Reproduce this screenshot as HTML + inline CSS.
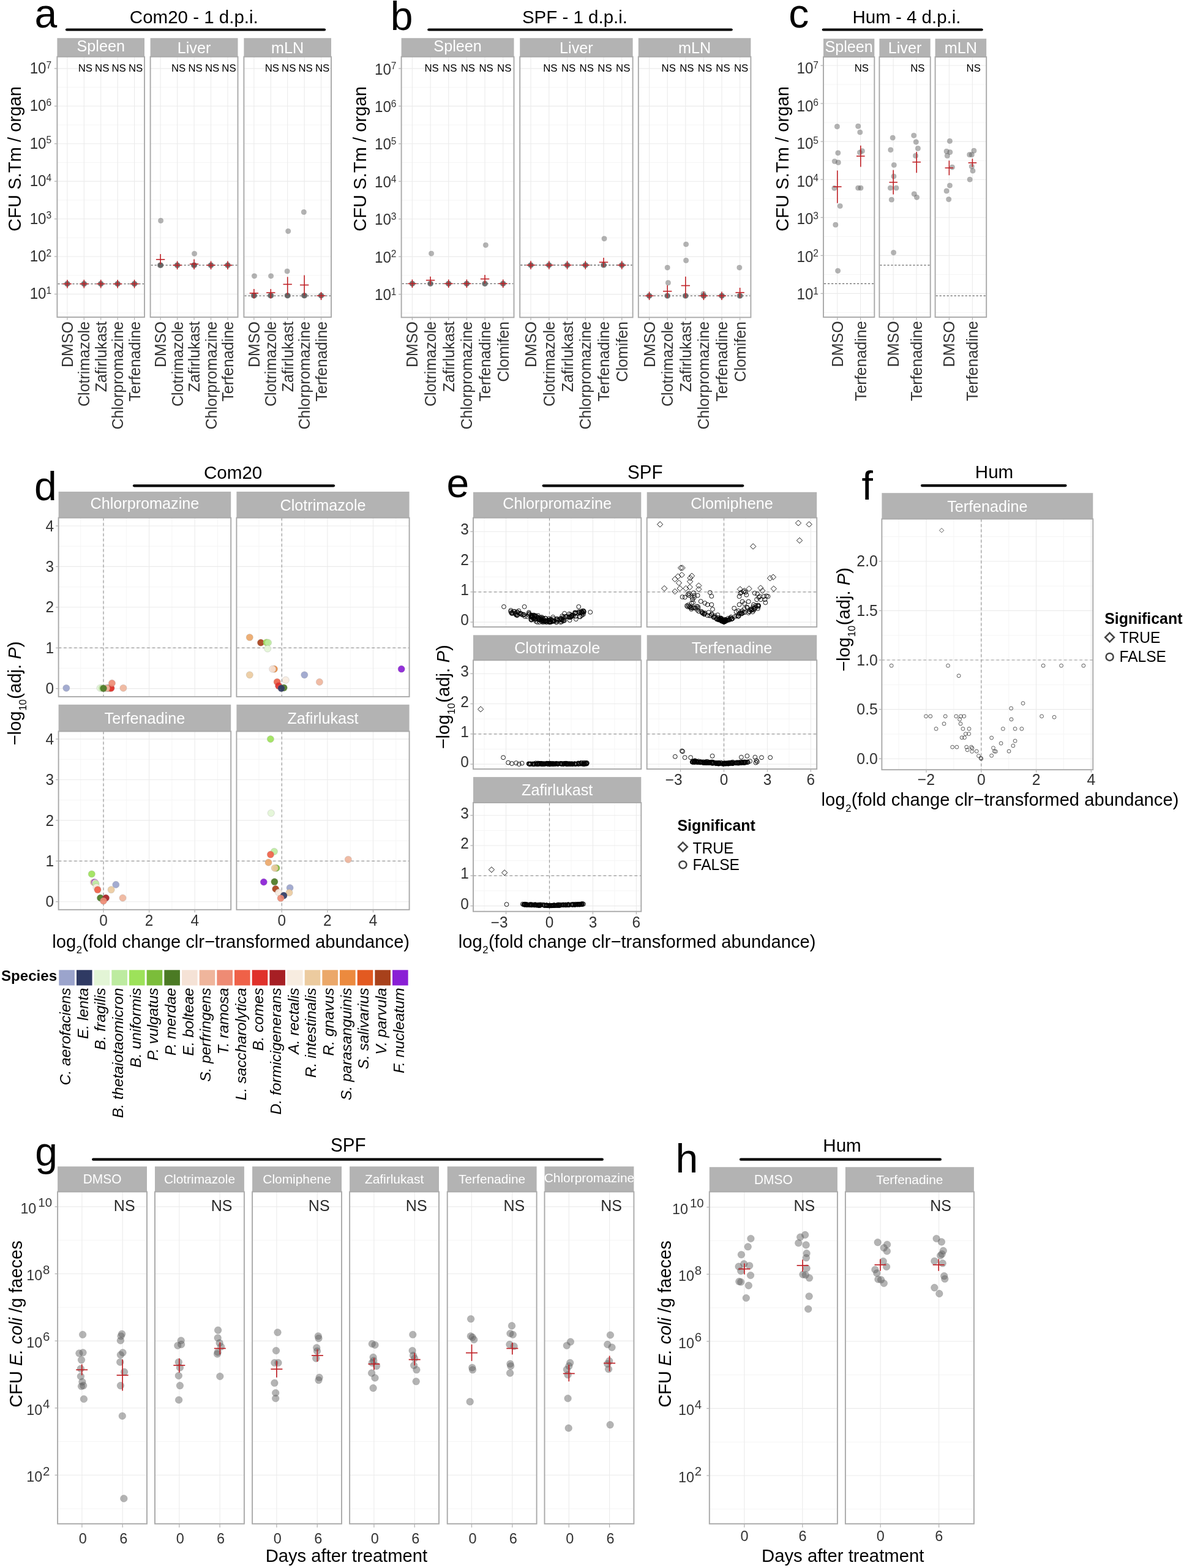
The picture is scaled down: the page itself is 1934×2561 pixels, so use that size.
<!DOCTYPE html>
<html><head><meta charset="utf-8"><title>Figure</title>
<style>html,body{margin:0;padding:0;background:#fff;} svg{display:block;}</style></head>
<body><svg width="1934" height="2561" viewBox="0 0 1934 2561" font-family="'Liberation Sans', Arial, sans-serif"><rect x="0" y="0" width="1934" height="2561" fill="#fff"/>
<text transform="translate(56.5,45.3)" font-size="66" fill="#000">a</text>
<text transform="translate(316.8,38.4)" font-size="29.5" fill="#000" text-anchor="middle">Com20 - 1 d.p.i.</text>
<line x1="109" y1="48.5" x2="530" y2="48.5" stroke="#000" stroke-width="4.2" stroke-linecap="round"/>
<rect x="93.4" y="62.2" width="142.6" height="30.5" fill="#b3b3b3"/>
<text transform="translate(164.7,84.08)" font-size="25.2" fill="#fff" text-anchor="middle">Spleen</text>
<rect x="93.4" y="92.7" width="142.6" height="425.3" fill="#fff"/>
<line x1="93.4" y1="449.69" x2="236" y2="449.69" stroke="#f5f5f5" stroke-width="1"/>
<line x1="93.4" y1="388.27" x2="236" y2="388.27" stroke="#f5f5f5" stroke-width="1"/>
<line x1="93.4" y1="326.85" x2="236" y2="326.85" stroke="#f5f5f5" stroke-width="1"/>
<line x1="93.4" y1="265.43" x2="236" y2="265.43" stroke="#f5f5f5" stroke-width="1"/>
<line x1="93.4" y1="204.01" x2="236" y2="204.01" stroke="#f5f5f5" stroke-width="1"/>
<line x1="93.4" y1="142.59" x2="236" y2="142.59" stroke="#f5f5f5" stroke-width="1"/>
<line x1="93.4" y1="511.11" x2="236" y2="511.11" stroke="#f5f5f5" stroke-width="1"/>
<line x1="93.4" y1="480.4" x2="236" y2="480.4" stroke="#ebebeb" stroke-width="1.1"/>
<line x1="93.4" y1="418.98" x2="236" y2="418.98" stroke="#ebebeb" stroke-width="1.1"/>
<line x1="93.4" y1="357.56" x2="236" y2="357.56" stroke="#ebebeb" stroke-width="1.1"/>
<line x1="93.4" y1="296.14" x2="236" y2="296.14" stroke="#ebebeb" stroke-width="1.1"/>
<line x1="93.4" y1="234.72" x2="236" y2="234.72" stroke="#ebebeb" stroke-width="1.1"/>
<line x1="93.4" y1="173.3" x2="236" y2="173.3" stroke="#ebebeb" stroke-width="1.1"/>
<line x1="93.4" y1="111.88" x2="236" y2="111.88" stroke="#ebebeb" stroke-width="1.1"/>
<line x1="109.85" y1="92.7" x2="109.85" y2="518" stroke="#ebebeb" stroke-width="1.1"/>
<line x1="137.28" y1="92.7" x2="137.28" y2="518" stroke="#ebebeb" stroke-width="1.1"/>
<line x1="164.7" y1="92.7" x2="164.7" y2="518" stroke="#ebebeb" stroke-width="1.1"/>
<line x1="192.12" y1="92.7" x2="192.12" y2="518" stroke="#ebebeb" stroke-width="1.1"/>
<line x1="219.55" y1="92.7" x2="219.55" y2="518" stroke="#ebebeb" stroke-width="1.1"/>
<line x1="94.4" y1="463.6" x2="235" y2="463.6" stroke="#666666" stroke-width="1.3" stroke-dasharray="3.2,2.8"/>
<rect x="93.4" y="92.7" width="142.6" height="425.3" fill="none" stroke="#a9a9a9" stroke-width="1.9"/>
<line x1="88.9" y1="480.4" x2="93.4" y2="480.4" stroke="#b3b3b3" stroke-width="1.3"/>
<line x1="88.9" y1="418.98" x2="93.4" y2="418.98" stroke="#b3b3b3" stroke-width="1.3"/>
<line x1="88.9" y1="357.56" x2="93.4" y2="357.56" stroke="#b3b3b3" stroke-width="1.3"/>
<line x1="88.9" y1="296.14" x2="93.4" y2="296.14" stroke="#b3b3b3" stroke-width="1.3"/>
<line x1="88.9" y1="234.72" x2="93.4" y2="234.72" stroke="#b3b3b3" stroke-width="1.3"/>
<line x1="88.9" y1="173.3" x2="93.4" y2="173.3" stroke="#b3b3b3" stroke-width="1.3"/>
<line x1="88.9" y1="111.88" x2="93.4" y2="111.88" stroke="#b3b3b3" stroke-width="1.3"/>
<line x1="109.85" y1="518" x2="109.85" y2="522.5" stroke="#b3b3b3" stroke-width="1.3"/>
<line x1="137.28" y1="518" x2="137.28" y2="522.5" stroke="#b3b3b3" stroke-width="1.3"/>
<line x1="164.7" y1="518" x2="164.7" y2="522.5" stroke="#b3b3b3" stroke-width="1.3"/>
<line x1="192.12" y1="518" x2="192.12" y2="522.5" stroke="#b3b3b3" stroke-width="1.3"/>
<line x1="219.55" y1="518" x2="219.55" y2="522.5" stroke="#b3b3b3" stroke-width="1.3"/>
<text transform="translate(139.28,116.6) scale(1,1.035)" font-size="16.8" fill="#000" text-anchor="middle">NS</text>
<text transform="translate(166.7,116.6) scale(1,1.035)" font-size="16.8" fill="#000" text-anchor="middle">NS</text>
<text transform="translate(194.12,116.6) scale(1,1.035)" font-size="16.8" fill="#000" text-anchor="middle">NS</text>
<text transform="translate(221.55,116.6) scale(1,1.035)" font-size="16.8" fill="#000" text-anchor="middle">NS</text>
<text transform="translate(118.85,525) rotate(-90) scale(1,1.035)" font-size="25" fill="#333333" text-anchor="end">DMSO</text>
<text transform="translate(146.28,525) rotate(-90)" font-size="25" fill="#333333" text-anchor="end">Clotrimazole</text>
<text transform="translate(173.7,525) rotate(-90)" font-size="25" fill="#333333" text-anchor="end">Zafirlukast</text>
<text transform="translate(201.12,525) rotate(-90)" font-size="25" fill="#333333" text-anchor="end">Chlorpromazine</text>
<text transform="translate(228.55,525) rotate(-90)" font-size="25" fill="#333333" text-anchor="end">Terfenadine</text>
<rect x="245.6" y="62.2" width="142.9" height="30.5" fill="#b3b3b3"/>
<text transform="translate(317.05,86.72)" font-size="25.2" fill="#fff" text-anchor="middle">Liver</text>
<rect x="245.6" y="92.7" width="142.9" height="425.3" fill="#fff"/>
<line x1="245.6" y1="449.69" x2="388.5" y2="449.69" stroke="#f5f5f5" stroke-width="1"/>
<line x1="245.6" y1="388.27" x2="388.5" y2="388.27" stroke="#f5f5f5" stroke-width="1"/>
<line x1="245.6" y1="326.85" x2="388.5" y2="326.85" stroke="#f5f5f5" stroke-width="1"/>
<line x1="245.6" y1="265.43" x2="388.5" y2="265.43" stroke="#f5f5f5" stroke-width="1"/>
<line x1="245.6" y1="204.01" x2="388.5" y2="204.01" stroke="#f5f5f5" stroke-width="1"/>
<line x1="245.6" y1="142.59" x2="388.5" y2="142.59" stroke="#f5f5f5" stroke-width="1"/>
<line x1="245.6" y1="511.11" x2="388.5" y2="511.11" stroke="#f5f5f5" stroke-width="1"/>
<line x1="245.6" y1="480.4" x2="388.5" y2="480.4" stroke="#ebebeb" stroke-width="1.1"/>
<line x1="245.6" y1="418.98" x2="388.5" y2="418.98" stroke="#ebebeb" stroke-width="1.1"/>
<line x1="245.6" y1="357.56" x2="388.5" y2="357.56" stroke="#ebebeb" stroke-width="1.1"/>
<line x1="245.6" y1="296.14" x2="388.5" y2="296.14" stroke="#ebebeb" stroke-width="1.1"/>
<line x1="245.6" y1="234.72" x2="388.5" y2="234.72" stroke="#ebebeb" stroke-width="1.1"/>
<line x1="245.6" y1="173.3" x2="388.5" y2="173.3" stroke="#ebebeb" stroke-width="1.1"/>
<line x1="245.6" y1="111.88" x2="388.5" y2="111.88" stroke="#ebebeb" stroke-width="1.1"/>
<line x1="262.09" y1="92.7" x2="262.09" y2="518" stroke="#ebebeb" stroke-width="1.1"/>
<line x1="289.57" y1="92.7" x2="289.57" y2="518" stroke="#ebebeb" stroke-width="1.1"/>
<line x1="317.05" y1="92.7" x2="317.05" y2="518" stroke="#ebebeb" stroke-width="1.1"/>
<line x1="344.53" y1="92.7" x2="344.53" y2="518" stroke="#ebebeb" stroke-width="1.1"/>
<line x1="372.01" y1="92.7" x2="372.01" y2="518" stroke="#ebebeb" stroke-width="1.1"/>
<line x1="246.6" y1="433.2" x2="387.5" y2="433.2" stroke="#666666" stroke-width="1.3" stroke-dasharray="3.2,2.8"/>
<rect x="245.6" y="92.7" width="142.9" height="425.3" fill="none" stroke="#a9a9a9" stroke-width="1.9"/>
<line x1="262.09" y1="518" x2="262.09" y2="522.5" stroke="#b3b3b3" stroke-width="1.3"/>
<line x1="289.57" y1="518" x2="289.57" y2="522.5" stroke="#b3b3b3" stroke-width="1.3"/>
<line x1="317.05" y1="518" x2="317.05" y2="522.5" stroke="#b3b3b3" stroke-width="1.3"/>
<line x1="344.53" y1="518" x2="344.53" y2="522.5" stroke="#b3b3b3" stroke-width="1.3"/>
<line x1="372.01" y1="518" x2="372.01" y2="522.5" stroke="#b3b3b3" stroke-width="1.3"/>
<text transform="translate(291.57,116.6) scale(1,1.035)" font-size="16.8" fill="#000" text-anchor="middle">NS</text>
<text transform="translate(319.05,116.6) scale(1,1.035)" font-size="16.8" fill="#000" text-anchor="middle">NS</text>
<text transform="translate(346.53,116.6) scale(1,1.035)" font-size="16.8" fill="#000" text-anchor="middle">NS</text>
<text transform="translate(374.01,116.6) scale(1,1.035)" font-size="16.8" fill="#000" text-anchor="middle">NS</text>
<text transform="translate(271.09,525) rotate(-90) scale(1,1.035)" font-size="25" fill="#333333" text-anchor="end">DMSO</text>
<text transform="translate(298.57,525) rotate(-90)" font-size="25" fill="#333333" text-anchor="end">Clotrimazole</text>
<text transform="translate(326.05,525) rotate(-90)" font-size="25" fill="#333333" text-anchor="end">Zafirlukast</text>
<text transform="translate(353.53,525) rotate(-90)" font-size="25" fill="#333333" text-anchor="end">Chlorpromazine</text>
<text transform="translate(381.01,525) rotate(-90)" font-size="25" fill="#333333" text-anchor="end">Terfenadine</text>
<rect x="398.4" y="62.2" width="142.6" height="30.5" fill="#b3b3b3"/>
<text transform="translate(469.7,86.72)" font-size="25.2" fill="#fff" text-anchor="middle">mLN</text>
<rect x="398.4" y="92.7" width="142.6" height="425.3" fill="#fff"/>
<line x1="398.4" y1="449.69" x2="541" y2="449.69" stroke="#f5f5f5" stroke-width="1"/>
<line x1="398.4" y1="388.27" x2="541" y2="388.27" stroke="#f5f5f5" stroke-width="1"/>
<line x1="398.4" y1="326.85" x2="541" y2="326.85" stroke="#f5f5f5" stroke-width="1"/>
<line x1="398.4" y1="265.43" x2="541" y2="265.43" stroke="#f5f5f5" stroke-width="1"/>
<line x1="398.4" y1="204.01" x2="541" y2="204.01" stroke="#f5f5f5" stroke-width="1"/>
<line x1="398.4" y1="142.59" x2="541" y2="142.59" stroke="#f5f5f5" stroke-width="1"/>
<line x1="398.4" y1="511.11" x2="541" y2="511.11" stroke="#f5f5f5" stroke-width="1"/>
<line x1="398.4" y1="480.4" x2="541" y2="480.4" stroke="#ebebeb" stroke-width="1.1"/>
<line x1="398.4" y1="418.98" x2="541" y2="418.98" stroke="#ebebeb" stroke-width="1.1"/>
<line x1="398.4" y1="357.56" x2="541" y2="357.56" stroke="#ebebeb" stroke-width="1.1"/>
<line x1="398.4" y1="296.14" x2="541" y2="296.14" stroke="#ebebeb" stroke-width="1.1"/>
<line x1="398.4" y1="234.72" x2="541" y2="234.72" stroke="#ebebeb" stroke-width="1.1"/>
<line x1="398.4" y1="173.3" x2="541" y2="173.3" stroke="#ebebeb" stroke-width="1.1"/>
<line x1="398.4" y1="111.88" x2="541" y2="111.88" stroke="#ebebeb" stroke-width="1.1"/>
<line x1="414.85" y1="92.7" x2="414.85" y2="518" stroke="#ebebeb" stroke-width="1.1"/>
<line x1="442.28" y1="92.7" x2="442.28" y2="518" stroke="#ebebeb" stroke-width="1.1"/>
<line x1="469.7" y1="92.7" x2="469.7" y2="518" stroke="#ebebeb" stroke-width="1.1"/>
<line x1="497.12" y1="92.7" x2="497.12" y2="518" stroke="#ebebeb" stroke-width="1.1"/>
<line x1="524.55" y1="92.7" x2="524.55" y2="518" stroke="#ebebeb" stroke-width="1.1"/>
<line x1="399.4" y1="483.2" x2="540" y2="483.2" stroke="#666666" stroke-width="1.3" stroke-dasharray="3.2,2.8"/>
<rect x="398.4" y="92.7" width="142.6" height="425.3" fill="none" stroke="#a9a9a9" stroke-width="1.9"/>
<line x1="414.85" y1="518" x2="414.85" y2="522.5" stroke="#b3b3b3" stroke-width="1.3"/>
<line x1="442.28" y1="518" x2="442.28" y2="522.5" stroke="#b3b3b3" stroke-width="1.3"/>
<line x1="469.7" y1="518" x2="469.7" y2="522.5" stroke="#b3b3b3" stroke-width="1.3"/>
<line x1="497.12" y1="518" x2="497.12" y2="522.5" stroke="#b3b3b3" stroke-width="1.3"/>
<line x1="524.55" y1="518" x2="524.55" y2="522.5" stroke="#b3b3b3" stroke-width="1.3"/>
<text transform="translate(444.28,116.6) scale(1,1.035)" font-size="16.8" fill="#000" text-anchor="middle">NS</text>
<text transform="translate(471.7,116.6) scale(1,1.035)" font-size="16.8" fill="#000" text-anchor="middle">NS</text>
<text transform="translate(499.12,116.6) scale(1,1.035)" font-size="16.8" fill="#000" text-anchor="middle">NS</text>
<text transform="translate(526.55,116.6) scale(1,1.035)" font-size="16.8" fill="#000" text-anchor="middle">NS</text>
<text transform="translate(423.85,525) rotate(-90) scale(1,1.035)" font-size="25" fill="#333333" text-anchor="end">DMSO</text>
<text transform="translate(451.28,525) rotate(-90)" font-size="25" fill="#333333" text-anchor="end">Clotrimazole</text>
<text transform="translate(478.7,525) rotate(-90)" font-size="25" fill="#333333" text-anchor="end">Zafirlukast</text>
<text transform="translate(506.12,525) rotate(-90)" font-size="25" fill="#333333" text-anchor="end">Chlorpromazine</text>
<text transform="translate(533.55,525) rotate(-90)" font-size="25" fill="#333333" text-anchor="end">Terfenadine</text>
<text transform="translate(84.2,488.4) scale(1,1.035)" font-size="24.2" fill="#333333" text-anchor="end">10<tspan dy="-8" font-size="15.5">1</tspan></text>
<text transform="translate(84.2,426.98) scale(1,1.035)" font-size="24.2" fill="#333333" text-anchor="end">10<tspan dy="-8" font-size="15.5">2</tspan></text>
<text transform="translate(84.2,365.56) scale(1,1.035)" font-size="24.2" fill="#333333" text-anchor="end">10<tspan dy="-8" font-size="15.5">3</tspan></text>
<text transform="translate(84.2,304.14) scale(1,1.035)" font-size="24.2" fill="#333333" text-anchor="end">10<tspan dy="-8" font-size="15.5">4</tspan></text>
<text transform="translate(84.2,242.72) scale(1,1.035)" font-size="24.2" fill="#333333" text-anchor="end">10<tspan dy="-8" font-size="15.5">5</tspan></text>
<text transform="translate(84.2,181.3) scale(1,1.035)" font-size="24.2" fill="#333333" text-anchor="end">10<tspan dy="-8" font-size="15.5">6</tspan></text>
<text transform="translate(84.2,119.88) scale(1,1.035)" font-size="24.2" fill="#333333" text-anchor="end">10<tspan dy="-8" font-size="15.5">7</tspan></text>
<text transform="translate(34.3,259.5) rotate(-90)" font-size="29.2" fill="#000" text-anchor="middle">CFU S.Tm / organ</text>
<circle cx="109.35" cy="463.6" r="4.1" fill="#595959" fill-opacity="0.45" stroke="#595959" stroke-opacity="0.28" stroke-width="0.8"/>
<circle cx="109.85" cy="463.6" r="4.1" fill="#595959" fill-opacity="0.45" stroke="#595959" stroke-opacity="0.28" stroke-width="0.8"/>
<circle cx="110.35" cy="463.6" r="4.1" fill="#595959" fill-opacity="0.45" stroke="#595959" stroke-opacity="0.28" stroke-width="0.8"/>
<line x1="102.85" y1="463.6" x2="116.85" y2="463.6" stroke="#bf2126" stroke-width="1.6"/>
<line x1="109.85" y1="456.9" x2="109.85" y2="470.5" stroke="#bf2126" stroke-width="1.6"/>
<circle cx="136.78" cy="463.6" r="4.1" fill="#595959" fill-opacity="0.45" stroke="#595959" stroke-opacity="0.28" stroke-width="0.8"/>
<circle cx="137.28" cy="463.6" r="4.1" fill="#595959" fill-opacity="0.45" stroke="#595959" stroke-opacity="0.28" stroke-width="0.8"/>
<circle cx="137.78" cy="463.6" r="4.1" fill="#595959" fill-opacity="0.45" stroke="#595959" stroke-opacity="0.28" stroke-width="0.8"/>
<line x1="130.28" y1="463.6" x2="144.28" y2="463.6" stroke="#bf2126" stroke-width="1.6"/>
<line x1="137.28" y1="456.9" x2="137.28" y2="470.5" stroke="#bf2126" stroke-width="1.6"/>
<circle cx="164.2" cy="463.6" r="4.1" fill="#595959" fill-opacity="0.45" stroke="#595959" stroke-opacity="0.28" stroke-width="0.8"/>
<circle cx="164.7" cy="463.6" r="4.1" fill="#595959" fill-opacity="0.45" stroke="#595959" stroke-opacity="0.28" stroke-width="0.8"/>
<circle cx="165.2" cy="463.6" r="4.1" fill="#595959" fill-opacity="0.45" stroke="#595959" stroke-opacity="0.28" stroke-width="0.8"/>
<line x1="157.7" y1="463.6" x2="171.7" y2="463.6" stroke="#bf2126" stroke-width="1.6"/>
<line x1="164.7" y1="456.9" x2="164.7" y2="470.5" stroke="#bf2126" stroke-width="1.6"/>
<circle cx="191.62" cy="463.6" r="4.1" fill="#595959" fill-opacity="0.45" stroke="#595959" stroke-opacity="0.28" stroke-width="0.8"/>
<circle cx="192.12" cy="463.6" r="4.1" fill="#595959" fill-opacity="0.45" stroke="#595959" stroke-opacity="0.28" stroke-width="0.8"/>
<circle cx="192.62" cy="463.6" r="4.1" fill="#595959" fill-opacity="0.45" stroke="#595959" stroke-opacity="0.28" stroke-width="0.8"/>
<line x1="185.12" y1="463.6" x2="199.12" y2="463.6" stroke="#bf2126" stroke-width="1.6"/>
<line x1="192.12" y1="456.9" x2="192.12" y2="470.5" stroke="#bf2126" stroke-width="1.6"/>
<circle cx="219.05" cy="463.6" r="4.1" fill="#595959" fill-opacity="0.45" stroke="#595959" stroke-opacity="0.28" stroke-width="0.8"/>
<circle cx="219.55" cy="463.6" r="4.1" fill="#595959" fill-opacity="0.45" stroke="#595959" stroke-opacity="0.28" stroke-width="0.8"/>
<circle cx="220.05" cy="463.6" r="4.1" fill="#595959" fill-opacity="0.45" stroke="#595959" stroke-opacity="0.28" stroke-width="0.8"/>
<line x1="212.55" y1="463.6" x2="226.55" y2="463.6" stroke="#bf2126" stroke-width="1.6"/>
<line x1="219.55" y1="456.9" x2="219.55" y2="470.5" stroke="#bf2126" stroke-width="1.6"/>
<circle cx="262.59" cy="360.4" r="4.1" fill="#595959" fill-opacity="0.45" stroke="#595959" stroke-opacity="0.28" stroke-width="0.8"/>
<circle cx="261.34" cy="433.2" r="4.1" fill="#595959" fill-opacity="0.45" stroke="#595959" stroke-opacity="0.28" stroke-width="0.8"/>
<circle cx="261.84" cy="433.2" r="4.1" fill="#595959" fill-opacity="0.45" stroke="#595959" stroke-opacity="0.28" stroke-width="0.8"/>
<circle cx="262.34" cy="433.2" r="4.1" fill="#595959" fill-opacity="0.45" stroke="#595959" stroke-opacity="0.28" stroke-width="0.8"/>
<circle cx="262.84" cy="433.2" r="4.1" fill="#595959" fill-opacity="0.45" stroke="#595959" stroke-opacity="0.28" stroke-width="0.8"/>
<line x1="254.89" y1="423.8" x2="269.29" y2="423.8" stroke="#bf2126" stroke-width="1.6"/>
<line x1="262.09" y1="415" x2="262.09" y2="431.7" stroke="#bf2126" stroke-width="1.6"/>
<circle cx="289.07" cy="433.2" r="4.1" fill="#595959" fill-opacity="0.45" stroke="#595959" stroke-opacity="0.28" stroke-width="0.8"/>
<circle cx="289.57" cy="433.2" r="4.1" fill="#595959" fill-opacity="0.45" stroke="#595959" stroke-opacity="0.28" stroke-width="0.8"/>
<circle cx="290.07" cy="433.2" r="4.1" fill="#595959" fill-opacity="0.45" stroke="#595959" stroke-opacity="0.28" stroke-width="0.8"/>
<line x1="282.57" y1="433.2" x2="296.57" y2="433.2" stroke="#bf2126" stroke-width="1.6"/>
<line x1="289.57" y1="426.5" x2="289.57" y2="440" stroke="#bf2126" stroke-width="1.6"/>
<circle cx="317.55" cy="414.3" r="4.1" fill="#595959" fill-opacity="0.45" stroke="#595959" stroke-opacity="0.28" stroke-width="0.8"/>
<circle cx="316.3" cy="433.2" r="4.1" fill="#595959" fill-opacity="0.45" stroke="#595959" stroke-opacity="0.28" stroke-width="0.8"/>
<circle cx="316.8" cy="433.2" r="4.1" fill="#595959" fill-opacity="0.45" stroke="#595959" stroke-opacity="0.28" stroke-width="0.8"/>
<circle cx="317.3" cy="433.2" r="4.1" fill="#595959" fill-opacity="0.45" stroke="#595959" stroke-opacity="0.28" stroke-width="0.8"/>
<circle cx="317.8" cy="433.2" r="4.1" fill="#595959" fill-opacity="0.45" stroke="#595959" stroke-opacity="0.28" stroke-width="0.8"/>
<line x1="309.85" y1="431.3" x2="324.25" y2="431.3" stroke="#bf2126" stroke-width="1.6"/>
<line x1="317.05" y1="423.4" x2="317.05" y2="440" stroke="#bf2126" stroke-width="1.6"/>
<circle cx="344.03" cy="433.2" r="4.1" fill="#595959" fill-opacity="0.45" stroke="#595959" stroke-opacity="0.28" stroke-width="0.8"/>
<circle cx="344.53" cy="433.2" r="4.1" fill="#595959" fill-opacity="0.45" stroke="#595959" stroke-opacity="0.28" stroke-width="0.8"/>
<circle cx="345.03" cy="433.2" r="4.1" fill="#595959" fill-opacity="0.45" stroke="#595959" stroke-opacity="0.28" stroke-width="0.8"/>
<line x1="337.53" y1="433.2" x2="351.53" y2="433.2" stroke="#bf2126" stroke-width="1.6"/>
<line x1="344.53" y1="426.5" x2="344.53" y2="440" stroke="#bf2126" stroke-width="1.6"/>
<circle cx="371.51" cy="433.2" r="4.1" fill="#595959" fill-opacity="0.45" stroke="#595959" stroke-opacity="0.28" stroke-width="0.8"/>
<circle cx="372.01" cy="433.2" r="4.1" fill="#595959" fill-opacity="0.45" stroke="#595959" stroke-opacity="0.28" stroke-width="0.8"/>
<circle cx="372.51" cy="433.2" r="4.1" fill="#595959" fill-opacity="0.45" stroke="#595959" stroke-opacity="0.28" stroke-width="0.8"/>
<line x1="365.01" y1="433.2" x2="379.01" y2="433.2" stroke="#bf2126" stroke-width="1.6"/>
<line x1="372.01" y1="426.5" x2="372.01" y2="440" stroke="#bf2126" stroke-width="1.6"/>
<circle cx="415.45" cy="450.8" r="4.1" fill="#595959" fill-opacity="0.45" stroke="#595959" stroke-opacity="0.28" stroke-width="0.8"/>
<circle cx="414.1" cy="482.8" r="4.1" fill="#595959" fill-opacity="0.45" stroke="#595959" stroke-opacity="0.28" stroke-width="0.8"/>
<circle cx="414.6" cy="482.8" r="4.1" fill="#595959" fill-opacity="0.45" stroke="#595959" stroke-opacity="0.28" stroke-width="0.8"/>
<circle cx="415.1" cy="482.8" r="4.1" fill="#595959" fill-opacity="0.45" stroke="#595959" stroke-opacity="0.28" stroke-width="0.8"/>
<circle cx="415.6" cy="482.8" r="4.1" fill="#595959" fill-opacity="0.45" stroke="#595959" stroke-opacity="0.28" stroke-width="0.8"/>
<line x1="407.65" y1="478.8" x2="422.05" y2="478.8" stroke="#bf2126" stroke-width="1.6"/>
<line x1="414.85" y1="472.1" x2="414.85" y2="487.4" stroke="#bf2126" stroke-width="1.6"/>
<circle cx="442.58" cy="450.8" r="4.1" fill="#595959" fill-opacity="0.45" stroke="#595959" stroke-opacity="0.28" stroke-width="0.8"/>
<circle cx="441.53" cy="482.8" r="4.1" fill="#595959" fill-opacity="0.45" stroke="#595959" stroke-opacity="0.28" stroke-width="0.8"/>
<circle cx="442.03" cy="482.8" r="4.1" fill="#595959" fill-opacity="0.45" stroke="#595959" stroke-opacity="0.28" stroke-width="0.8"/>
<circle cx="442.53" cy="482.8" r="4.1" fill="#595959" fill-opacity="0.45" stroke="#595959" stroke-opacity="0.28" stroke-width="0.8"/>
<circle cx="443.03" cy="482.8" r="4.1" fill="#595959" fill-opacity="0.45" stroke="#595959" stroke-opacity="0.28" stroke-width="0.8"/>
<line x1="435.08" y1="478" x2="449.48" y2="478" stroke="#bf2126" stroke-width="1.6"/>
<line x1="442.28" y1="472.1" x2="442.28" y2="487.4" stroke="#bf2126" stroke-width="1.6"/>
<circle cx="470.7" cy="377.6" r="4.1" fill="#595959" fill-opacity="0.45" stroke="#595959" stroke-opacity="0.28" stroke-width="0.8"/>
<circle cx="469.1" cy="443" r="4.1" fill="#595959" fill-opacity="0.45" stroke="#595959" stroke-opacity="0.28" stroke-width="0.8"/>
<circle cx="468.95" cy="482.8" r="4.1" fill="#595959" fill-opacity="0.45" stroke="#595959" stroke-opacity="0.28" stroke-width="0.8"/>
<circle cx="469.45" cy="482.8" r="4.1" fill="#595959" fill-opacity="0.45" stroke="#595959" stroke-opacity="0.28" stroke-width="0.8"/>
<circle cx="469.95" cy="482.8" r="4.1" fill="#595959" fill-opacity="0.45" stroke="#595959" stroke-opacity="0.28" stroke-width="0.8"/>
<circle cx="470.45" cy="482.8" r="4.1" fill="#595959" fill-opacity="0.45" stroke="#595959" stroke-opacity="0.28" stroke-width="0.8"/>
<line x1="462.5" y1="464.4" x2="476.9" y2="464.4" stroke="#bf2126" stroke-width="1.6"/>
<line x1="469.7" y1="452.3" x2="469.7" y2="481.5" stroke="#bf2126" stroke-width="1.6"/>
<circle cx="496.32" cy="346.4" r="4.1" fill="#595959" fill-opacity="0.45" stroke="#595959" stroke-opacity="0.28" stroke-width="0.8"/>
<circle cx="496.37" cy="482.8" r="4.1" fill="#595959" fill-opacity="0.45" stroke="#595959" stroke-opacity="0.28" stroke-width="0.8"/>
<circle cx="496.87" cy="482.8" r="4.1" fill="#595959" fill-opacity="0.45" stroke="#595959" stroke-opacity="0.28" stroke-width="0.8"/>
<circle cx="497.37" cy="482.8" r="4.1" fill="#595959" fill-opacity="0.45" stroke="#595959" stroke-opacity="0.28" stroke-width="0.8"/>
<circle cx="497.87" cy="482.8" r="4.1" fill="#595959" fill-opacity="0.45" stroke="#595959" stroke-opacity="0.28" stroke-width="0.8"/>
<line x1="489.92" y1="465.5" x2="504.32" y2="465.5" stroke="#bf2126" stroke-width="1.6"/>
<line x1="497.12" y1="449.6" x2="497.12" y2="482.5" stroke="#bf2126" stroke-width="1.6"/>
<circle cx="524.05" cy="482.8" r="4.1" fill="#595959" fill-opacity="0.45" stroke="#595959" stroke-opacity="0.28" stroke-width="0.8"/>
<circle cx="524.55" cy="482.8" r="4.1" fill="#595959" fill-opacity="0.45" stroke="#595959" stroke-opacity="0.28" stroke-width="0.8"/>
<circle cx="525.05" cy="482.8" r="4.1" fill="#595959" fill-opacity="0.45" stroke="#595959" stroke-opacity="0.28" stroke-width="0.8"/>
<line x1="517.55" y1="483" x2="531.55" y2="483" stroke="#bf2126" stroke-width="1.6"/>
<line x1="524.55" y1="477" x2="524.55" y2="490" stroke="#bf2126" stroke-width="1.6"/>
<text transform="translate(637.8,48.6)" font-size="66" fill="#000">b</text>
<text transform="translate(939,38.4)" font-size="29.5" fill="#000" text-anchor="middle">SPF - 1 d.p.i.</text>
<line x1="700.3" y1="48.5" x2="1194.7" y2="48.5" stroke="#000" stroke-width="4.2" stroke-linecap="round"/>
<rect x="655.6" y="62.2" width="183.9" height="30.5" fill="#b3b3b3"/>
<text transform="translate(747.55,84.08)" font-size="25.2" fill="#fff" text-anchor="middle">Spleen</text>
<rect x="655.6" y="92.7" width="183.9" height="425.7" fill="#fff"/>
<line x1="655.6" y1="449.88" x2="839.5" y2="449.88" stroke="#f5f5f5" stroke-width="1"/>
<line x1="655.6" y1="388.43" x2="839.5" y2="388.43" stroke="#f5f5f5" stroke-width="1"/>
<line x1="655.6" y1="326.98" x2="839.5" y2="326.98" stroke="#f5f5f5" stroke-width="1"/>
<line x1="655.6" y1="265.52" x2="839.5" y2="265.52" stroke="#f5f5f5" stroke-width="1"/>
<line x1="655.6" y1="204.08" x2="839.5" y2="204.08" stroke="#f5f5f5" stroke-width="1"/>
<line x1="655.6" y1="142.63" x2="839.5" y2="142.63" stroke="#f5f5f5" stroke-width="1"/>
<line x1="655.6" y1="511.33" x2="839.5" y2="511.33" stroke="#f5f5f5" stroke-width="1"/>
<line x1="655.6" y1="480.6" x2="839.5" y2="480.6" stroke="#ebebeb" stroke-width="1.1"/>
<line x1="655.6" y1="419.15" x2="839.5" y2="419.15" stroke="#ebebeb" stroke-width="1.1"/>
<line x1="655.6" y1="357.7" x2="839.5" y2="357.7" stroke="#ebebeb" stroke-width="1.1"/>
<line x1="655.6" y1="296.25" x2="839.5" y2="296.25" stroke="#ebebeb" stroke-width="1.1"/>
<line x1="655.6" y1="234.8" x2="839.5" y2="234.8" stroke="#ebebeb" stroke-width="1.1"/>
<line x1="655.6" y1="173.35" x2="839.5" y2="173.35" stroke="#ebebeb" stroke-width="1.1"/>
<line x1="655.6" y1="111.9" x2="839.5" y2="111.9" stroke="#ebebeb" stroke-width="1.1"/>
<line x1="673.4" y1="92.7" x2="673.4" y2="518.4" stroke="#ebebeb" stroke-width="1.1"/>
<line x1="703.06" y1="92.7" x2="703.06" y2="518.4" stroke="#ebebeb" stroke-width="1.1"/>
<line x1="732.72" y1="92.7" x2="732.72" y2="518.4" stroke="#ebebeb" stroke-width="1.1"/>
<line x1="762.38" y1="92.7" x2="762.38" y2="518.4" stroke="#ebebeb" stroke-width="1.1"/>
<line x1="792.04" y1="92.7" x2="792.04" y2="518.4" stroke="#ebebeb" stroke-width="1.1"/>
<line x1="821.7" y1="92.7" x2="821.7" y2="518.4" stroke="#ebebeb" stroke-width="1.1"/>
<line x1="656.6" y1="463.3" x2="838.5" y2="463.3" stroke="#666666" stroke-width="1.3" stroke-dasharray="3.2,2.8"/>
<rect x="655.6" y="92.7" width="183.9" height="425.7" fill="none" stroke="#a9a9a9" stroke-width="1.9"/>
<line x1="651.1" y1="480.6" x2="655.6" y2="480.6" stroke="#b3b3b3" stroke-width="1.3"/>
<line x1="651.1" y1="419.15" x2="655.6" y2="419.15" stroke="#b3b3b3" stroke-width="1.3"/>
<line x1="651.1" y1="357.7" x2="655.6" y2="357.7" stroke="#b3b3b3" stroke-width="1.3"/>
<line x1="651.1" y1="296.25" x2="655.6" y2="296.25" stroke="#b3b3b3" stroke-width="1.3"/>
<line x1="651.1" y1="234.8" x2="655.6" y2="234.8" stroke="#b3b3b3" stroke-width="1.3"/>
<line x1="651.1" y1="173.35" x2="655.6" y2="173.35" stroke="#b3b3b3" stroke-width="1.3"/>
<line x1="651.1" y1="111.9" x2="655.6" y2="111.9" stroke="#b3b3b3" stroke-width="1.3"/>
<line x1="673.4" y1="518.4" x2="673.4" y2="522.9" stroke="#b3b3b3" stroke-width="1.3"/>
<line x1="703.06" y1="518.4" x2="703.06" y2="522.9" stroke="#b3b3b3" stroke-width="1.3"/>
<line x1="732.72" y1="518.4" x2="732.72" y2="522.9" stroke="#b3b3b3" stroke-width="1.3"/>
<line x1="762.38" y1="518.4" x2="762.38" y2="522.9" stroke="#b3b3b3" stroke-width="1.3"/>
<line x1="792.04" y1="518.4" x2="792.04" y2="522.9" stroke="#b3b3b3" stroke-width="1.3"/>
<line x1="821.7" y1="518.4" x2="821.7" y2="522.9" stroke="#b3b3b3" stroke-width="1.3"/>
<text transform="translate(705.06,116.6) scale(1,1.035)" font-size="16.8" fill="#000" text-anchor="middle">NS</text>
<text transform="translate(734.72,116.6) scale(1,1.035)" font-size="16.8" fill="#000" text-anchor="middle">NS</text>
<text transform="translate(764.38,116.6) scale(1,1.035)" font-size="16.8" fill="#000" text-anchor="middle">NS</text>
<text transform="translate(794.04,116.6) scale(1,1.035)" font-size="16.8" fill="#000" text-anchor="middle">NS</text>
<text transform="translate(823.7,116.6) scale(1,1.035)" font-size="16.8" fill="#000" text-anchor="middle">NS</text>
<text transform="translate(682.4,525) rotate(-90) scale(1,1.035)" font-size="25" fill="#333333" text-anchor="end">DMSO</text>
<text transform="translate(712.06,525) rotate(-90)" font-size="25" fill="#333333" text-anchor="end">Clotrimazole</text>
<text transform="translate(741.72,525) rotate(-90)" font-size="25" fill="#333333" text-anchor="end">Zafirlukast</text>
<text transform="translate(771.38,525) rotate(-90)" font-size="25" fill="#333333" text-anchor="end">Chlorpromazine</text>
<text transform="translate(801.04,525) rotate(-90)" font-size="25" fill="#333333" text-anchor="end">Terfenadine</text>
<text transform="translate(830.7,525) rotate(-90)" font-size="25" fill="#333333" text-anchor="end">Clomifen</text>
<rect x="849.2" y="62.2" width="184.4" height="30.5" fill="#b3b3b3"/>
<text transform="translate(941.4,86.72)" font-size="25.2" fill="#fff" text-anchor="middle">Liver</text>
<rect x="849.2" y="92.7" width="184.4" height="425.7" fill="#fff"/>
<line x1="849.2" y1="449.88" x2="1033.6" y2="449.88" stroke="#f5f5f5" stroke-width="1"/>
<line x1="849.2" y1="388.43" x2="1033.6" y2="388.43" stroke="#f5f5f5" stroke-width="1"/>
<line x1="849.2" y1="326.98" x2="1033.6" y2="326.98" stroke="#f5f5f5" stroke-width="1"/>
<line x1="849.2" y1="265.52" x2="1033.6" y2="265.52" stroke="#f5f5f5" stroke-width="1"/>
<line x1="849.2" y1="204.08" x2="1033.6" y2="204.08" stroke="#f5f5f5" stroke-width="1"/>
<line x1="849.2" y1="142.63" x2="1033.6" y2="142.63" stroke="#f5f5f5" stroke-width="1"/>
<line x1="849.2" y1="511.33" x2="1033.6" y2="511.33" stroke="#f5f5f5" stroke-width="1"/>
<line x1="849.2" y1="480.6" x2="1033.6" y2="480.6" stroke="#ebebeb" stroke-width="1.1"/>
<line x1="849.2" y1="419.15" x2="1033.6" y2="419.15" stroke="#ebebeb" stroke-width="1.1"/>
<line x1="849.2" y1="357.7" x2="1033.6" y2="357.7" stroke="#ebebeb" stroke-width="1.1"/>
<line x1="849.2" y1="296.25" x2="1033.6" y2="296.25" stroke="#ebebeb" stroke-width="1.1"/>
<line x1="849.2" y1="234.8" x2="1033.6" y2="234.8" stroke="#ebebeb" stroke-width="1.1"/>
<line x1="849.2" y1="173.35" x2="1033.6" y2="173.35" stroke="#ebebeb" stroke-width="1.1"/>
<line x1="849.2" y1="111.9" x2="1033.6" y2="111.9" stroke="#ebebeb" stroke-width="1.1"/>
<line x1="867.05" y1="92.7" x2="867.05" y2="518.4" stroke="#ebebeb" stroke-width="1.1"/>
<line x1="896.79" y1="92.7" x2="896.79" y2="518.4" stroke="#ebebeb" stroke-width="1.1"/>
<line x1="926.53" y1="92.7" x2="926.53" y2="518.4" stroke="#ebebeb" stroke-width="1.1"/>
<line x1="956.27" y1="92.7" x2="956.27" y2="518.4" stroke="#ebebeb" stroke-width="1.1"/>
<line x1="986.01" y1="92.7" x2="986.01" y2="518.4" stroke="#ebebeb" stroke-width="1.1"/>
<line x1="1015.75" y1="92.7" x2="1015.75" y2="518.4" stroke="#ebebeb" stroke-width="1.1"/>
<line x1="850.2" y1="433" x2="1032.6" y2="433" stroke="#666666" stroke-width="1.3" stroke-dasharray="3.2,2.8"/>
<rect x="849.2" y="92.7" width="184.4" height="425.7" fill="none" stroke="#a9a9a9" stroke-width="1.9"/>
<line x1="867.05" y1="518.4" x2="867.05" y2="522.9" stroke="#b3b3b3" stroke-width="1.3"/>
<line x1="896.79" y1="518.4" x2="896.79" y2="522.9" stroke="#b3b3b3" stroke-width="1.3"/>
<line x1="926.53" y1="518.4" x2="926.53" y2="522.9" stroke="#b3b3b3" stroke-width="1.3"/>
<line x1="956.27" y1="518.4" x2="956.27" y2="522.9" stroke="#b3b3b3" stroke-width="1.3"/>
<line x1="986.01" y1="518.4" x2="986.01" y2="522.9" stroke="#b3b3b3" stroke-width="1.3"/>
<line x1="1015.75" y1="518.4" x2="1015.75" y2="522.9" stroke="#b3b3b3" stroke-width="1.3"/>
<text transform="translate(898.79,116.6) scale(1,1.035)" font-size="16.8" fill="#000" text-anchor="middle">NS</text>
<text transform="translate(928.53,116.6) scale(1,1.035)" font-size="16.8" fill="#000" text-anchor="middle">NS</text>
<text transform="translate(958.27,116.6) scale(1,1.035)" font-size="16.8" fill="#000" text-anchor="middle">NS</text>
<text transform="translate(988.01,116.6) scale(1,1.035)" font-size="16.8" fill="#000" text-anchor="middle">NS</text>
<text transform="translate(1017.75,116.6) scale(1,1.035)" font-size="16.8" fill="#000" text-anchor="middle">NS</text>
<text transform="translate(876.05,525) rotate(-90) scale(1,1.035)" font-size="25" fill="#333333" text-anchor="end">DMSO</text>
<text transform="translate(905.79,525) rotate(-90)" font-size="25" fill="#333333" text-anchor="end">Clotrimazole</text>
<text transform="translate(935.53,525) rotate(-90)" font-size="25" fill="#333333" text-anchor="end">Zafirlukast</text>
<text transform="translate(965.27,525) rotate(-90)" font-size="25" fill="#333333" text-anchor="end">Chlorpromazine</text>
<text transform="translate(995.01,525) rotate(-90)" font-size="25" fill="#333333" text-anchor="end">Terfenadine</text>
<text transform="translate(1024.75,525) rotate(-90)" font-size="25" fill="#333333" text-anchor="end">Clomifen</text>
<rect x="1042.8" y="62.2" width="183.6" height="30.5" fill="#b3b3b3"/>
<text transform="translate(1134.6,86.72)" font-size="25.2" fill="#fff" text-anchor="middle">mLN</text>
<rect x="1042.8" y="92.7" width="183.6" height="425.7" fill="#fff"/>
<line x1="1042.8" y1="449.88" x2="1226.4" y2="449.88" stroke="#f5f5f5" stroke-width="1"/>
<line x1="1042.8" y1="388.43" x2="1226.4" y2="388.43" stroke="#f5f5f5" stroke-width="1"/>
<line x1="1042.8" y1="326.98" x2="1226.4" y2="326.98" stroke="#f5f5f5" stroke-width="1"/>
<line x1="1042.8" y1="265.52" x2="1226.4" y2="265.52" stroke="#f5f5f5" stroke-width="1"/>
<line x1="1042.8" y1="204.08" x2="1226.4" y2="204.08" stroke="#f5f5f5" stroke-width="1"/>
<line x1="1042.8" y1="142.63" x2="1226.4" y2="142.63" stroke="#f5f5f5" stroke-width="1"/>
<line x1="1042.8" y1="511.33" x2="1226.4" y2="511.33" stroke="#f5f5f5" stroke-width="1"/>
<line x1="1042.8" y1="480.6" x2="1226.4" y2="480.6" stroke="#ebebeb" stroke-width="1.1"/>
<line x1="1042.8" y1="419.15" x2="1226.4" y2="419.15" stroke="#ebebeb" stroke-width="1.1"/>
<line x1="1042.8" y1="357.7" x2="1226.4" y2="357.7" stroke="#ebebeb" stroke-width="1.1"/>
<line x1="1042.8" y1="296.25" x2="1226.4" y2="296.25" stroke="#ebebeb" stroke-width="1.1"/>
<line x1="1042.8" y1="234.8" x2="1226.4" y2="234.8" stroke="#ebebeb" stroke-width="1.1"/>
<line x1="1042.8" y1="173.35" x2="1226.4" y2="173.35" stroke="#ebebeb" stroke-width="1.1"/>
<line x1="1042.8" y1="111.9" x2="1226.4" y2="111.9" stroke="#ebebeb" stroke-width="1.1"/>
<line x1="1060.57" y1="92.7" x2="1060.57" y2="518.4" stroke="#ebebeb" stroke-width="1.1"/>
<line x1="1090.18" y1="92.7" x2="1090.18" y2="518.4" stroke="#ebebeb" stroke-width="1.1"/>
<line x1="1119.79" y1="92.7" x2="1119.79" y2="518.4" stroke="#ebebeb" stroke-width="1.1"/>
<line x1="1149.41" y1="92.7" x2="1149.41" y2="518.4" stroke="#ebebeb" stroke-width="1.1"/>
<line x1="1179.02" y1="92.7" x2="1179.02" y2="518.4" stroke="#ebebeb" stroke-width="1.1"/>
<line x1="1208.63" y1="92.7" x2="1208.63" y2="518.4" stroke="#ebebeb" stroke-width="1.1"/>
<line x1="1043.8" y1="483.2" x2="1225.4" y2="483.2" stroke="#666666" stroke-width="1.3" stroke-dasharray="3.2,2.8"/>
<rect x="1042.8" y="92.7" width="183.6" height="425.7" fill="none" stroke="#a9a9a9" stroke-width="1.9"/>
<line x1="1060.57" y1="518.4" x2="1060.57" y2="522.9" stroke="#b3b3b3" stroke-width="1.3"/>
<line x1="1090.18" y1="518.4" x2="1090.18" y2="522.9" stroke="#b3b3b3" stroke-width="1.3"/>
<line x1="1119.79" y1="518.4" x2="1119.79" y2="522.9" stroke="#b3b3b3" stroke-width="1.3"/>
<line x1="1149.41" y1="518.4" x2="1149.41" y2="522.9" stroke="#b3b3b3" stroke-width="1.3"/>
<line x1="1179.02" y1="518.4" x2="1179.02" y2="522.9" stroke="#b3b3b3" stroke-width="1.3"/>
<line x1="1208.63" y1="518.4" x2="1208.63" y2="522.9" stroke="#b3b3b3" stroke-width="1.3"/>
<text transform="translate(1092.18,116.6) scale(1,1.035)" font-size="16.8" fill="#000" text-anchor="middle">NS</text>
<text transform="translate(1121.79,116.6) scale(1,1.035)" font-size="16.8" fill="#000" text-anchor="middle">NS</text>
<text transform="translate(1151.41,116.6) scale(1,1.035)" font-size="16.8" fill="#000" text-anchor="middle">NS</text>
<text transform="translate(1181.02,116.6) scale(1,1.035)" font-size="16.8" fill="#000" text-anchor="middle">NS</text>
<text transform="translate(1210.63,116.6) scale(1,1.035)" font-size="16.8" fill="#000" text-anchor="middle">NS</text>
<text transform="translate(1069.57,525) rotate(-90) scale(1,1.035)" font-size="25" fill="#333333" text-anchor="end">DMSO</text>
<text transform="translate(1099.18,525) rotate(-90)" font-size="25" fill="#333333" text-anchor="end">Clotrimazole</text>
<text transform="translate(1128.79,525) rotate(-90)" font-size="25" fill="#333333" text-anchor="end">Zafirlukast</text>
<text transform="translate(1158.41,525) rotate(-90)" font-size="25" fill="#333333" text-anchor="end">Chlorpromazine</text>
<text transform="translate(1188.02,525) rotate(-90)" font-size="25" fill="#333333" text-anchor="end">Terfenadine</text>
<text transform="translate(1217.63,525) rotate(-90)" font-size="25" fill="#333333" text-anchor="end">Clomifen</text>
<text transform="translate(647.5,490.2) scale(1,1.035)" font-size="24.2" fill="#333333" text-anchor="end">10<tspan dy="-8" font-size="15.5">1</tspan></text>
<text transform="translate(647.5,428.75) scale(1,1.035)" font-size="24.2" fill="#333333" text-anchor="end">10<tspan dy="-8" font-size="15.5">2</tspan></text>
<text transform="translate(647.5,367.3) scale(1,1.035)" font-size="24.2" fill="#333333" text-anchor="end">10<tspan dy="-8" font-size="15.5">3</tspan></text>
<text transform="translate(647.5,305.85) scale(1,1.035)" font-size="24.2" fill="#333333" text-anchor="end">10<tspan dy="-8" font-size="15.5">4</tspan></text>
<text transform="translate(647.5,244.4) scale(1,1.035)" font-size="24.2" fill="#333333" text-anchor="end">10<tspan dy="-8" font-size="15.5">5</tspan></text>
<text transform="translate(647.5,182.95) scale(1,1.035)" font-size="24.2" fill="#333333" text-anchor="end">10<tspan dy="-8" font-size="15.5">6</tspan></text>
<text transform="translate(647.5,121.5) scale(1,1.035)" font-size="24.2" fill="#333333" text-anchor="end">10<tspan dy="-8" font-size="15.5">7</tspan></text>
<text transform="translate(598.3,259.5) rotate(-90)" font-size="29.2" fill="#000" text-anchor="middle">CFU S.Tm / organ</text>
<circle cx="672.9" cy="463.3" r="4.1" fill="#595959" fill-opacity="0.45" stroke="#595959" stroke-opacity="0.28" stroke-width="0.8"/>
<circle cx="673.4" cy="463.3" r="4.1" fill="#595959" fill-opacity="0.45" stroke="#595959" stroke-opacity="0.28" stroke-width="0.8"/>
<circle cx="673.9" cy="463.3" r="4.1" fill="#595959" fill-opacity="0.45" stroke="#595959" stroke-opacity="0.28" stroke-width="0.8"/>
<circle cx="702.56" cy="463.3" r="4.1" fill="#595959" fill-opacity="0.45" stroke="#595959" stroke-opacity="0.28" stroke-width="0.8"/>
<circle cx="703.06" cy="463.3" r="4.1" fill="#595959" fill-opacity="0.45" stroke="#595959" stroke-opacity="0.28" stroke-width="0.8"/>
<circle cx="703.56" cy="463.3" r="4.1" fill="#595959" fill-opacity="0.45" stroke="#595959" stroke-opacity="0.28" stroke-width="0.8"/>
<circle cx="732.22" cy="463.3" r="4.1" fill="#595959" fill-opacity="0.45" stroke="#595959" stroke-opacity="0.28" stroke-width="0.8"/>
<circle cx="732.72" cy="463.3" r="4.1" fill="#595959" fill-opacity="0.45" stroke="#595959" stroke-opacity="0.28" stroke-width="0.8"/>
<circle cx="733.22" cy="463.3" r="4.1" fill="#595959" fill-opacity="0.45" stroke="#595959" stroke-opacity="0.28" stroke-width="0.8"/>
<circle cx="761.88" cy="463.3" r="4.1" fill="#595959" fill-opacity="0.45" stroke="#595959" stroke-opacity="0.28" stroke-width="0.8"/>
<circle cx="762.38" cy="463.3" r="4.1" fill="#595959" fill-opacity="0.45" stroke="#595959" stroke-opacity="0.28" stroke-width="0.8"/>
<circle cx="762.88" cy="463.3" r="4.1" fill="#595959" fill-opacity="0.45" stroke="#595959" stroke-opacity="0.28" stroke-width="0.8"/>
<circle cx="791.54" cy="463.3" r="4.1" fill="#595959" fill-opacity="0.45" stroke="#595959" stroke-opacity="0.28" stroke-width="0.8"/>
<circle cx="792.04" cy="463.3" r="4.1" fill="#595959" fill-opacity="0.45" stroke="#595959" stroke-opacity="0.28" stroke-width="0.8"/>
<circle cx="792.54" cy="463.3" r="4.1" fill="#595959" fill-opacity="0.45" stroke="#595959" stroke-opacity="0.28" stroke-width="0.8"/>
<circle cx="821.2" cy="463.3" r="4.1" fill="#595959" fill-opacity="0.45" stroke="#595959" stroke-opacity="0.28" stroke-width="0.8"/>
<circle cx="821.7" cy="463.3" r="4.1" fill="#595959" fill-opacity="0.45" stroke="#595959" stroke-opacity="0.28" stroke-width="0.8"/>
<circle cx="822.2" cy="463.3" r="4.1" fill="#595959" fill-opacity="0.45" stroke="#595959" stroke-opacity="0.28" stroke-width="0.8"/>
<line x1="666.4" y1="463.3" x2="680.4" y2="463.3" stroke="#bf2126" stroke-width="1.6"/>
<line x1="673.4" y1="456.5" x2="673.4" y2="470" stroke="#bf2126" stroke-width="1.6"/>
<circle cx="704.56" cy="414.1" r="4.1" fill="#595959" fill-opacity="0.45" stroke="#595959" stroke-opacity="0.28" stroke-width="0.8"/>
<line x1="695.86" y1="457.7" x2="710.26" y2="457.7" stroke="#bf2126" stroke-width="1.6"/>
<line x1="703.06" y1="451.8" x2="703.06" y2="465.2" stroke="#bf2126" stroke-width="1.6"/>
<line x1="725.72" y1="463.3" x2="739.72" y2="463.3" stroke="#bf2126" stroke-width="1.6"/>
<line x1="732.72" y1="456.5" x2="732.72" y2="470" stroke="#bf2126" stroke-width="1.6"/>
<line x1="755.38" y1="463.3" x2="769.38" y2="463.3" stroke="#bf2126" stroke-width="1.6"/>
<line x1="762.38" y1="456.5" x2="762.38" y2="470" stroke="#bf2126" stroke-width="1.6"/>
<circle cx="793.34" cy="400.3" r="4.1" fill="#595959" fill-opacity="0.45" stroke="#595959" stroke-opacity="0.28" stroke-width="0.8"/>
<line x1="784.84" y1="455.6" x2="799.24" y2="455.6" stroke="#bf2126" stroke-width="1.6"/>
<line x1="792.04" y1="449" x2="792.04" y2="463" stroke="#bf2126" stroke-width="1.6"/>
<line x1="814.7" y1="463.3" x2="828.7" y2="463.3" stroke="#bf2126" stroke-width="1.6"/>
<line x1="821.7" y1="456.5" x2="821.7" y2="470" stroke="#bf2126" stroke-width="1.6"/>
<circle cx="866.55" cy="433" r="4.1" fill="#595959" fill-opacity="0.45" stroke="#595959" stroke-opacity="0.28" stroke-width="0.8"/>
<circle cx="867.05" cy="433" r="4.1" fill="#595959" fill-opacity="0.45" stroke="#595959" stroke-opacity="0.28" stroke-width="0.8"/>
<circle cx="867.55" cy="433" r="4.1" fill="#595959" fill-opacity="0.45" stroke="#595959" stroke-opacity="0.28" stroke-width="0.8"/>
<line x1="860.05" y1="433" x2="874.05" y2="433" stroke="#bf2126" stroke-width="1.6"/>
<line x1="867.05" y1="426.3" x2="867.05" y2="439.7" stroke="#bf2126" stroke-width="1.6"/>
<circle cx="896.29" cy="433" r="4.1" fill="#595959" fill-opacity="0.45" stroke="#595959" stroke-opacity="0.28" stroke-width="0.8"/>
<circle cx="896.79" cy="433" r="4.1" fill="#595959" fill-opacity="0.45" stroke="#595959" stroke-opacity="0.28" stroke-width="0.8"/>
<circle cx="897.29" cy="433" r="4.1" fill="#595959" fill-opacity="0.45" stroke="#595959" stroke-opacity="0.28" stroke-width="0.8"/>
<line x1="889.79" y1="433" x2="903.79" y2="433" stroke="#bf2126" stroke-width="1.6"/>
<line x1="896.79" y1="426.3" x2="896.79" y2="439.7" stroke="#bf2126" stroke-width="1.6"/>
<circle cx="926.03" cy="433" r="4.1" fill="#595959" fill-opacity="0.45" stroke="#595959" stroke-opacity="0.28" stroke-width="0.8"/>
<circle cx="926.53" cy="433" r="4.1" fill="#595959" fill-opacity="0.45" stroke="#595959" stroke-opacity="0.28" stroke-width="0.8"/>
<circle cx="927.03" cy="433" r="4.1" fill="#595959" fill-opacity="0.45" stroke="#595959" stroke-opacity="0.28" stroke-width="0.8"/>
<line x1="919.53" y1="433" x2="933.53" y2="433" stroke="#bf2126" stroke-width="1.6"/>
<line x1="926.53" y1="426.3" x2="926.53" y2="439.7" stroke="#bf2126" stroke-width="1.6"/>
<circle cx="955.77" cy="433" r="4.1" fill="#595959" fill-opacity="0.45" stroke="#595959" stroke-opacity="0.28" stroke-width="0.8"/>
<circle cx="956.27" cy="433" r="4.1" fill="#595959" fill-opacity="0.45" stroke="#595959" stroke-opacity="0.28" stroke-width="0.8"/>
<circle cx="956.77" cy="433" r="4.1" fill="#595959" fill-opacity="0.45" stroke="#595959" stroke-opacity="0.28" stroke-width="0.8"/>
<line x1="949.27" y1="433" x2="963.27" y2="433" stroke="#bf2126" stroke-width="1.6"/>
<line x1="956.27" y1="426.3" x2="956.27" y2="439.7" stroke="#bf2126" stroke-width="1.6"/>
<circle cx="985.51" cy="433" r="4.1" fill="#595959" fill-opacity="0.45" stroke="#595959" stroke-opacity="0.28" stroke-width="0.8"/>
<circle cx="986.01" cy="433" r="4.1" fill="#595959" fill-opacity="0.45" stroke="#595959" stroke-opacity="0.28" stroke-width="0.8"/>
<circle cx="986.51" cy="433" r="4.1" fill="#595959" fill-opacity="0.45" stroke="#595959" stroke-opacity="0.28" stroke-width="0.8"/>
<circle cx="1015.25" cy="433" r="4.1" fill="#595959" fill-opacity="0.45" stroke="#595959" stroke-opacity="0.28" stroke-width="0.8"/>
<circle cx="1015.75" cy="433" r="4.1" fill="#595959" fill-opacity="0.45" stroke="#595959" stroke-opacity="0.28" stroke-width="0.8"/>
<circle cx="1016.25" cy="433" r="4.1" fill="#595959" fill-opacity="0.45" stroke="#595959" stroke-opacity="0.28" stroke-width="0.8"/>
<line x1="1008.75" y1="433" x2="1022.75" y2="433" stroke="#bf2126" stroke-width="1.6"/>
<line x1="1015.75" y1="426.3" x2="1015.75" y2="439.7" stroke="#bf2126" stroke-width="1.6"/>
<circle cx="987.01" cy="389.8" r="4.1" fill="#595959" fill-opacity="0.45" stroke="#595959" stroke-opacity="0.28" stroke-width="0.8"/>
<line x1="978.81" y1="428.3" x2="993.21" y2="428.3" stroke="#bf2126" stroke-width="1.6"/>
<line x1="986.01" y1="421" x2="986.01" y2="436" stroke="#bf2126" stroke-width="1.6"/>
<circle cx="1060.07" cy="483.2" r="4.1" fill="#595959" fill-opacity="0.45" stroke="#595959" stroke-opacity="0.28" stroke-width="0.8"/>
<circle cx="1060.57" cy="483.2" r="4.1" fill="#595959" fill-opacity="0.45" stroke="#595959" stroke-opacity="0.28" stroke-width="0.8"/>
<circle cx="1061.07" cy="483.2" r="4.1" fill="#595959" fill-opacity="0.45" stroke="#595959" stroke-opacity="0.28" stroke-width="0.8"/>
<circle cx="1089.68" cy="483.2" r="4.1" fill="#595959" fill-opacity="0.45" stroke="#595959" stroke-opacity="0.28" stroke-width="0.8"/>
<circle cx="1090.18" cy="483.2" r="4.1" fill="#595959" fill-opacity="0.45" stroke="#595959" stroke-opacity="0.28" stroke-width="0.8"/>
<circle cx="1090.68" cy="483.2" r="4.1" fill="#595959" fill-opacity="0.45" stroke="#595959" stroke-opacity="0.28" stroke-width="0.8"/>
<circle cx="1119.29" cy="483.2" r="4.1" fill="#595959" fill-opacity="0.45" stroke="#595959" stroke-opacity="0.28" stroke-width="0.8"/>
<circle cx="1119.79" cy="483.2" r="4.1" fill="#595959" fill-opacity="0.45" stroke="#595959" stroke-opacity="0.28" stroke-width="0.8"/>
<circle cx="1120.29" cy="483.2" r="4.1" fill="#595959" fill-opacity="0.45" stroke="#595959" stroke-opacity="0.28" stroke-width="0.8"/>
<circle cx="1148.91" cy="483.2" r="4.1" fill="#595959" fill-opacity="0.45" stroke="#595959" stroke-opacity="0.28" stroke-width="0.8"/>
<circle cx="1149.41" cy="483.2" r="4.1" fill="#595959" fill-opacity="0.45" stroke="#595959" stroke-opacity="0.28" stroke-width="0.8"/>
<circle cx="1149.91" cy="483.2" r="4.1" fill="#595959" fill-opacity="0.45" stroke="#595959" stroke-opacity="0.28" stroke-width="0.8"/>
<circle cx="1178.52" cy="483.2" r="4.1" fill="#595959" fill-opacity="0.45" stroke="#595959" stroke-opacity="0.28" stroke-width="0.8"/>
<circle cx="1179.02" cy="483.2" r="4.1" fill="#595959" fill-opacity="0.45" stroke="#595959" stroke-opacity="0.28" stroke-width="0.8"/>
<circle cx="1179.52" cy="483.2" r="4.1" fill="#595959" fill-opacity="0.45" stroke="#595959" stroke-opacity="0.28" stroke-width="0.8"/>
<circle cx="1208.13" cy="483.2" r="4.1" fill="#595959" fill-opacity="0.45" stroke="#595959" stroke-opacity="0.28" stroke-width="0.8"/>
<circle cx="1208.63" cy="483.2" r="4.1" fill="#595959" fill-opacity="0.45" stroke="#595959" stroke-opacity="0.28" stroke-width="0.8"/>
<circle cx="1209.13" cy="483.2" r="4.1" fill="#595959" fill-opacity="0.45" stroke="#595959" stroke-opacity="0.28" stroke-width="0.8"/>
<line x1="1053.57" y1="483.2" x2="1067.57" y2="483.2" stroke="#bf2126" stroke-width="1.6"/>
<line x1="1060.57" y1="476.5" x2="1060.57" y2="490" stroke="#bf2126" stroke-width="1.6"/>
<circle cx="1090.18" cy="437.1" r="4.1" fill="#595959" fill-opacity="0.45" stroke="#595959" stroke-opacity="0.28" stroke-width="0.8"/>
<circle cx="1091.38" cy="461.9" r="4.1" fill="#595959" fill-opacity="0.45" stroke="#595959" stroke-opacity="0.28" stroke-width="0.8"/>
<line x1="1082.98" y1="475.7" x2="1097.38" y2="475.7" stroke="#bf2126" stroke-width="1.6"/>
<line x1="1090.18" y1="466" x2="1090.18" y2="486.2" stroke="#bf2126" stroke-width="1.6"/>
<circle cx="1120.59" cy="399" r="4.1" fill="#595959" fill-opacity="0.45" stroke="#595959" stroke-opacity="0.28" stroke-width="0.8"/>
<circle cx="1120.59" cy="425.4" r="4.1" fill="#595959" fill-opacity="0.45" stroke="#595959" stroke-opacity="0.28" stroke-width="0.8"/>
<line x1="1112.59" y1="466.5" x2="1126.99" y2="466.5" stroke="#bf2126" stroke-width="1.6"/>
<line x1="1119.79" y1="451.8" x2="1119.79" y2="486.2" stroke="#bf2126" stroke-width="1.6"/>
<circle cx="1148.91" cy="479.9" r="4.1" fill="#595959" fill-opacity="0.45" stroke="#595959" stroke-opacity="0.28" stroke-width="0.8"/>
<line x1="1142.41" y1="483.2" x2="1156.41" y2="483.2" stroke="#bf2126" stroke-width="1.6"/>
<line x1="1149.41" y1="476.5" x2="1149.41" y2="490" stroke="#bf2126" stroke-width="1.6"/>
<line x1="1172.02" y1="483.2" x2="1186.02" y2="483.2" stroke="#bf2126" stroke-width="1.6"/>
<line x1="1179.02" y1="476.5" x2="1179.02" y2="490" stroke="#bf2126" stroke-width="1.6"/>
<circle cx="1207.83" cy="437.1" r="4.1" fill="#595959" fill-opacity="0.45" stroke="#595959" stroke-opacity="0.28" stroke-width="0.8"/>
<line x1="1201.43" y1="477.8" x2="1215.83" y2="477.8" stroke="#bf2126" stroke-width="1.6"/>
<line x1="1208.63" y1="470" x2="1208.63" y2="486" stroke="#bf2126" stroke-width="1.6"/>
<text transform="translate(1288.3,45.4)" font-size="66" fill="#000">c</text>
<text transform="translate(1481,38.4)" font-size="29.5" fill="#000" text-anchor="middle">Hum - 4 d.p.i.</text>
<line x1="1344.8" y1="48.5" x2="1603.7" y2="48.5" stroke="#000" stroke-width="4.2" stroke-linecap="round"/>
<rect x="1345" y="63.2" width="83.3" height="29.8" fill="#b3b3b3"/>
<text transform="translate(1386.65,84.73)" font-size="25.2" fill="#fff" text-anchor="middle">Spleen</text>
<rect x="1345" y="93" width="83.3" height="425" fill="#fff"/>
<line x1="1345" y1="448.36" x2="1428.3" y2="448.36" stroke="#f5f5f5" stroke-width="1"/>
<line x1="1345" y1="386.29" x2="1428.3" y2="386.29" stroke="#f5f5f5" stroke-width="1"/>
<line x1="1345" y1="324.22" x2="1428.3" y2="324.22" stroke="#f5f5f5" stroke-width="1"/>
<line x1="1345" y1="262.15" x2="1428.3" y2="262.15" stroke="#f5f5f5" stroke-width="1"/>
<line x1="1345" y1="200.08" x2="1428.3" y2="200.08" stroke="#f5f5f5" stroke-width="1"/>
<line x1="1345" y1="138.01" x2="1428.3" y2="138.01" stroke="#f5f5f5" stroke-width="1"/>
<line x1="1345" y1="510.44" x2="1428.3" y2="510.44" stroke="#f5f5f5" stroke-width="1"/>
<line x1="1345" y1="479.4" x2="1428.3" y2="479.4" stroke="#ebebeb" stroke-width="1.1"/>
<line x1="1345" y1="417.33" x2="1428.3" y2="417.33" stroke="#ebebeb" stroke-width="1.1"/>
<line x1="1345" y1="355.26" x2="1428.3" y2="355.26" stroke="#ebebeb" stroke-width="1.1"/>
<line x1="1345" y1="293.19" x2="1428.3" y2="293.19" stroke="#ebebeb" stroke-width="1.1"/>
<line x1="1345" y1="231.12" x2="1428.3" y2="231.12" stroke="#ebebeb" stroke-width="1.1"/>
<line x1="1345" y1="169.05" x2="1428.3" y2="169.05" stroke="#ebebeb" stroke-width="1.1"/>
<line x1="1345" y1="106.98" x2="1428.3" y2="106.98" stroke="#ebebeb" stroke-width="1.1"/>
<line x1="1367.72" y1="93" x2="1367.72" y2="518" stroke="#ebebeb" stroke-width="1.1"/>
<line x1="1405.58" y1="93" x2="1405.58" y2="518" stroke="#ebebeb" stroke-width="1.1"/>
<line x1="1346" y1="463.4" x2="1427.3" y2="463.4" stroke="#666666" stroke-width="1.3" stroke-dasharray="3.2,2.8"/>
<rect x="1345" y="93" width="83.3" height="425" fill="none" stroke="#a9a9a9" stroke-width="1.9"/>
<line x1="1340.5" y1="479.4" x2="1345" y2="479.4" stroke="#b3b3b3" stroke-width="1.3"/>
<line x1="1340.5" y1="417.33" x2="1345" y2="417.33" stroke="#b3b3b3" stroke-width="1.3"/>
<line x1="1340.5" y1="355.26" x2="1345" y2="355.26" stroke="#b3b3b3" stroke-width="1.3"/>
<line x1="1340.5" y1="293.19" x2="1345" y2="293.19" stroke="#b3b3b3" stroke-width="1.3"/>
<line x1="1340.5" y1="231.12" x2="1345" y2="231.12" stroke="#b3b3b3" stroke-width="1.3"/>
<line x1="1340.5" y1="169.05" x2="1345" y2="169.05" stroke="#b3b3b3" stroke-width="1.3"/>
<line x1="1340.5" y1="106.98" x2="1345" y2="106.98" stroke="#b3b3b3" stroke-width="1.3"/>
<line x1="1367.72" y1="518" x2="1367.72" y2="522.5" stroke="#b3b3b3" stroke-width="1.3"/>
<line x1="1405.58" y1="518" x2="1405.58" y2="522.5" stroke="#b3b3b3" stroke-width="1.3"/>
<text transform="translate(1407.38,116.8) scale(1,1.035)" font-size="16.8" fill="#000" text-anchor="middle">NS</text>
<text transform="translate(1376.72,524.4) rotate(-90) scale(1,1.035)" font-size="25" fill="#333333" text-anchor="end">DMSO</text>
<text transform="translate(1414.58,524.4) rotate(-90)" font-size="25" fill="#333333" text-anchor="end">Terfenadine</text>
<rect x="1436.4" y="63.2" width="83.3" height="29.8" fill="#b3b3b3"/>
<text transform="translate(1478.05,87.37)" font-size="25.2" fill="#fff" text-anchor="middle">Liver</text>
<rect x="1436.4" y="93" width="83.3" height="425" fill="#fff"/>
<line x1="1436.4" y1="448.36" x2="1519.7" y2="448.36" stroke="#f5f5f5" stroke-width="1"/>
<line x1="1436.4" y1="386.29" x2="1519.7" y2="386.29" stroke="#f5f5f5" stroke-width="1"/>
<line x1="1436.4" y1="324.22" x2="1519.7" y2="324.22" stroke="#f5f5f5" stroke-width="1"/>
<line x1="1436.4" y1="262.15" x2="1519.7" y2="262.15" stroke="#f5f5f5" stroke-width="1"/>
<line x1="1436.4" y1="200.08" x2="1519.7" y2="200.08" stroke="#f5f5f5" stroke-width="1"/>
<line x1="1436.4" y1="138.01" x2="1519.7" y2="138.01" stroke="#f5f5f5" stroke-width="1"/>
<line x1="1436.4" y1="510.44" x2="1519.7" y2="510.44" stroke="#f5f5f5" stroke-width="1"/>
<line x1="1436.4" y1="479.4" x2="1519.7" y2="479.4" stroke="#ebebeb" stroke-width="1.1"/>
<line x1="1436.4" y1="417.33" x2="1519.7" y2="417.33" stroke="#ebebeb" stroke-width="1.1"/>
<line x1="1436.4" y1="355.26" x2="1519.7" y2="355.26" stroke="#ebebeb" stroke-width="1.1"/>
<line x1="1436.4" y1="293.19" x2="1519.7" y2="293.19" stroke="#ebebeb" stroke-width="1.1"/>
<line x1="1436.4" y1="231.12" x2="1519.7" y2="231.12" stroke="#ebebeb" stroke-width="1.1"/>
<line x1="1436.4" y1="169.05" x2="1519.7" y2="169.05" stroke="#ebebeb" stroke-width="1.1"/>
<line x1="1436.4" y1="106.98" x2="1519.7" y2="106.98" stroke="#ebebeb" stroke-width="1.1"/>
<line x1="1459.12" y1="93" x2="1459.12" y2="518" stroke="#ebebeb" stroke-width="1.1"/>
<line x1="1496.98" y1="93" x2="1496.98" y2="518" stroke="#ebebeb" stroke-width="1.1"/>
<line x1="1437.4" y1="433.2" x2="1518.7" y2="433.2" stroke="#666666" stroke-width="1.3" stroke-dasharray="3.2,2.8"/>
<rect x="1436.4" y="93" width="83.3" height="425" fill="none" stroke="#a9a9a9" stroke-width="1.9"/>
<line x1="1459.12" y1="518" x2="1459.12" y2="522.5" stroke="#b3b3b3" stroke-width="1.3"/>
<line x1="1496.98" y1="518" x2="1496.98" y2="522.5" stroke="#b3b3b3" stroke-width="1.3"/>
<text transform="translate(1498.78,116.8) scale(1,1.035)" font-size="16.8" fill="#000" text-anchor="middle">NS</text>
<text transform="translate(1468.12,524.4) rotate(-90) scale(1,1.035)" font-size="25" fill="#333333" text-anchor="end">DMSO</text>
<text transform="translate(1505.98,524.4) rotate(-90)" font-size="25" fill="#333333" text-anchor="end">Terfenadine</text>
<rect x="1527.6" y="63.2" width="83.6" height="29.8" fill="#b3b3b3"/>
<text transform="translate(1569.4,87.37)" font-size="25.2" fill="#fff" text-anchor="middle">mLN</text>
<rect x="1527.6" y="93" width="83.6" height="425" fill="#fff"/>
<line x1="1527.6" y1="448.36" x2="1611.2" y2="448.36" stroke="#f5f5f5" stroke-width="1"/>
<line x1="1527.6" y1="386.29" x2="1611.2" y2="386.29" stroke="#f5f5f5" stroke-width="1"/>
<line x1="1527.6" y1="324.22" x2="1611.2" y2="324.22" stroke="#f5f5f5" stroke-width="1"/>
<line x1="1527.6" y1="262.15" x2="1611.2" y2="262.15" stroke="#f5f5f5" stroke-width="1"/>
<line x1="1527.6" y1="200.08" x2="1611.2" y2="200.08" stroke="#f5f5f5" stroke-width="1"/>
<line x1="1527.6" y1="138.01" x2="1611.2" y2="138.01" stroke="#f5f5f5" stroke-width="1"/>
<line x1="1527.6" y1="510.44" x2="1611.2" y2="510.44" stroke="#f5f5f5" stroke-width="1"/>
<line x1="1527.6" y1="479.4" x2="1611.2" y2="479.4" stroke="#ebebeb" stroke-width="1.1"/>
<line x1="1527.6" y1="417.33" x2="1611.2" y2="417.33" stroke="#ebebeb" stroke-width="1.1"/>
<line x1="1527.6" y1="355.26" x2="1611.2" y2="355.26" stroke="#ebebeb" stroke-width="1.1"/>
<line x1="1527.6" y1="293.19" x2="1611.2" y2="293.19" stroke="#ebebeb" stroke-width="1.1"/>
<line x1="1527.6" y1="231.12" x2="1611.2" y2="231.12" stroke="#ebebeb" stroke-width="1.1"/>
<line x1="1527.6" y1="169.05" x2="1611.2" y2="169.05" stroke="#ebebeb" stroke-width="1.1"/>
<line x1="1527.6" y1="106.98" x2="1611.2" y2="106.98" stroke="#ebebeb" stroke-width="1.1"/>
<line x1="1550.4" y1="93" x2="1550.4" y2="518" stroke="#ebebeb" stroke-width="1.1"/>
<line x1="1588.4" y1="93" x2="1588.4" y2="518" stroke="#ebebeb" stroke-width="1.1"/>
<line x1="1528.6" y1="483.2" x2="1610.2" y2="483.2" stroke="#666666" stroke-width="1.3" stroke-dasharray="3.2,2.8"/>
<rect x="1527.6" y="93" width="83.6" height="425" fill="none" stroke="#a9a9a9" stroke-width="1.9"/>
<line x1="1550.4" y1="518" x2="1550.4" y2="522.5" stroke="#b3b3b3" stroke-width="1.3"/>
<line x1="1588.4" y1="518" x2="1588.4" y2="522.5" stroke="#b3b3b3" stroke-width="1.3"/>
<text transform="translate(1590.2,116.8) scale(1,1.035)" font-size="16.8" fill="#000" text-anchor="middle">NS</text>
<text transform="translate(1559.4,524.4) rotate(-90) scale(1,1.035)" font-size="25" fill="#333333" text-anchor="end">DMSO</text>
<text transform="translate(1597.4,524.4) rotate(-90)" font-size="25" fill="#333333" text-anchor="end">Terfenadine</text>
<text transform="translate(1337,489.2) scale(1,1.035)" font-size="24.2" fill="#333333" text-anchor="end">10<tspan dy="-8" font-size="15.5">1</tspan></text>
<text transform="translate(1337,427.7) scale(1,1.035)" font-size="24.2" fill="#333333" text-anchor="end">10<tspan dy="-8" font-size="15.5">2</tspan></text>
<text transform="translate(1337,366.2) scale(1,1.035)" font-size="24.2" fill="#333333" text-anchor="end">10<tspan dy="-8" font-size="15.5">3</tspan></text>
<text transform="translate(1337,304.7) scale(1,1.035)" font-size="24.2" fill="#333333" text-anchor="end">10<tspan dy="-8" font-size="15.5">4</tspan></text>
<text transform="translate(1337,243.2) scale(1,1.035)" font-size="24.2" fill="#333333" text-anchor="end">10<tspan dy="-8" font-size="15.5">5</tspan></text>
<text transform="translate(1337,181.7) scale(1,1.035)" font-size="24.2" fill="#333333" text-anchor="end">10<tspan dy="-8" font-size="15.5">6</tspan></text>
<text transform="translate(1337,120.2) scale(1,1.035)" font-size="24.2" fill="#333333" text-anchor="end">10<tspan dy="-8" font-size="15.5">7</tspan></text>
<text transform="translate(1287.6,259.5) rotate(-90)" font-size="29.2" fill="#000" text-anchor="middle">CFU S.Tm / organ</text>
<circle cx="1367.4" cy="206.7" r="4.1" fill="#595959" fill-opacity="0.45" stroke="#595959" stroke-opacity="0.28" stroke-width="0.8"/>
<circle cx="1368.8" cy="249.8" r="4.1" fill="#595959" fill-opacity="0.45" stroke="#595959" stroke-opacity="0.28" stroke-width="0.8"/>
<circle cx="1363.3" cy="263.5" r="4.1" fill="#595959" fill-opacity="0.45" stroke="#595959" stroke-opacity="0.28" stroke-width="0.8"/>
<circle cx="1369.3" cy="265.4" r="4.1" fill="#595959" fill-opacity="0.45" stroke="#595959" stroke-opacity="0.28" stroke-width="0.8"/>
<circle cx="1362.9" cy="307.3" r="4.1" fill="#595959" fill-opacity="0.45" stroke="#595959" stroke-opacity="0.28" stroke-width="0.8"/>
<circle cx="1372.2" cy="336.5" r="4.1" fill="#595959" fill-opacity="0.45" stroke="#595959" stroke-opacity="0.28" stroke-width="0.8"/>
<circle cx="1364.8" cy="367.2" r="4.1" fill="#595959" fill-opacity="0.45" stroke="#595959" stroke-opacity="0.28" stroke-width="0.8"/>
<circle cx="1368.6" cy="442.3" r="4.1" fill="#595959" fill-opacity="0.45" stroke="#595959" stroke-opacity="0.28" stroke-width="0.8"/>
<circle cx="1401.7" cy="206.2" r="4.1" fill="#595959" fill-opacity="0.45" stroke="#595959" stroke-opacity="0.28" stroke-width="0.8"/>
<circle cx="1404.8" cy="216" r="4.1" fill="#595959" fill-opacity="0.45" stroke="#595959" stroke-opacity="0.28" stroke-width="0.8"/>
<circle cx="1408.4" cy="246.7" r="4.1" fill="#595959" fill-opacity="0.45" stroke="#595959" stroke-opacity="0.28" stroke-width="0.8"/>
<circle cx="1404.5" cy="249" r="4.1" fill="#595959" fill-opacity="0.45" stroke="#595959" stroke-opacity="0.28" stroke-width="0.8"/>
<circle cx="1401.7" cy="307" r="4.1" fill="#595959" fill-opacity="0.45" stroke="#595959" stroke-opacity="0.28" stroke-width="0.8"/>
<circle cx="1406" cy="307" r="4.1" fill="#595959" fill-opacity="0.45" stroke="#595959" stroke-opacity="0.28" stroke-width="0.8"/>
<circle cx="1458.2" cy="225" r="4.1" fill="#595959" fill-opacity="0.45" stroke="#595959" stroke-opacity="0.28" stroke-width="0.8"/>
<circle cx="1454.8" cy="244.8" r="4.1" fill="#595959" fill-opacity="0.45" stroke="#595959" stroke-opacity="0.28" stroke-width="0.8"/>
<circle cx="1460.3" cy="269.5" r="4.1" fill="#595959" fill-opacity="0.45" stroke="#595959" stroke-opacity="0.28" stroke-width="0.8"/>
<circle cx="1459.9" cy="288" r="4.1" fill="#595959" fill-opacity="0.45" stroke="#595959" stroke-opacity="0.28" stroke-width="0.8"/>
<circle cx="1454.4" cy="307" r="4.1" fill="#595959" fill-opacity="0.45" stroke="#595959" stroke-opacity="0.28" stroke-width="0.8"/>
<circle cx="1464" cy="307" r="4.1" fill="#595959" fill-opacity="0.45" stroke="#595959" stroke-opacity="0.28" stroke-width="0.8"/>
<circle cx="1456.3" cy="326.2" r="4.1" fill="#595959" fill-opacity="0.45" stroke="#595959" stroke-opacity="0.28" stroke-width="0.8"/>
<circle cx="1459.6" cy="412.6" r="4.1" fill="#595959" fill-opacity="0.45" stroke="#595959" stroke-opacity="0.28" stroke-width="0.8"/>
<circle cx="1492.7" cy="221.3" r="4.1" fill="#595959" fill-opacity="0.45" stroke="#595959" stroke-opacity="0.28" stroke-width="0.8"/>
<circle cx="1496.3" cy="231.9" r="4.1" fill="#595959" fill-opacity="0.45" stroke="#595959" stroke-opacity="0.28" stroke-width="0.8"/>
<circle cx="1499.4" cy="242.4" r="4.1" fill="#595959" fill-opacity="0.45" stroke="#595959" stroke-opacity="0.28" stroke-width="0.8"/>
<circle cx="1495.6" cy="254.4" r="4.1" fill="#595959" fill-opacity="0.45" stroke="#595959" stroke-opacity="0.28" stroke-width="0.8"/>
<circle cx="1493.2" cy="316.8" r="4.1" fill="#595959" fill-opacity="0.45" stroke="#595959" stroke-opacity="0.28" stroke-width="0.8"/>
<circle cx="1497.5" cy="322.3" r="4.1" fill="#595959" fill-opacity="0.45" stroke="#595959" stroke-opacity="0.28" stroke-width="0.8"/>
<circle cx="1551.4" cy="230.4" r="4.1" fill="#595959" fill-opacity="0.45" stroke="#595959" stroke-opacity="0.28" stroke-width="0.8"/>
<circle cx="1546.1" cy="247.2" r="4.1" fill="#595959" fill-opacity="0.45" stroke="#595959" stroke-opacity="0.28" stroke-width="0.8"/>
<circle cx="1551.8" cy="248.6" r="4.1" fill="#595959" fill-opacity="0.45" stroke="#595959" stroke-opacity="0.28" stroke-width="0.8"/>
<circle cx="1547.3" cy="254.4" r="4.1" fill="#595959" fill-opacity="0.45" stroke="#595959" stroke-opacity="0.28" stroke-width="0.8"/>
<circle cx="1555.4" cy="273.1" r="4.1" fill="#595959" fill-opacity="0.45" stroke="#595959" stroke-opacity="0.28" stroke-width="0.8"/>
<circle cx="1551.4" cy="303" r="4.1" fill="#595959" fill-opacity="0.45" stroke="#595959" stroke-opacity="0.28" stroke-width="0.8"/>
<circle cx="1546.1" cy="311.9" r="4.1" fill="#595959" fill-opacity="0.45" stroke="#595959" stroke-opacity="0.28" stroke-width="0.8"/>
<circle cx="1549.7" cy="325.6" r="4.1" fill="#595959" fill-opacity="0.45" stroke="#595959" stroke-opacity="0.28" stroke-width="0.8"/>
<circle cx="1590.9" cy="246.2" r="4.1" fill="#595959" fill-opacity="0.45" stroke="#595959" stroke-opacity="0.28" stroke-width="0.8"/>
<circle cx="1583.7" cy="252.7" r="4.1" fill="#595959" fill-opacity="0.45" stroke="#595959" stroke-opacity="0.28" stroke-width="0.8"/>
<circle cx="1587.3" cy="252.7" r="4.1" fill="#595959" fill-opacity="0.45" stroke="#595959" stroke-opacity="0.28" stroke-width="0.8"/>
<circle cx="1587.3" cy="271.9" r="4.1" fill="#595959" fill-opacity="0.45" stroke="#595959" stroke-opacity="0.28" stroke-width="0.8"/>
<circle cx="1589" cy="279" r="4.1" fill="#595959" fill-opacity="0.45" stroke="#595959" stroke-opacity="0.28" stroke-width="0.8"/>
<circle cx="1584.2" cy="293.2" r="4.1" fill="#595959" fill-opacity="0.45" stroke="#595959" stroke-opacity="0.28" stroke-width="0.8"/>
<line x1="1361" y1="305" x2="1374.6" y2="305" stroke="#bf2126" stroke-width="1.6"/>
<line x1="1367.8" y1="278.6" x2="1367.8" y2="331.7" stroke="#bf2126" stroke-width="1.6"/>
<line x1="1399" y1="255" x2="1412.6" y2="255" stroke="#bf2126" stroke-width="1.6"/>
<line x1="1405.8" y1="237.8" x2="1405.8" y2="272.6" stroke="#bf2126" stroke-width="1.6"/>
<line x1="1452.4" y1="297.7" x2="1466" y2="297.7" stroke="#bf2126" stroke-width="1.6"/>
<line x1="1459.2" y1="277.8" x2="1459.2" y2="317.4" stroke="#bf2126" stroke-width="1.6"/>
<line x1="1490.4" y1="264.7" x2="1504" y2="264.7" stroke="#bf2126" stroke-width="1.6"/>
<line x1="1497.2" y1="247.9" x2="1497.2" y2="282.2" stroke="#bf2126" stroke-width="1.6"/>
<line x1="1543.6" y1="274.3" x2="1557.2" y2="274.3" stroke="#bf2126" stroke-width="1.6"/>
<line x1="1550.4" y1="262.3" x2="1550.4" y2="286.2" stroke="#bf2126" stroke-width="1.6"/>
<line x1="1581.6" y1="265.9" x2="1595.2" y2="265.9" stroke="#bf2126" stroke-width="1.6"/>
<line x1="1588.4" y1="259.2" x2="1588.4" y2="272.6" stroke="#bf2126" stroke-width="1.6"/>
<text transform="translate(56,816.8)" font-size="66" fill="#000">d</text>
<text transform="translate(380.6,781.6)" font-size="29.6" fill="#000" text-anchor="middle">Com20</text>
<line x1="219" y1="793.3" x2="545" y2="793.3" stroke="#000" stroke-width="4.2" stroke-linecap="round"/>
<rect x="95.6" y="803" width="281.6" height="42.7" fill="#b3b3b3"/>
<text transform="translate(236.4,830.98)" font-size="25.2" fill="#fff" text-anchor="middle">Chlorpromazine</text>
<rect x="95.6" y="845.7" width="281.6" height="292.2" fill="#fff"/>
<line x1="95.6" y1="1091.4" x2="377.2" y2="1091.4" stroke="#f5f5f5" stroke-width="1"/>
<line x1="95.6" y1="1025" x2="377.2" y2="1025" stroke="#f5f5f5" stroke-width="1"/>
<line x1="95.6" y1="958.6" x2="377.2" y2="958.6" stroke="#f5f5f5" stroke-width="1"/>
<line x1="95.6" y1="892.2" x2="377.2" y2="892.2" stroke="#f5f5f5" stroke-width="1"/>
<line x1="131.7" y1="845.7" x2="131.7" y2="1137.9" stroke="#f5f5f5" stroke-width="1"/>
<line x1="206.3" y1="845.7" x2="206.3" y2="1137.9" stroke="#f5f5f5" stroke-width="1"/>
<line x1="280.9" y1="845.7" x2="280.9" y2="1137.9" stroke="#f5f5f5" stroke-width="1"/>
<line x1="355.5" y1="845.7" x2="355.5" y2="1137.9" stroke="#f5f5f5" stroke-width="1"/>
<line x1="95.6" y1="1124.6" x2="377.2" y2="1124.6" stroke="#ebebeb" stroke-width="1.1"/>
<line x1="95.6" y1="1058.2" x2="377.2" y2="1058.2" stroke="#ebebeb" stroke-width="1.1"/>
<line x1="95.6" y1="991.8" x2="377.2" y2="991.8" stroke="#ebebeb" stroke-width="1.1"/>
<line x1="95.6" y1="925.4" x2="377.2" y2="925.4" stroke="#ebebeb" stroke-width="1.1"/>
<line x1="95.6" y1="859" x2="377.2" y2="859" stroke="#ebebeb" stroke-width="1.1"/>
<line x1="169" y1="845.7" x2="169" y2="1137.9" stroke="#ebebeb" stroke-width="1.1"/>
<line x1="243.6" y1="845.7" x2="243.6" y2="1137.9" stroke="#ebebeb" stroke-width="1.1"/>
<line x1="318.2" y1="845.7" x2="318.2" y2="1137.9" stroke="#ebebeb" stroke-width="1.1"/>
<line x1="95.6" y1="1058.2" x2="377.2" y2="1058.2" stroke="#999999" stroke-width="1.2" stroke-dasharray="4.6,3.9"/>
<line x1="169" y1="845.7" x2="169" y2="1137.9" stroke="#999999" stroke-width="1.2" stroke-dasharray="4.6,3.9"/>
<rect x="95.6" y="845.7" width="281.6" height="292.2" fill="none" stroke="#a9a9a9" stroke-width="1.9"/>
<line x1="91.1" y1="1124.6" x2="95.6" y2="1124.6" stroke="#b3b3b3" stroke-width="1.3"/>
<line x1="91.1" y1="1058.2" x2="95.6" y2="1058.2" stroke="#b3b3b3" stroke-width="1.3"/>
<line x1="91.1" y1="991.8" x2="95.6" y2="991.8" stroke="#b3b3b3" stroke-width="1.3"/>
<line x1="91.1" y1="925.4" x2="95.6" y2="925.4" stroke="#b3b3b3" stroke-width="1.3"/>
<line x1="91.1" y1="859" x2="95.6" y2="859" stroke="#b3b3b3" stroke-width="1.3"/>
<rect x="386.4" y="803" width="282.2" height="42.7" fill="#b3b3b3"/>
<text transform="translate(527.5,833.62)" font-size="25.2" fill="#fff" text-anchor="middle">Clotrimazole</text>
<rect x="386.4" y="845.7" width="282.2" height="292.2" fill="#fff"/>
<line x1="386.4" y1="1091.4" x2="668.6" y2="1091.4" stroke="#f5f5f5" stroke-width="1"/>
<line x1="386.4" y1="1025" x2="668.6" y2="1025" stroke="#f5f5f5" stroke-width="1"/>
<line x1="386.4" y1="958.6" x2="668.6" y2="958.6" stroke="#f5f5f5" stroke-width="1"/>
<line x1="386.4" y1="892.2" x2="668.6" y2="892.2" stroke="#f5f5f5" stroke-width="1"/>
<line x1="423" y1="845.7" x2="423" y2="1137.9" stroke="#f5f5f5" stroke-width="1"/>
<line x1="497.6" y1="845.7" x2="497.6" y2="1137.9" stroke="#f5f5f5" stroke-width="1"/>
<line x1="572.2" y1="845.7" x2="572.2" y2="1137.9" stroke="#f5f5f5" stroke-width="1"/>
<line x1="646.8" y1="845.7" x2="646.8" y2="1137.9" stroke="#f5f5f5" stroke-width="1"/>
<line x1="386.4" y1="1124.6" x2="668.6" y2="1124.6" stroke="#ebebeb" stroke-width="1.1"/>
<line x1="386.4" y1="1058.2" x2="668.6" y2="1058.2" stroke="#ebebeb" stroke-width="1.1"/>
<line x1="386.4" y1="991.8" x2="668.6" y2="991.8" stroke="#ebebeb" stroke-width="1.1"/>
<line x1="386.4" y1="925.4" x2="668.6" y2="925.4" stroke="#ebebeb" stroke-width="1.1"/>
<line x1="386.4" y1="859" x2="668.6" y2="859" stroke="#ebebeb" stroke-width="1.1"/>
<line x1="460.3" y1="845.7" x2="460.3" y2="1137.9" stroke="#ebebeb" stroke-width="1.1"/>
<line x1="534.9" y1="845.7" x2="534.9" y2="1137.9" stroke="#ebebeb" stroke-width="1.1"/>
<line x1="609.5" y1="845.7" x2="609.5" y2="1137.9" stroke="#ebebeb" stroke-width="1.1"/>
<line x1="386.4" y1="1058.2" x2="668.6" y2="1058.2" stroke="#999999" stroke-width="1.2" stroke-dasharray="4.6,3.9"/>
<line x1="460.3" y1="845.7" x2="460.3" y2="1137.9" stroke="#999999" stroke-width="1.2" stroke-dasharray="4.6,3.9"/>
<rect x="386.4" y="845.7" width="282.2" height="292.2" fill="none" stroke="#a9a9a9" stroke-width="1.9"/>
<text transform="translate(88,1133.2) scale(1,1.035)" font-size="24.4" fill="#333333" text-anchor="end">0</text>
<text transform="translate(88,1066.8) scale(1,1.035)" font-size="24.4" fill="#333333" text-anchor="end">1</text>
<text transform="translate(88,1000.4) scale(1,1.035)" font-size="24.4" fill="#333333" text-anchor="end">2</text>
<text transform="translate(88,934) scale(1,1.035)" font-size="24.4" fill="#333333" text-anchor="end">3</text>
<text transform="translate(88,867.6) scale(1,1.035)" font-size="24.4" fill="#333333" text-anchor="end">4</text>
<rect x="95.6" y="1150.8" width="281.6" height="43.7" fill="#b3b3b3"/>
<text transform="translate(236.4,1181.92)" font-size="25.2" fill="#fff" text-anchor="middle">Terfenadine</text>
<rect x="95.6" y="1194.5" width="281.6" height="291.3" fill="#fff"/>
<line x1="95.6" y1="1439.5" x2="377.2" y2="1439.5" stroke="#f5f5f5" stroke-width="1"/>
<line x1="95.6" y1="1373.1" x2="377.2" y2="1373.1" stroke="#f5f5f5" stroke-width="1"/>
<line x1="95.6" y1="1306.7" x2="377.2" y2="1306.7" stroke="#f5f5f5" stroke-width="1"/>
<line x1="95.6" y1="1240.3" x2="377.2" y2="1240.3" stroke="#f5f5f5" stroke-width="1"/>
<line x1="131.7" y1="1194.5" x2="131.7" y2="1485.8" stroke="#f5f5f5" stroke-width="1"/>
<line x1="206.3" y1="1194.5" x2="206.3" y2="1485.8" stroke="#f5f5f5" stroke-width="1"/>
<line x1="280.9" y1="1194.5" x2="280.9" y2="1485.8" stroke="#f5f5f5" stroke-width="1"/>
<line x1="355.5" y1="1194.5" x2="355.5" y2="1485.8" stroke="#f5f5f5" stroke-width="1"/>
<line x1="95.6" y1="1472.7" x2="377.2" y2="1472.7" stroke="#ebebeb" stroke-width="1.1"/>
<line x1="95.6" y1="1406.3" x2="377.2" y2="1406.3" stroke="#ebebeb" stroke-width="1.1"/>
<line x1="95.6" y1="1339.9" x2="377.2" y2="1339.9" stroke="#ebebeb" stroke-width="1.1"/>
<line x1="95.6" y1="1273.5" x2="377.2" y2="1273.5" stroke="#ebebeb" stroke-width="1.1"/>
<line x1="95.6" y1="1207.1" x2="377.2" y2="1207.1" stroke="#ebebeb" stroke-width="1.1"/>
<line x1="169" y1="1194.5" x2="169" y2="1485.8" stroke="#ebebeb" stroke-width="1.1"/>
<line x1="243.6" y1="1194.5" x2="243.6" y2="1485.8" stroke="#ebebeb" stroke-width="1.1"/>
<line x1="318.2" y1="1194.5" x2="318.2" y2="1485.8" stroke="#ebebeb" stroke-width="1.1"/>
<line x1="95.6" y1="1406.3" x2="377.2" y2="1406.3" stroke="#999999" stroke-width="1.2" stroke-dasharray="4.6,3.9"/>
<line x1="169" y1="1194.5" x2="169" y2="1485.8" stroke="#999999" stroke-width="1.2" stroke-dasharray="4.6,3.9"/>
<rect x="95.6" y="1194.5" width="281.6" height="291.3" fill="none" stroke="#a9a9a9" stroke-width="1.9"/>
<line x1="91.1" y1="1472.7" x2="95.6" y2="1472.7" stroke="#b3b3b3" stroke-width="1.3"/>
<line x1="91.1" y1="1406.3" x2="95.6" y2="1406.3" stroke="#b3b3b3" stroke-width="1.3"/>
<line x1="91.1" y1="1339.9" x2="95.6" y2="1339.9" stroke="#b3b3b3" stroke-width="1.3"/>
<line x1="91.1" y1="1273.5" x2="95.6" y2="1273.5" stroke="#b3b3b3" stroke-width="1.3"/>
<line x1="91.1" y1="1207.1" x2="95.6" y2="1207.1" stroke="#b3b3b3" stroke-width="1.3"/>
<line x1="169" y1="1485.8" x2="169" y2="1490.3" stroke="#b3b3b3" stroke-width="1.3"/>
<line x1="243.6" y1="1485.8" x2="243.6" y2="1490.3" stroke="#b3b3b3" stroke-width="1.3"/>
<line x1="318.2" y1="1485.8" x2="318.2" y2="1490.3" stroke="#b3b3b3" stroke-width="1.3"/>
<rect x="386.4" y="1150.8" width="282.2" height="43.7" fill="#b3b3b3"/>
<text transform="translate(527.5,1181.92)" font-size="25.2" fill="#fff" text-anchor="middle">Zafirlukast</text>
<rect x="386.4" y="1194.5" width="282.2" height="291.3" fill="#fff"/>
<line x1="386.4" y1="1439.5" x2="668.6" y2="1439.5" stroke="#f5f5f5" stroke-width="1"/>
<line x1="386.4" y1="1373.1" x2="668.6" y2="1373.1" stroke="#f5f5f5" stroke-width="1"/>
<line x1="386.4" y1="1306.7" x2="668.6" y2="1306.7" stroke="#f5f5f5" stroke-width="1"/>
<line x1="386.4" y1="1240.3" x2="668.6" y2="1240.3" stroke="#f5f5f5" stroke-width="1"/>
<line x1="423" y1="1194.5" x2="423" y2="1485.8" stroke="#f5f5f5" stroke-width="1"/>
<line x1="497.6" y1="1194.5" x2="497.6" y2="1485.8" stroke="#f5f5f5" stroke-width="1"/>
<line x1="572.2" y1="1194.5" x2="572.2" y2="1485.8" stroke="#f5f5f5" stroke-width="1"/>
<line x1="646.8" y1="1194.5" x2="646.8" y2="1485.8" stroke="#f5f5f5" stroke-width="1"/>
<line x1="386.4" y1="1472.7" x2="668.6" y2="1472.7" stroke="#ebebeb" stroke-width="1.1"/>
<line x1="386.4" y1="1406.3" x2="668.6" y2="1406.3" stroke="#ebebeb" stroke-width="1.1"/>
<line x1="386.4" y1="1339.9" x2="668.6" y2="1339.9" stroke="#ebebeb" stroke-width="1.1"/>
<line x1="386.4" y1="1273.5" x2="668.6" y2="1273.5" stroke="#ebebeb" stroke-width="1.1"/>
<line x1="386.4" y1="1207.1" x2="668.6" y2="1207.1" stroke="#ebebeb" stroke-width="1.1"/>
<line x1="460.3" y1="1194.5" x2="460.3" y2="1485.8" stroke="#ebebeb" stroke-width="1.1"/>
<line x1="534.9" y1="1194.5" x2="534.9" y2="1485.8" stroke="#ebebeb" stroke-width="1.1"/>
<line x1="609.5" y1="1194.5" x2="609.5" y2="1485.8" stroke="#ebebeb" stroke-width="1.1"/>
<line x1="386.4" y1="1406.3" x2="668.6" y2="1406.3" stroke="#999999" stroke-width="1.2" stroke-dasharray="4.6,3.9"/>
<line x1="460.3" y1="1194.5" x2="460.3" y2="1485.8" stroke="#999999" stroke-width="1.2" stroke-dasharray="4.6,3.9"/>
<rect x="386.4" y="1194.5" width="282.2" height="291.3" fill="none" stroke="#a9a9a9" stroke-width="1.9"/>
<line x1="460.3" y1="1485.8" x2="460.3" y2="1490.3" stroke="#b3b3b3" stroke-width="1.3"/>
<line x1="534.9" y1="1485.8" x2="534.9" y2="1490.3" stroke="#b3b3b3" stroke-width="1.3"/>
<line x1="609.5" y1="1485.8" x2="609.5" y2="1490.3" stroke="#b3b3b3" stroke-width="1.3"/>
<text transform="translate(88,1481.3) scale(1,1.035)" font-size="24.4" fill="#333333" text-anchor="end">0</text>
<text transform="translate(88,1414.9) scale(1,1.035)" font-size="24.4" fill="#333333" text-anchor="end">1</text>
<text transform="translate(88,1348.5) scale(1,1.035)" font-size="24.4" fill="#333333" text-anchor="end">2</text>
<text transform="translate(88,1282.1) scale(1,1.035)" font-size="24.4" fill="#333333" text-anchor="end">3</text>
<text transform="translate(88,1215.7) scale(1,1.035)" font-size="24.4" fill="#333333" text-anchor="end">4</text>
<text transform="translate(169,1511.7) scale(1,1.035)" font-size="24.4" fill="#333333" text-anchor="middle">0</text>
<text transform="translate(243.6,1511.7) scale(1,1.035)" font-size="24.4" fill="#333333" text-anchor="middle">2</text>
<text transform="translate(318.2,1511.7) scale(1,1.035)" font-size="24.4" fill="#333333" text-anchor="middle">4</text>
<text transform="translate(460.3,1511.7) scale(1,1.035)" font-size="24.4" fill="#333333" text-anchor="middle">0</text>
<text transform="translate(534.9,1511.7) scale(1,1.035)" font-size="24.4" fill="#333333" text-anchor="middle">2</text>
<text transform="translate(609.5,1511.7) scale(1,1.035)" font-size="24.4" fill="#333333" text-anchor="middle">4</text>
<text transform="translate(377.2,1547.5)" font-size="29.2" fill="#000" text-anchor="middle">log<tspan font-size="16.6" dy="9.4" dx="0.6">2</tspan><tspan dy="-9.4" dx="0.4">(fold change clr−transformed abundance)</tspan></text>
<text transform="translate(33.9,1132.5) rotate(-90)" font-size="29.3" fill="#000" text-anchor="middle">−log<tspan font-size="16.7" dy="9.4" dx="0.6">10</tspan><tspan dy="-9.4" dx="0.4">(adj. </tspan><tspan font-style="italic">P</tspan>)</text>
<circle cx="108.3" cy="1123.8" r="5.6" fill="#9ba4cc" fill-opacity="0.92" stroke="#8a8a8a" stroke-opacity="0.35" stroke-width="0.7"/>
<circle cx="163.6" cy="1123.8" r="5.6" fill="#e3f5d6" fill-opacity="0.92" stroke="#8a8a8a" stroke-opacity="0.35" stroke-width="0.7"/>
<circle cx="167" cy="1124" r="5.6" fill="#bdeba0" fill-opacity="0.92" stroke="#8a8a8a" stroke-opacity="0.35" stroke-width="0.7"/>
<circle cx="172" cy="1124" r="5.6" fill="#f7ece0" fill-opacity="0.92" stroke="#8a8a8a" stroke-opacity="0.35" stroke-width="0.7"/>
<circle cx="176.2" cy="1123.8" r="5.6" fill="#2f3a63" fill-opacity="0.92" stroke="#8a8a8a" stroke-opacity="0.35" stroke-width="0.7"/>
<circle cx="179.8" cy="1123.8" r="5.6" fill="#ef6148" fill-opacity="0.92" stroke="#8a8a8a" stroke-opacity="0.35" stroke-width="0.7"/>
<circle cx="178" cy="1124" r="5.6" fill="#eba86a" fill-opacity="0.92" stroke="#8a8a8a" stroke-opacity="0.35" stroke-width="0.7"/>
<circle cx="181.5" cy="1124" r="5.6" fill="#e0312b" fill-opacity="0.92" stroke="#8a8a8a" stroke-opacity="0.35" stroke-width="0.7"/>
<circle cx="174" cy="1124" r="5.6" fill="#efb59c" fill-opacity="0.92" stroke="#8a8a8a" stroke-opacity="0.35" stroke-width="0.7"/>
<circle cx="182.9" cy="1115.9" r="5.6" fill="#ee8b74" fill-opacity="0.92" stroke="#8a8a8a" stroke-opacity="0.35" stroke-width="0.7"/>
<circle cx="169" cy="1124.3" r="5.6" fill="#4b7a24" fill-opacity="0.92" stroke="#8a8a8a" stroke-opacity="0.35" stroke-width="0.7"/>
<circle cx="201.4" cy="1123.8" r="5.6" fill="#efb59c" fill-opacity="0.92" stroke="#8a8a8a" stroke-opacity="0.35" stroke-width="0.7"/>
<circle cx="407.8" cy="1041" r="5.6" fill="#eba86a" fill-opacity="0.92" stroke="#8a8a8a" stroke-opacity="0.35" stroke-width="0.7"/>
<circle cx="426" cy="1049.6" r="5.6" fill="#a8411b" fill-opacity="0.92" stroke="#8a8a8a" stroke-opacity="0.35" stroke-width="0.7"/>
<circle cx="435.3" cy="1049.3" r="5.6" fill="#9de25a" fill-opacity="0.92" stroke="#8a8a8a" stroke-opacity="0.35" stroke-width="0.7"/>
<circle cx="438" cy="1049.6" r="5.6" fill="#bdeba0" fill-opacity="0.92" stroke="#8a8a8a" stroke-opacity="0.35" stroke-width="0.7"/>
<circle cx="437.1" cy="1059.5" r="5.6" fill="#e3f5d6" fill-opacity="0.92" stroke="#8a8a8a" stroke-opacity="0.35" stroke-width="0.7"/>
<circle cx="447.9" cy="1092.7" r="5.6" fill="#ec8a3e" fill-opacity="0.92" stroke="#8a8a8a" stroke-opacity="0.35" stroke-width="0.7"/>
<circle cx="445.2" cy="1092.7" r="5.6" fill="#f5e2d6" fill-opacity="0.92" stroke="#8a8a8a" stroke-opacity="0.35" stroke-width="0.7"/>
<circle cx="407.8" cy="1102.3" r="5.6" fill="#eccb9f" fill-opacity="0.92" stroke="#8a8a8a" stroke-opacity="0.35" stroke-width="0.7"/>
<circle cx="497.3" cy="1102.3" r="5.6" fill="#9ba4cc" fill-opacity="0.92" stroke="#8a8a8a" stroke-opacity="0.35" stroke-width="0.7"/>
<circle cx="655.7" cy="1092.7" r="5.6" fill="#8a1fd5" fill-opacity="0.92" stroke="#8a8a8a" stroke-opacity="0.35" stroke-width="0.7"/>
<circle cx="466.7" cy="1110.7" r="5.6" fill="#f7ece0" fill-opacity="0.92" stroke="#8a8a8a" stroke-opacity="0.35" stroke-width="0.7"/>
<circle cx="521.9" cy="1113.9" r="5.6" fill="#efb59c" fill-opacity="0.92" stroke="#8a8a8a" stroke-opacity="0.35" stroke-width="0.7"/>
<circle cx="452.7" cy="1113.8" r="5.6" fill="#ef6148" fill-opacity="0.92" stroke="#8a8a8a" stroke-opacity="0.35" stroke-width="0.7"/>
<circle cx="455.1" cy="1120.2" r="5.6" fill="#e0312b" fill-opacity="0.92" stroke="#8a8a8a" stroke-opacity="0.35" stroke-width="0.7"/>
<circle cx="463.7" cy="1123.3" r="5.6" fill="#4b7a24" fill-opacity="0.92" stroke="#8a8a8a" stroke-opacity="0.35" stroke-width="0.7"/>
<circle cx="459.5" cy="1124.2" r="5.6" fill="#2f3a63" fill-opacity="0.92" stroke="#8a8a8a" stroke-opacity="0.35" stroke-width="0.7"/>
<circle cx="149.8" cy="1427.5" r="5.6" fill="#9de25a" fill-opacity="0.92" stroke="#8a8a8a" stroke-opacity="0.35" stroke-width="0.7"/>
<circle cx="152.9" cy="1441" r="5.6" fill="#eccb9f" fill-opacity="0.92" stroke="#8a8a8a" stroke-opacity="0.35" stroke-width="0.7"/>
<circle cx="154.7" cy="1441" r="5.6" fill="#8a1fd5" fill-opacity="0.92" stroke="#8a8a8a" stroke-opacity="0.35" stroke-width="0.7"/>
<circle cx="155.6" cy="1441.9" r="5.6" fill="#f5e2d6" fill-opacity="0.92" stroke="#8a8a8a" stroke-opacity="0.35" stroke-width="0.7"/>
<circle cx="156.5" cy="1443.6" r="5.6" fill="#bdeba0" fill-opacity="0.92" stroke="#8a8a8a" stroke-opacity="0.35" stroke-width="0.7"/>
<circle cx="157.4" cy="1449" r="5.6" fill="#f7ece0" fill-opacity="0.92" stroke="#8a8a8a" stroke-opacity="0.35" stroke-width="0.7"/>
<circle cx="159.5" cy="1453.2" r="5.6" fill="#ef6148" fill-opacity="0.92" stroke="#8a8a8a" stroke-opacity="0.35" stroke-width="0.7"/>
<circle cx="189.3" cy="1444.9" r="5.6" fill="#9ba4cc" fill-opacity="0.92" stroke="#8a8a8a" stroke-opacity="0.35" stroke-width="0.7"/>
<circle cx="181.6" cy="1453.2" r="5.6" fill="#eccb9f" fill-opacity="0.92" stroke="#8a8a8a" stroke-opacity="0.35" stroke-width="0.7"/>
<circle cx="164" cy="1466.6" r="5.6" fill="#4b7a24" fill-opacity="0.92" stroke="#8a8a8a" stroke-opacity="0.35" stroke-width="0.7"/>
<circle cx="173" cy="1466.6" r="5.6" fill="#a71f24" fill-opacity="0.92" stroke="#8a8a8a" stroke-opacity="0.35" stroke-width="0.7"/>
<circle cx="169" cy="1471.5" r="5.6" fill="#ee8b74" fill-opacity="0.92" stroke="#8a8a8a" stroke-opacity="0.35" stroke-width="0.7"/>
<circle cx="200.5" cy="1466.6" r="5.6" fill="#efb59c" fill-opacity="0.92" stroke="#8a8a8a" stroke-opacity="0.35" stroke-width="0.7"/>
<circle cx="441.9" cy="1207.1" r="5.6" fill="#9de25a" fill-opacity="0.92" stroke="#8a8a8a" stroke-opacity="0.35" stroke-width="0.7"/>
<circle cx="442.8" cy="1328" r="5.6" fill="#e3f5d6" fill-opacity="0.92" stroke="#8a8a8a" stroke-opacity="0.35" stroke-width="0.7"/>
<circle cx="447.9" cy="1390.8" r="5.6" fill="#bdeba0" fill-opacity="0.92" stroke="#8a8a8a" stroke-opacity="0.35" stroke-width="0.7"/>
<circle cx="441.9" cy="1395.7" r="5.6" fill="#ef6148" fill-opacity="0.92" stroke="#8a8a8a" stroke-opacity="0.35" stroke-width="0.7"/>
<circle cx="438.5" cy="1408.6" r="5.6" fill="#eba86a" fill-opacity="0.92" stroke="#8a8a8a" stroke-opacity="0.35" stroke-width="0.7"/>
<circle cx="451.5" cy="1417.8" r="5.6" fill="#7bbd3a" fill-opacity="0.92" stroke="#8a8a8a" stroke-opacity="0.35" stroke-width="0.7"/>
<circle cx="448.8" cy="1417.8" r="5.6" fill="#eccb9f" fill-opacity="0.92" stroke="#8a8a8a" stroke-opacity="0.35" stroke-width="0.7"/>
<circle cx="430.8" cy="1440.6" r="5.6" fill="#8a1fd5" fill-opacity="0.92" stroke="#8a8a8a" stroke-opacity="0.35" stroke-width="0.7"/>
<circle cx="448.4" cy="1440.2" r="5.6" fill="#4b7a24" fill-opacity="0.92" stroke="#8a8a8a" stroke-opacity="0.35" stroke-width="0.7"/>
<circle cx="450.2" cy="1451.9" r="5.6" fill="#a8411b" fill-opacity="0.92" stroke="#8a8a8a" stroke-opacity="0.35" stroke-width="0.7"/>
<circle cx="455.1" cy="1457.6" r="5.6" fill="#f7ece0" fill-opacity="0.92" stroke="#8a8a8a" stroke-opacity="0.35" stroke-width="0.7"/>
<circle cx="473.6" cy="1450.1" r="5.6" fill="#9ba4cc" fill-opacity="0.92" stroke="#8a8a8a" stroke-opacity="0.35" stroke-width="0.7"/>
<circle cx="472.5" cy="1458" r="5.6" fill="#eccb9f" fill-opacity="0.92" stroke="#8a8a8a" stroke-opacity="0.35" stroke-width="0.7"/>
<circle cx="463.5" cy="1462.7" r="5.6" fill="#2f3a63" fill-opacity="0.92" stroke="#8a8a8a" stroke-opacity="0.35" stroke-width="0.7"/>
<circle cx="458.6" cy="1467" r="5.6" fill="#ee8b74" fill-opacity="0.92" stroke="#8a8a8a" stroke-opacity="0.35" stroke-width="0.7"/>
<circle cx="568.8" cy="1403.8" r="5.6" fill="#efb59c" fill-opacity="0.92" stroke="#8a8a8a" stroke-opacity="0.35" stroke-width="0.7"/>
<text transform="translate(2,1601.5)" font-size="24.1" fill="#000" font-weight="bold">Species</text>
<rect x="96.3" y="1584.3" width="25.6" height="25.2" fill="#9ba4cc"/>
<text transform="translate(115.03,1613.4) rotate(-90)" font-size="24.7" fill="#000" font-style="italic" text-anchor="end">C. aerofaciens</text>
<rect x="124.97" y="1584.3" width="25.6" height="25.2" fill="#2f3a63"/>
<text transform="translate(143.7,1613.4) rotate(-90)" font-size="24.7" fill="#000" font-style="italic" text-anchor="end">E. lenta</text>
<rect x="153.64" y="1584.3" width="25.6" height="25.2" fill="#e3f5d6"/>
<text transform="translate(172.37,1613.4) rotate(-90)" font-size="24.7" fill="#000" font-style="italic" text-anchor="end">B. fragilis</text>
<rect x="182.31" y="1584.3" width="25.6" height="25.2" fill="#bdeba0"/>
<text transform="translate(201.04,1613.4) rotate(-90)" font-size="24.7" fill="#000" font-style="italic" text-anchor="end">B. thetaiotaomicron</text>
<rect x="210.98" y="1584.3" width="25.6" height="25.2" fill="#9de25a"/>
<text transform="translate(229.71,1613.4) rotate(-90)" font-size="24.7" fill="#000" font-style="italic" text-anchor="end">B. uniformis</text>
<rect x="239.65" y="1584.3" width="25.6" height="25.2" fill="#7bbd3a"/>
<text transform="translate(258.38,1613.4) rotate(-90)" font-size="24.7" fill="#000" font-style="italic" text-anchor="end">P. vulgatus</text>
<rect x="268.32" y="1584.3" width="25.6" height="25.2" fill="#4b7a24"/>
<text transform="translate(287.05,1613.4) rotate(-90)" font-size="24.7" fill="#000" font-style="italic" text-anchor="end">P. merdae</text>
<rect x="296.99" y="1584.3" width="25.6" height="25.2" fill="#f5e2d6"/>
<text transform="translate(315.72,1613.4) rotate(-90)" font-size="24.7" fill="#000" font-style="italic" text-anchor="end">E. bolteae</text>
<rect x="325.66" y="1584.3" width="25.6" height="25.2" fill="#efb59c"/>
<text transform="translate(344.39,1613.4) rotate(-90)" font-size="24.7" fill="#000" font-style="italic" text-anchor="end">S. perfringens</text>
<rect x="354.33" y="1584.3" width="25.6" height="25.2" fill="#ee8b74"/>
<text transform="translate(373.06,1613.4) rotate(-90)" font-size="24.7" fill="#000" font-style="italic" text-anchor="end">T. ramosa</text>
<rect x="383" y="1584.3" width="25.6" height="25.2" fill="#ef6148"/>
<text transform="translate(401.73,1613.4) rotate(-90)" font-size="24.7" fill="#000" font-style="italic" text-anchor="end">L. saccharolytica</text>
<rect x="411.67" y="1584.3" width="25.6" height="25.2" fill="#e0312b"/>
<text transform="translate(430.4,1613.4) rotate(-90)" font-size="24.7" fill="#000" font-style="italic" text-anchor="end">B. comes</text>
<rect x="440.34" y="1584.3" width="25.6" height="25.2" fill="#a71f24"/>
<text transform="translate(459.07,1613.4) rotate(-90)" font-size="24.7" fill="#000" font-style="italic" text-anchor="end">D. formicigenerans</text>
<rect x="469.01" y="1584.3" width="25.6" height="25.2" fill="#f7ece0"/>
<text transform="translate(487.74,1613.4) rotate(-90)" font-size="24.7" fill="#000" font-style="italic" text-anchor="end">A. rectalis</text>
<rect x="497.68" y="1584.3" width="25.6" height="25.2" fill="#eccb9f"/>
<text transform="translate(516.41,1613.4) rotate(-90)" font-size="24.7" fill="#000" font-style="italic" text-anchor="end">R. intestinalis</text>
<rect x="526.35" y="1584.3" width="25.6" height="25.2" fill="#eba86a"/>
<text transform="translate(545.08,1613.4) rotate(-90)" font-size="24.7" fill="#000" font-style="italic" text-anchor="end">R. gnavus</text>
<rect x="555.02" y="1584.3" width="25.6" height="25.2" fill="#ec8a3e"/>
<text transform="translate(573.75,1613.4) rotate(-90)" font-size="24.7" fill="#000" font-style="italic" text-anchor="end">S. parasanguinis</text>
<rect x="583.69" y="1584.3" width="25.6" height="25.2" fill="#e35a21"/>
<text transform="translate(602.42,1613.4) rotate(-90)" font-size="24.7" fill="#000" font-style="italic" text-anchor="end">S. salivarius</text>
<rect x="612.36" y="1584.3" width="25.6" height="25.2" fill="#a8411b"/>
<text transform="translate(631.09,1613.4) rotate(-90)" font-size="24.7" fill="#000" font-style="italic" text-anchor="end">V. parvula</text>
<rect x="641.03" y="1584.3" width="25.6" height="25.2" fill="#8a1fd5"/>
<text transform="translate(659.76,1613.4) rotate(-90)" font-size="24.7" fill="#000" font-style="italic" text-anchor="end">F. nucleatum</text>
<text transform="translate(729.5,812.3)" font-size="66" fill="#000">e</text>
<text transform="translate(1053.8,781.6) scale(1,1.035)" font-size="29.6" fill="#000" text-anchor="middle">SPF</text>
<line x1="887.7" y1="793.3" x2="1213.2" y2="793.3" stroke="#000" stroke-width="4.2" stroke-linecap="round"/>
<rect x="773" y="803.8" width="274.3" height="41.9" fill="#b3b3b3"/>
<text transform="translate(910.15,831.38)" font-size="25.2" fill="#fff" text-anchor="middle">Chlorpromazine</text>
<rect x="773" y="845.7" width="274.3" height="178.3" fill="#fff"/>
<line x1="773" y1="991.45" x2="1047.3" y2="991.45" stroke="#f5f5f5" stroke-width="1"/>
<line x1="773" y1="942.15" x2="1047.3" y2="942.15" stroke="#f5f5f5" stroke-width="1"/>
<line x1="773" y1="892.85" x2="1047.3" y2="892.85" stroke="#f5f5f5" stroke-width="1"/>
<line x1="791.08" y1="845.7" x2="791.08" y2="1024" stroke="#f5f5f5" stroke-width="1"/>
<line x1="862.02" y1="845.7" x2="862.02" y2="1024" stroke="#f5f5f5" stroke-width="1"/>
<line x1="932.98" y1="845.7" x2="932.98" y2="1024" stroke="#f5f5f5" stroke-width="1"/>
<line x1="1003.92" y1="845.7" x2="1003.92" y2="1024" stroke="#f5f5f5" stroke-width="1"/>
<line x1="773" y1="1016.1" x2="1047.3" y2="1016.1" stroke="#ebebeb" stroke-width="1.1"/>
<line x1="773" y1="966.8" x2="1047.3" y2="966.8" stroke="#ebebeb" stroke-width="1.1"/>
<line x1="773" y1="917.5" x2="1047.3" y2="917.5" stroke="#ebebeb" stroke-width="1.1"/>
<line x1="773" y1="868.2" x2="1047.3" y2="868.2" stroke="#ebebeb" stroke-width="1.1"/>
<line x1="826.55" y1="845.7" x2="826.55" y2="1024" stroke="#ebebeb" stroke-width="1.1"/>
<line x1="897.5" y1="845.7" x2="897.5" y2="1024" stroke="#ebebeb" stroke-width="1.1"/>
<line x1="968.45" y1="845.7" x2="968.45" y2="1024" stroke="#ebebeb" stroke-width="1.1"/>
<line x1="1039.4" y1="845.7" x2="1039.4" y2="1024" stroke="#ebebeb" stroke-width="1.1"/>
<line x1="773" y1="966.8" x2="1047.3" y2="966.8" stroke="#999999" stroke-width="1.2" stroke-dasharray="4.6,3.9"/>
<line x1="897.5" y1="845.7" x2="897.5" y2="1024" stroke="#999999" stroke-width="1.2" stroke-dasharray="4.6,3.9"/>
<rect x="773" y="845.7" width="274.3" height="178.3" fill="none" stroke="#a9a9a9" stroke-width="1.9"/>
<line x1="768.5" y1="1016.1" x2="773" y2="1016.1" stroke="#b3b3b3" stroke-width="1.3"/>
<line x1="768.5" y1="966.8" x2="773" y2="966.8" stroke="#b3b3b3" stroke-width="1.3"/>
<line x1="768.5" y1="917.5" x2="773" y2="917.5" stroke="#b3b3b3" stroke-width="1.3"/>
<line x1="768.5" y1="868.2" x2="773" y2="868.2" stroke="#b3b3b3" stroke-width="1.3"/>
<rect x="1056.7" y="803.8" width="277.5" height="41.9" fill="#b3b3b3"/>
<text transform="translate(1195.45,831.38)" font-size="25.2" fill="#fff" text-anchor="middle">Clomiphene</text>
<rect x="1056.7" y="845.7" width="277.5" height="178.3" fill="#fff"/>
<line x1="1056.7" y1="991.45" x2="1334.2" y2="991.45" stroke="#f5f5f5" stroke-width="1"/>
<line x1="1056.7" y1="942.15" x2="1334.2" y2="942.15" stroke="#f5f5f5" stroke-width="1"/>
<line x1="1056.7" y1="892.85" x2="1334.2" y2="892.85" stroke="#f5f5f5" stroke-width="1"/>
<line x1="1076.08" y1="845.7" x2="1076.08" y2="1024" stroke="#f5f5f5" stroke-width="1"/>
<line x1="1147.03" y1="845.7" x2="1147.03" y2="1024" stroke="#f5f5f5" stroke-width="1"/>
<line x1="1217.97" y1="845.7" x2="1217.97" y2="1024" stroke="#f5f5f5" stroke-width="1"/>
<line x1="1288.92" y1="845.7" x2="1288.92" y2="1024" stroke="#f5f5f5" stroke-width="1"/>
<line x1="1056.7" y1="1016.1" x2="1334.2" y2="1016.1" stroke="#ebebeb" stroke-width="1.1"/>
<line x1="1056.7" y1="966.8" x2="1334.2" y2="966.8" stroke="#ebebeb" stroke-width="1.1"/>
<line x1="1056.7" y1="917.5" x2="1334.2" y2="917.5" stroke="#ebebeb" stroke-width="1.1"/>
<line x1="1056.7" y1="868.2" x2="1334.2" y2="868.2" stroke="#ebebeb" stroke-width="1.1"/>
<line x1="1111.55" y1="845.7" x2="1111.55" y2="1024" stroke="#ebebeb" stroke-width="1.1"/>
<line x1="1182.5" y1="845.7" x2="1182.5" y2="1024" stroke="#ebebeb" stroke-width="1.1"/>
<line x1="1253.45" y1="845.7" x2="1253.45" y2="1024" stroke="#ebebeb" stroke-width="1.1"/>
<line x1="1324.4" y1="845.7" x2="1324.4" y2="1024" stroke="#ebebeb" stroke-width="1.1"/>
<line x1="1056.7" y1="966.8" x2="1334.2" y2="966.8" stroke="#999999" stroke-width="1.2" stroke-dasharray="4.6,3.9"/>
<line x1="1182.5" y1="845.7" x2="1182.5" y2="1024" stroke="#999999" stroke-width="1.2" stroke-dasharray="4.6,3.9"/>
<rect x="1056.7" y="845.7" width="277.5" height="178.3" fill="none" stroke="#a9a9a9" stroke-width="1.9"/>
<text transform="translate(765.8,1021.1) scale(1,1.035)" font-size="24.4" fill="#333333" text-anchor="end">0</text>
<text transform="translate(765.8,971.8) scale(1,1.035)" font-size="24.4" fill="#333333" text-anchor="end">1</text>
<text transform="translate(765.8,922.5) scale(1,1.035)" font-size="24.4" fill="#333333" text-anchor="end">2</text>
<text transform="translate(765.8,873.2) scale(1,1.035)" font-size="24.4" fill="#333333" text-anchor="end">3</text>
<rect x="773" y="1037.3" width="274.3" height="41" fill="#b3b3b3"/>
<text transform="translate(910.15,1067.07)" font-size="25.2" fill="#fff" text-anchor="middle">Clotrimazole</text>
<rect x="773" y="1078.3" width="274.3" height="177.8" fill="#fff"/>
<line x1="773" y1="1223.45" x2="1047.3" y2="1223.45" stroke="#f5f5f5" stroke-width="1"/>
<line x1="773" y1="1174.15" x2="1047.3" y2="1174.15" stroke="#f5f5f5" stroke-width="1"/>
<line x1="773" y1="1124.85" x2="1047.3" y2="1124.85" stroke="#f5f5f5" stroke-width="1"/>
<line x1="791.08" y1="1078.3" x2="791.08" y2="1256.1" stroke="#f5f5f5" stroke-width="1"/>
<line x1="862.02" y1="1078.3" x2="862.02" y2="1256.1" stroke="#f5f5f5" stroke-width="1"/>
<line x1="932.98" y1="1078.3" x2="932.98" y2="1256.1" stroke="#f5f5f5" stroke-width="1"/>
<line x1="1003.92" y1="1078.3" x2="1003.92" y2="1256.1" stroke="#f5f5f5" stroke-width="1"/>
<line x1="773" y1="1248.1" x2="1047.3" y2="1248.1" stroke="#ebebeb" stroke-width="1.1"/>
<line x1="773" y1="1198.8" x2="1047.3" y2="1198.8" stroke="#ebebeb" stroke-width="1.1"/>
<line x1="773" y1="1149.5" x2="1047.3" y2="1149.5" stroke="#ebebeb" stroke-width="1.1"/>
<line x1="773" y1="1100.2" x2="1047.3" y2="1100.2" stroke="#ebebeb" stroke-width="1.1"/>
<line x1="826.55" y1="1078.3" x2="826.55" y2="1256.1" stroke="#ebebeb" stroke-width="1.1"/>
<line x1="897.5" y1="1078.3" x2="897.5" y2="1256.1" stroke="#ebebeb" stroke-width="1.1"/>
<line x1="968.45" y1="1078.3" x2="968.45" y2="1256.1" stroke="#ebebeb" stroke-width="1.1"/>
<line x1="1039.4" y1="1078.3" x2="1039.4" y2="1256.1" stroke="#ebebeb" stroke-width="1.1"/>
<line x1="773" y1="1198.8" x2="1047.3" y2="1198.8" stroke="#999999" stroke-width="1.2" stroke-dasharray="4.6,3.9"/>
<line x1="897.5" y1="1078.3" x2="897.5" y2="1256.1" stroke="#999999" stroke-width="1.2" stroke-dasharray="4.6,3.9"/>
<rect x="773" y="1078.3" width="274.3" height="177.8" fill="none" stroke="#a9a9a9" stroke-width="1.9"/>
<line x1="768.5" y1="1248.1" x2="773" y2="1248.1" stroke="#b3b3b3" stroke-width="1.3"/>
<line x1="768.5" y1="1198.8" x2="773" y2="1198.8" stroke="#b3b3b3" stroke-width="1.3"/>
<line x1="768.5" y1="1149.5" x2="773" y2="1149.5" stroke="#b3b3b3" stroke-width="1.3"/>
<line x1="768.5" y1="1100.2" x2="773" y2="1100.2" stroke="#b3b3b3" stroke-width="1.3"/>
<rect x="1056.7" y="1037.3" width="277.5" height="41" fill="#b3b3b3"/>
<text transform="translate(1195.45,1067.07)" font-size="25.2" fill="#fff" text-anchor="middle">Terfenadine</text>
<rect x="1056.7" y="1078.3" width="277.5" height="177.8" fill="#fff"/>
<line x1="1056.7" y1="1223.45" x2="1334.2" y2="1223.45" stroke="#f5f5f5" stroke-width="1"/>
<line x1="1056.7" y1="1174.15" x2="1334.2" y2="1174.15" stroke="#f5f5f5" stroke-width="1"/>
<line x1="1056.7" y1="1124.85" x2="1334.2" y2="1124.85" stroke="#f5f5f5" stroke-width="1"/>
<line x1="1076.08" y1="1078.3" x2="1076.08" y2="1256.1" stroke="#f5f5f5" stroke-width="1"/>
<line x1="1147.03" y1="1078.3" x2="1147.03" y2="1256.1" stroke="#f5f5f5" stroke-width="1"/>
<line x1="1217.97" y1="1078.3" x2="1217.97" y2="1256.1" stroke="#f5f5f5" stroke-width="1"/>
<line x1="1288.92" y1="1078.3" x2="1288.92" y2="1256.1" stroke="#f5f5f5" stroke-width="1"/>
<line x1="1056.7" y1="1248.1" x2="1334.2" y2="1248.1" stroke="#ebebeb" stroke-width="1.1"/>
<line x1="1056.7" y1="1198.8" x2="1334.2" y2="1198.8" stroke="#ebebeb" stroke-width="1.1"/>
<line x1="1056.7" y1="1149.5" x2="1334.2" y2="1149.5" stroke="#ebebeb" stroke-width="1.1"/>
<line x1="1056.7" y1="1100.2" x2="1334.2" y2="1100.2" stroke="#ebebeb" stroke-width="1.1"/>
<line x1="1111.55" y1="1078.3" x2="1111.55" y2="1256.1" stroke="#ebebeb" stroke-width="1.1"/>
<line x1="1182.5" y1="1078.3" x2="1182.5" y2="1256.1" stroke="#ebebeb" stroke-width="1.1"/>
<line x1="1253.45" y1="1078.3" x2="1253.45" y2="1256.1" stroke="#ebebeb" stroke-width="1.1"/>
<line x1="1324.4" y1="1078.3" x2="1324.4" y2="1256.1" stroke="#ebebeb" stroke-width="1.1"/>
<line x1="1056.7" y1="1198.8" x2="1334.2" y2="1198.8" stroke="#999999" stroke-width="1.2" stroke-dasharray="4.6,3.9"/>
<line x1="1182.5" y1="1078.3" x2="1182.5" y2="1256.1" stroke="#999999" stroke-width="1.2" stroke-dasharray="4.6,3.9"/>
<rect x="1056.7" y="1078.3" width="277.5" height="177.8" fill="none" stroke="#a9a9a9" stroke-width="1.9"/>
<line x1="1111.55" y1="1256.1" x2="1111.55" y2="1260.6" stroke="#b3b3b3" stroke-width="1.3"/>
<line x1="1182.5" y1="1256.1" x2="1182.5" y2="1260.6" stroke="#b3b3b3" stroke-width="1.3"/>
<line x1="1253.45" y1="1256.1" x2="1253.45" y2="1260.6" stroke="#b3b3b3" stroke-width="1.3"/>
<line x1="1324.4" y1="1256.1" x2="1324.4" y2="1260.6" stroke="#b3b3b3" stroke-width="1.3"/>
<text transform="translate(765.8,1253.1) scale(1,1.035)" font-size="24.4" fill="#333333" text-anchor="end">0</text>
<text transform="translate(765.8,1203.8) scale(1,1.035)" font-size="24.4" fill="#333333" text-anchor="end">1</text>
<text transform="translate(765.8,1154.5) scale(1,1.035)" font-size="24.4" fill="#333333" text-anchor="end">2</text>
<text transform="translate(765.8,1105.2) scale(1,1.035)" font-size="24.4" fill="#333333" text-anchor="end">3</text>
<rect x="773" y="1269.1" width="274.3" height="41.9" fill="#b3b3b3"/>
<text transform="translate(910.15,1299.32)" font-size="25.2" fill="#fff" text-anchor="middle">Zafirlukast</text>
<rect x="773" y="1311" width="274.3" height="177.7" fill="#fff"/>
<line x1="773" y1="1454.95" x2="1047.3" y2="1454.95" stroke="#f5f5f5" stroke-width="1"/>
<line x1="773" y1="1405.65" x2="1047.3" y2="1405.65" stroke="#f5f5f5" stroke-width="1"/>
<line x1="773" y1="1356.35" x2="1047.3" y2="1356.35" stroke="#f5f5f5" stroke-width="1"/>
<line x1="791.08" y1="1311" x2="791.08" y2="1488.7" stroke="#f5f5f5" stroke-width="1"/>
<line x1="862.02" y1="1311" x2="862.02" y2="1488.7" stroke="#f5f5f5" stroke-width="1"/>
<line x1="932.98" y1="1311" x2="932.98" y2="1488.7" stroke="#f5f5f5" stroke-width="1"/>
<line x1="1003.92" y1="1311" x2="1003.92" y2="1488.7" stroke="#f5f5f5" stroke-width="1"/>
<line x1="773" y1="1479.6" x2="1047.3" y2="1479.6" stroke="#ebebeb" stroke-width="1.1"/>
<line x1="773" y1="1430.3" x2="1047.3" y2="1430.3" stroke="#ebebeb" stroke-width="1.1"/>
<line x1="773" y1="1381" x2="1047.3" y2="1381" stroke="#ebebeb" stroke-width="1.1"/>
<line x1="773" y1="1331.7" x2="1047.3" y2="1331.7" stroke="#ebebeb" stroke-width="1.1"/>
<line x1="826.55" y1="1311" x2="826.55" y2="1488.7" stroke="#ebebeb" stroke-width="1.1"/>
<line x1="897.5" y1="1311" x2="897.5" y2="1488.7" stroke="#ebebeb" stroke-width="1.1"/>
<line x1="968.45" y1="1311" x2="968.45" y2="1488.7" stroke="#ebebeb" stroke-width="1.1"/>
<line x1="1039.4" y1="1311" x2="1039.4" y2="1488.7" stroke="#ebebeb" stroke-width="1.1"/>
<line x1="773" y1="1430.3" x2="1047.3" y2="1430.3" stroke="#999999" stroke-width="1.2" stroke-dasharray="4.6,3.9"/>
<line x1="897.5" y1="1311" x2="897.5" y2="1488.7" stroke="#999999" stroke-width="1.2" stroke-dasharray="4.6,3.9"/>
<rect x="773" y="1311" width="274.3" height="177.7" fill="none" stroke="#a9a9a9" stroke-width="1.9"/>
<line x1="768.5" y1="1479.6" x2="773" y2="1479.6" stroke="#b3b3b3" stroke-width="1.3"/>
<line x1="768.5" y1="1430.3" x2="773" y2="1430.3" stroke="#b3b3b3" stroke-width="1.3"/>
<line x1="768.5" y1="1381" x2="773" y2="1381" stroke="#b3b3b3" stroke-width="1.3"/>
<line x1="768.5" y1="1331.7" x2="773" y2="1331.7" stroke="#b3b3b3" stroke-width="1.3"/>
<line x1="826.55" y1="1488.7" x2="826.55" y2="1493.2" stroke="#b3b3b3" stroke-width="1.3"/>
<line x1="897.5" y1="1488.7" x2="897.5" y2="1493.2" stroke="#b3b3b3" stroke-width="1.3"/>
<line x1="968.45" y1="1488.7" x2="968.45" y2="1493.2" stroke="#b3b3b3" stroke-width="1.3"/>
<line x1="1039.4" y1="1488.7" x2="1039.4" y2="1493.2" stroke="#b3b3b3" stroke-width="1.3"/>
<text transform="translate(765.8,1484.6) scale(1,1.035)" font-size="24.4" fill="#333333" text-anchor="end">0</text>
<text transform="translate(765.8,1435.3) scale(1,1.035)" font-size="24.4" fill="#333333" text-anchor="end">1</text>
<text transform="translate(765.8,1386) scale(1,1.035)" font-size="24.4" fill="#333333" text-anchor="end">2</text>
<text transform="translate(765.8,1336.7) scale(1,1.035)" font-size="24.4" fill="#333333" text-anchor="end">3</text>
<text transform="translate(815.75,1514.9) scale(1,1.035)" font-size="24.4" fill="#333333" text-anchor="middle">−3</text>
<text transform="translate(897.5,1514.9) scale(1,1.035)" font-size="24.4" fill="#333333" text-anchor="middle">0</text>
<text transform="translate(968.45,1514.9) scale(1,1.035)" font-size="24.4" fill="#333333" text-anchor="middle">3</text>
<text transform="translate(1039.4,1514.9) scale(1,1.035)" font-size="24.4" fill="#333333" text-anchor="middle">6</text>
<text transform="translate(1100.75,1282.3) scale(1,1.035)" font-size="24.4" fill="#333333" text-anchor="middle">−3</text>
<text transform="translate(1182.5,1282.3) scale(1,1.035)" font-size="24.4" fill="#333333" text-anchor="middle">0</text>
<text transform="translate(1253.45,1282.3) scale(1,1.035)" font-size="24.4" fill="#333333" text-anchor="middle">3</text>
<text transform="translate(1324.4,1282.3) scale(1,1.035)" font-size="24.4" fill="#333333" text-anchor="middle">6</text>
<text transform="translate(1040.6,1547.5)" font-size="29.2" fill="#000" text-anchor="middle">log<tspan font-size="16.6" dy="9.4" dx="0.6">2</tspan><tspan dy="-9.4" dx="0.4">(fold change clr−transformed abundance)</tspan></text>
<text transform="translate(734,1138.4) rotate(-90)" font-size="29.3" fill="#000" text-anchor="middle">−log<tspan font-size="16.7" dy="9.4" dx="0.6">10</tspan><tspan dy="-9.4" dx="0.4">(adj. </tspan><tspan font-style="italic">P</tspan>)</text>
<text transform="translate(1106.5,1356.8)" font-size="24.9" fill="#000" font-weight="bold">Significant</text>
<path d="M1115.4,1375.8L1122.8,1383.2L1115.4,1390.6L1108,1383.2Z" fill="none" stroke="#444" stroke-width="2.6"/>
<text transform="translate(1131.5,1393.7) scale(1,1.035)" font-size="24.6" fill="#000">TRUE</text>
<circle cx="1115.4" cy="1412.4" r="6.0" fill="none" stroke="#444" stroke-width="2.5"/>
<text transform="translate(1131.5,1420.9) scale(1,1.035)" font-size="24.6" fill="#000">FALSE</text>
<circle cx="823" cy="990.96" r="3.4" fill="none" stroke="#000" stroke-width="0.9"/>
<circle cx="856.59" cy="990.96" r="3.4" fill="none" stroke="#000" stroke-width="0.9"/>
<circle cx="945.27" cy="990.96" r="3.4" fill="none" stroke="#000" stroke-width="0.9"/>
<circle cx="964.19" cy="999.83" r="3.4" fill="none" stroke="#000" stroke-width="0.9"/>
<circle cx="891.27" cy="1014.96" r="3.4" fill="none" stroke="#000" stroke-width="0.9"/>
<circle cx="913.64" cy="1012.41" r="3.4" fill="none" stroke="#000" stroke-width="0.9"/>
<circle cx="869.14" cy="1005.31" r="3.4" fill="none" stroke="#000" stroke-width="0.9"/>
<circle cx="894.2" cy="1014.5" r="3.4" fill="none" stroke="#000" stroke-width="0.9"/>
<circle cx="845.29" cy="1000.03" r="3.4" fill="none" stroke="#000" stroke-width="0.9"/>
<circle cx="950.57" cy="999.81" r="3.4" fill="none" stroke="#000" stroke-width="0.9"/>
<circle cx="915.37" cy="1010.24" r="3.4" fill="none" stroke="#000" stroke-width="0.9"/>
<circle cx="909.56" cy="1012.83" r="3.4" fill="none" stroke="#000" stroke-width="0.9"/>
<circle cx="892.93" cy="1016.1" r="3.4" fill="none" stroke="#000" stroke-width="0.9"/>
<circle cx="863.87" cy="1001.98" r="3.4" fill="none" stroke="#000" stroke-width="0.9"/>
<circle cx="914.01" cy="1012.39" r="3.4" fill="none" stroke="#000" stroke-width="0.9"/>
<circle cx="888.31" cy="1013.8" r="3.4" fill="none" stroke="#000" stroke-width="0.9"/>
<circle cx="917.13" cy="1011.99" r="3.4" fill="none" stroke="#000" stroke-width="0.9"/>
<circle cx="882.81" cy="1008.66" r="3.4" fill="none" stroke="#000" stroke-width="0.9"/>
<circle cx="933.78" cy="1005.76" r="3.4" fill="none" stroke="#000" stroke-width="0.9"/>
<circle cx="945.54" cy="999.04" r="3.4" fill="none" stroke="#000" stroke-width="0.9"/>
<circle cx="909.47" cy="1011.38" r="3.4" fill="none" stroke="#000" stroke-width="0.9"/>
<circle cx="850.73" cy="1003.11" r="3.4" fill="none" stroke="#000" stroke-width="0.9"/>
<circle cx="870.42" cy="1004.57" r="3.4" fill="none" stroke="#000" stroke-width="0.9"/>
<circle cx="925.8" cy="1007.15" r="3.4" fill="none" stroke="#000" stroke-width="0.9"/>
<circle cx="910.83" cy="1013.58" r="3.4" fill="none" stroke="#000" stroke-width="0.9"/>
<circle cx="918.78" cy="1013.54" r="3.4" fill="none" stroke="#000" stroke-width="0.9"/>
<circle cx="950.36" cy="1005.18" r="3.4" fill="none" stroke="#000" stroke-width="0.9"/>
<circle cx="854.99" cy="1003.49" r="3.4" fill="none" stroke="#000" stroke-width="0.9"/>
<circle cx="953.77" cy="999.3" r="3.4" fill="none" stroke="#000" stroke-width="0.9"/>
<circle cx="857.46" cy="1006.83" r="3.4" fill="none" stroke="#000" stroke-width="0.9"/>
<circle cx="872.3" cy="1008.34" r="3.4" fill="none" stroke="#000" stroke-width="0.9"/>
<circle cx="849.87" cy="1001.52" r="3.4" fill="none" stroke="#000" stroke-width="0.9"/>
<circle cx="885.93" cy="1016.1" r="3.4" fill="none" stroke="#000" stroke-width="0.9"/>
<circle cx="873.15" cy="1005.77" r="3.4" fill="none" stroke="#000" stroke-width="0.9"/>
<circle cx="946.11" cy="1000.14" r="3.4" fill="none" stroke="#000" stroke-width="0.9"/>
<circle cx="875.42" cy="1014.8" r="3.4" fill="none" stroke="#000" stroke-width="0.9"/>
<circle cx="840.72" cy="998.63" r="3.4" fill="none" stroke="#000" stroke-width="0.9"/>
<circle cx="886.84" cy="1013.51" r="3.4" fill="none" stroke="#000" stroke-width="0.9"/>
<circle cx="870.7" cy="1010.35" r="3.4" fill="none" stroke="#000" stroke-width="0.9"/>
<circle cx="875.18" cy="1010.94" r="3.4" fill="none" stroke="#000" stroke-width="0.9"/>
<circle cx="864.97" cy="1002.97" r="3.4" fill="none" stroke="#000" stroke-width="0.9"/>
<circle cx="861.25" cy="1007.1" r="3.4" fill="none" stroke="#000" stroke-width="0.9"/>
<circle cx="898.98" cy="1011.88" r="3.4" fill="none" stroke="#000" stroke-width="0.9"/>
<circle cx="940.3" cy="1006.84" r="3.4" fill="none" stroke="#000" stroke-width="0.9"/>
<circle cx="876.5" cy="1007.13" r="3.4" fill="none" stroke="#000" stroke-width="0.9"/>
<circle cx="895.23" cy="1013.13" r="3.4" fill="none" stroke="#000" stroke-width="0.9"/>
<circle cx="890.68" cy="1014.66" r="3.4" fill="none" stroke="#000" stroke-width="0.9"/>
<circle cx="891.25" cy="1013.59" r="3.4" fill="none" stroke="#000" stroke-width="0.9"/>
<circle cx="878.8" cy="1005.39" r="3.4" fill="none" stroke="#000" stroke-width="0.9"/>
<circle cx="902.73" cy="1013.75" r="3.4" fill="none" stroke="#000" stroke-width="0.9"/>
<circle cx="879.84" cy="1012.04" r="3.4" fill="none" stroke="#000" stroke-width="0.9"/>
<circle cx="953.77" cy="999.22" r="3.4" fill="none" stroke="#000" stroke-width="0.9"/>
<circle cx="870.78" cy="1007.5" r="3.4" fill="none" stroke="#000" stroke-width="0.9"/>
<circle cx="884.92" cy="1011.91" r="3.4" fill="none" stroke="#000" stroke-width="0.9"/>
<circle cx="903.31" cy="1007.88" r="3.4" fill="none" stroke="#000" stroke-width="0.9"/>
<circle cx="902.65" cy="1013.69" r="3.4" fill="none" stroke="#000" stroke-width="0.9"/>
<circle cx="898.12" cy="1016.1" r="3.4" fill="none" stroke="#000" stroke-width="0.9"/>
<circle cx="933.6" cy="1007.26" r="3.4" fill="none" stroke="#000" stroke-width="0.9"/>
<circle cx="878.6" cy="1008.46" r="3.4" fill="none" stroke="#000" stroke-width="0.9"/>
<circle cx="939.04" cy="1000.37" r="3.4" fill="none" stroke="#000" stroke-width="0.9"/>
<circle cx="887.35" cy="1010.28" r="3.4" fill="none" stroke="#000" stroke-width="0.9"/>
<circle cx="940.85" cy="1011.17" r="3.4" fill="none" stroke="#000" stroke-width="0.9"/>
<circle cx="936.45" cy="1004.66" r="3.4" fill="none" stroke="#000" stroke-width="0.9"/>
<circle cx="896.71" cy="1012.64" r="3.4" fill="none" stroke="#000" stroke-width="0.9"/>
<circle cx="884.05" cy="1012.55" r="3.4" fill="none" stroke="#000" stroke-width="0.9"/>
<circle cx="918.26" cy="1006.1" r="3.4" fill="none" stroke="#000" stroke-width="0.9"/>
<circle cx="953.41" cy="997.89" r="3.4" fill="none" stroke="#000" stroke-width="0.9"/>
<circle cx="887.13" cy="1013.9" r="3.4" fill="none" stroke="#000" stroke-width="0.9"/>
<circle cx="888.4" cy="1016.1" r="3.4" fill="none" stroke="#000" stroke-width="0.9"/>
<circle cx="920.15" cy="1013.82" r="3.4" fill="none" stroke="#000" stroke-width="0.9"/>
<circle cx="940.42" cy="1000.59" r="3.4" fill="none" stroke="#000" stroke-width="0.9"/>
<circle cx="939.26" cy="1002.32" r="3.4" fill="none" stroke="#000" stroke-width="0.9"/>
<circle cx="920.06" cy="1007.67" r="3.4" fill="none" stroke="#000" stroke-width="0.9"/>
<circle cx="847.33" cy="997.67" r="3.4" fill="none" stroke="#000" stroke-width="0.9"/>
<circle cx="915.32" cy="1016.1" r="3.4" fill="none" stroke="#000" stroke-width="0.9"/>
<circle cx="903.7" cy="1010.54" r="3.4" fill="none" stroke="#000" stroke-width="0.9"/>
<circle cx="891.26" cy="1010.28" r="3.4" fill="none" stroke="#000" stroke-width="0.9"/>
<circle cx="845.31" cy="1004.18" r="3.4" fill="none" stroke="#000" stroke-width="0.9"/>
<circle cx="931.09" cy="1008.66" r="3.4" fill="none" stroke="#000" stroke-width="0.9"/>
<circle cx="897.17" cy="1013.25" r="3.4" fill="none" stroke="#000" stroke-width="0.9"/>
<circle cx="930.61" cy="1013.01" r="3.4" fill="none" stroke="#000" stroke-width="0.9"/>
<circle cx="841.72" cy="1001.45" r="3.4" fill="none" stroke="#000" stroke-width="0.9"/>
<circle cx="905.62" cy="1013.84" r="3.4" fill="none" stroke="#000" stroke-width="0.9"/>
<circle cx="863.52" cy="1004.28" r="3.4" fill="none" stroke="#000" stroke-width="0.9"/>
<circle cx="875.18" cy="1005.77" r="3.4" fill="none" stroke="#000" stroke-width="0.9"/>
<circle cx="872.54" cy="1004.71" r="3.4" fill="none" stroke="#000" stroke-width="0.9"/>
<circle cx="947.55" cy="1007.34" r="3.4" fill="none" stroke="#000" stroke-width="0.9"/>
<circle cx="867.43" cy="1004.74" r="3.4" fill="none" stroke="#000" stroke-width="0.9"/>
<circle cx="897.89" cy="1016.1" r="3.4" fill="none" stroke="#000" stroke-width="0.9"/>
<circle cx="847.46" cy="1001.39" r="3.4" fill="none" stroke="#000" stroke-width="0.9"/>
<circle cx="871.49" cy="1009.32" r="3.4" fill="none" stroke="#000" stroke-width="0.9"/>
<circle cx="868.37" cy="1011.32" r="3.4" fill="none" stroke="#000" stroke-width="0.9"/>
<circle cx="939.39" cy="1001.58" r="3.4" fill="none" stroke="#000" stroke-width="0.9"/>
<circle cx="884.2" cy="1010.21" r="3.4" fill="none" stroke="#000" stroke-width="0.9"/>
<circle cx="921.83" cy="1013.49" r="3.4" fill="none" stroke="#000" stroke-width="0.9"/>
<circle cx="918.03" cy="1012.06" r="3.4" fill="none" stroke="#000" stroke-width="0.9"/>
<circle cx="921.7" cy="1013.44" r="3.4" fill="none" stroke="#000" stroke-width="0.9"/>
<circle cx="867.32" cy="1007.93" r="3.4" fill="none" stroke="#000" stroke-width="0.9"/>
<circle cx="836.09" cy="1000.56" r="3.4" fill="none" stroke="#000" stroke-width="0.9"/>
<circle cx="908.02" cy="1016.1" r="3.4" fill="none" stroke="#000" stroke-width="0.9"/>
<circle cx="950.26" cy="1000.46" r="3.4" fill="none" stroke="#000" stroke-width="0.9"/>
<circle cx="873.63" cy="1010.63" r="3.4" fill="none" stroke="#000" stroke-width="0.9"/>
<circle cx="886.34" cy="1009.34" r="3.4" fill="none" stroke="#000" stroke-width="0.9"/>
<circle cx="947.05" cy="1000.37" r="3.4" fill="none" stroke="#000" stroke-width="0.9"/>
<circle cx="853.88" cy="1004.63" r="3.4" fill="none" stroke="#000" stroke-width="0.9"/>
<circle cx="951.97" cy="1002.05" r="3.4" fill="none" stroke="#000" stroke-width="0.9"/>
<circle cx="835.19" cy="1001.08" r="3.4" fill="none" stroke="#000" stroke-width="0.9"/>
<circle cx="942.63" cy="1001.53" r="3.4" fill="none" stroke="#000" stroke-width="0.9"/>
<circle cx="874.34" cy="1012.04" r="3.4" fill="none" stroke="#000" stroke-width="0.9"/>
<circle cx="881.65" cy="1011.88" r="3.4" fill="none" stroke="#000" stroke-width="0.9"/>
<circle cx="897.91" cy="1016.1" r="3.4" fill="none" stroke="#000" stroke-width="0.9"/>
<circle cx="880.84" cy="1012.39" r="3.4" fill="none" stroke="#000" stroke-width="0.9"/>
<circle cx="922.1" cy="1001.95" r="3.4" fill="none" stroke="#000" stroke-width="0.9"/>
<circle cx="952.26" cy="997.6" r="3.4" fill="none" stroke="#000" stroke-width="0.9"/>
<circle cx="884.88" cy="1007.98" r="3.4" fill="none" stroke="#000" stroke-width="0.9"/>
<circle cx="892.35" cy="1013.49" r="3.4" fill="none" stroke="#000" stroke-width="0.9"/>
<circle cx="838.53" cy="998.62" r="3.4" fill="none" stroke="#000" stroke-width="0.9"/>
<circle cx="837.9" cy="1001.23" r="3.4" fill="none" stroke="#000" stroke-width="0.9"/>
<circle cx="933.87" cy="1005.08" r="3.4" fill="none" stroke="#000" stroke-width="0.9"/>
<circle cx="917" cy="1010.12" r="3.4" fill="none" stroke="#000" stroke-width="0.9"/>
<circle cx="836.34" cy="1002.13" r="3.4" fill="none" stroke="#000" stroke-width="0.9"/>
<circle cx="842.96" cy="1004.4" r="3.4" fill="none" stroke="#000" stroke-width="0.9"/>
<circle cx="842.44" cy="1002.97" r="3.4" fill="none" stroke="#000" stroke-width="0.9"/>
<circle cx="949.11" cy="1000.87" r="3.4" fill="none" stroke="#000" stroke-width="0.9"/>
<circle cx="892.37" cy="1016.1" r="3.4" fill="none" stroke="#000" stroke-width="0.9"/>
<circle cx="890.72" cy="1014.53" r="3.4" fill="none" stroke="#000" stroke-width="0.9"/>
<circle cx="888.55" cy="1014.46" r="3.4" fill="none" stroke="#000" stroke-width="0.9"/>
<circle cx="909.58" cy="1010.56" r="3.4" fill="none" stroke="#000" stroke-width="0.9"/>
<circle cx="889.85" cy="1014.24" r="3.4" fill="none" stroke="#000" stroke-width="0.9"/>
<circle cx="897.14" cy="1015.57" r="3.4" fill="none" stroke="#000" stroke-width="0.9"/>
<circle cx="924.45" cy="1007.37" r="3.4" fill="none" stroke="#000" stroke-width="0.9"/>
<circle cx="900.94" cy="1012.27" r="3.4" fill="none" stroke="#000" stroke-width="0.9"/>
<circle cx="917.39" cy="1015.64" r="3.4" fill="none" stroke="#000" stroke-width="0.9"/>
<circle cx="869.19" cy="1007.97" r="3.4" fill="none" stroke="#000" stroke-width="0.9"/>
<circle cx="953.02" cy="1003.3" r="3.4" fill="none" stroke="#000" stroke-width="0.9"/>
<circle cx="929.74" cy="1002.75" r="3.4" fill="none" stroke="#000" stroke-width="0.9"/>
<circle cx="879.83" cy="1009.78" r="3.4" fill="none" stroke="#000" stroke-width="0.9"/>
<circle cx="851.98" cy="1002.81" r="3.4" fill="none" stroke="#000" stroke-width="0.9"/>
<circle cx="890.63" cy="1009.68" r="3.4" fill="none" stroke="#000" stroke-width="0.9"/>
<circle cx="931.94" cy="1003.77" r="3.4" fill="none" stroke="#000" stroke-width="0.9"/>
<circle cx="886.25" cy="1013.74" r="3.4" fill="none" stroke="#000" stroke-width="0.9"/>
<circle cx="873.38" cy="1006.41" r="3.4" fill="none" stroke="#000" stroke-width="0.9"/>
<circle cx="834.43" cy="996.87" r="3.4" fill="none" stroke="#000" stroke-width="0.9"/>
<circle cx="834.11" cy="998.85" r="3.4" fill="none" stroke="#000" stroke-width="0.9"/>
<circle cx="879.25" cy="1008.31" r="3.4" fill="none" stroke="#000" stroke-width="0.9"/>
<circle cx="869.47" cy="1008.19" r="3.4" fill="none" stroke="#000" stroke-width="0.9"/>
<circle cx="869.33" cy="1006.05" r="3.4" fill="none" stroke="#000" stroke-width="0.9"/>
<circle cx="876.47" cy="1010.11" r="3.4" fill="none" stroke="#000" stroke-width="0.9"/>
<circle cx="896.92" cy="1016.1" r="3.4" fill="none" stroke="#000" stroke-width="0.9"/>
<circle cx="923.12" cy="1007.03" r="3.4" fill="none" stroke="#000" stroke-width="0.9"/>
<circle cx="931.11" cy="1007.82" r="3.4" fill="none" stroke="#000" stroke-width="0.9"/>
<circle cx="881.18" cy="1016.1" r="3.4" fill="none" stroke="#000" stroke-width="0.9"/>
<circle cx="902.77" cy="1015.24" r="3.4" fill="none" stroke="#000" stroke-width="0.9"/>
<circle cx="844.62" cy="1005.06" r="3.4" fill="none" stroke="#000" stroke-width="0.9"/>
<circle cx="929.19" cy="1007.68" r="3.4" fill="none" stroke="#000" stroke-width="0.9"/>
<circle cx="867.99" cy="1012.73" r="3.4" fill="none" stroke="#000" stroke-width="0.9"/>
<circle cx="844.65" cy="999.52" r="3.4" fill="none" stroke="#000" stroke-width="0.9"/>
<circle cx="946.76" cy="1007.01" r="3.4" fill="none" stroke="#000" stroke-width="0.9"/>
<circle cx="933.41" cy="1005.91" r="3.4" fill="none" stroke="#000" stroke-width="0.9"/>
<circle cx="878.99" cy="1010.21" r="3.4" fill="none" stroke="#000" stroke-width="0.9"/>
<circle cx="844.58" cy="1004.76" r="3.4" fill="none" stroke="#000" stroke-width="0.9"/>
<circle cx="932.59" cy="1007.59" r="3.4" fill="none" stroke="#000" stroke-width="0.9"/>
<circle cx="897.45" cy="1014.76" r="3.4" fill="none" stroke="#000" stroke-width="0.9"/>
<circle cx="867.19" cy="1011.87" r="3.4" fill="none" stroke="#000" stroke-width="0.9"/>
<circle cx="899.4" cy="1015.74" r="3.4" fill="none" stroke="#000" stroke-width="0.9"/>
<circle cx="884.88" cy="1014.61" r="3.4" fill="none" stroke="#000" stroke-width="0.9"/>
<circle cx="905.34" cy="1014.37" r="3.4" fill="none" stroke="#000" stroke-width="0.9"/>
<circle cx="877.58" cy="1016.1" r="3.4" fill="none" stroke="#000" stroke-width="0.9"/>
<circle cx="856.33" cy="1004.11" r="3.4" fill="none" stroke="#000" stroke-width="0.9"/>
<circle cx="899.82" cy="1016.1" r="3.4" fill="none" stroke="#000" stroke-width="0.9"/>
<circle cx="885.56" cy="1012.84" r="3.4" fill="none" stroke="#000" stroke-width="0.9"/>
<circle cx="897.74" cy="1016.1" r="3.4" fill="none" stroke="#000" stroke-width="0.9"/>
<circle cx="884.68" cy="1014.45" r="3.4" fill="none" stroke="#000" stroke-width="0.9"/>
<circle cx="909.62" cy="1016.1" r="3.4" fill="none" stroke="#000" stroke-width="0.9"/>
<circle cx="872.1" cy="1010.28" r="3.4" fill="none" stroke="#000" stroke-width="0.9"/>
<circle cx="905.06" cy="1013.69" r="3.4" fill="none" stroke="#000" stroke-width="0.9"/>
<circle cx="949.77" cy="998.4" r="3.4" fill="none" stroke="#000" stroke-width="0.9"/>
<circle cx="952.01" cy="1000.43" r="3.4" fill="none" stroke="#000" stroke-width="0.9"/>
<circle cx="884.69" cy="1010.86" r="3.4" fill="none" stroke="#000" stroke-width="0.9"/>
<circle cx="863.88" cy="1000.3" r="3.4" fill="none" stroke="#000" stroke-width="0.9"/>
<circle cx="867.97" cy="1006.41" r="3.4" fill="none" stroke="#000" stroke-width="0.9"/>
<circle cx="921.89" cy="1009.66" r="3.4" fill="none" stroke="#000" stroke-width="0.9"/>
<circle cx="934.06" cy="1005.14" r="3.4" fill="none" stroke="#000" stroke-width="0.9"/>
<circle cx="896.85" cy="1010.17" r="3.4" fill="none" stroke="#000" stroke-width="0.9"/>
<path d="M1078.14,851.83L1082.74,856.43L1078.14,861.03L1073.54,856.43Z" fill="none" stroke="#000" stroke-width="0.9"/>
<path d="M1085.18,956.46L1089.78,961.06L1085.18,965.66L1080.58,961.06Z" fill="none" stroke="#000" stroke-width="0.9"/>
<path d="M1102.45,961.49L1107.05,966.09L1102.45,970.69L1097.85,966.09Z" fill="none" stroke="#000" stroke-width="0.9"/>
<path d="M1102.45,941.37L1107.05,945.97L1102.45,950.57L1097.85,945.97Z" fill="none" stroke="#000" stroke-width="0.9"/>
<path d="M1107.48,936.84L1112.08,941.44L1107.48,946.04L1102.88,941.44Z" fill="none" stroke="#000" stroke-width="0.9"/>
<path d="M1112.01,922.93L1116.61,927.53L1112.01,932.13L1107.41,927.53Z" fill="none" stroke="#000" stroke-width="0.9"/>
<path d="M1114.52,922.93L1119.12,927.53L1114.52,932.13L1109.92,927.53Z" fill="none" stroke="#000" stroke-width="0.9"/>
<path d="M1113.69,934.33L1118.29,938.93L1113.69,943.53L1109.09,938.93Z" fill="none" stroke="#000" stroke-width="0.9"/>
<path d="M1108.99,947.41L1113.59,952.01L1108.99,956.61L1104.39,952.01Z" fill="none" stroke="#000" stroke-width="0.9"/>
<path d="M1110.67,956.46L1115.27,961.06L1110.67,965.66L1106.07,961.06Z" fill="none" stroke="#000" stroke-width="0.9"/>
<path d="M1120.39,956.46L1124.99,961.06L1120.39,965.66L1115.79,961.06Z" fill="none" stroke="#000" stroke-width="0.9"/>
<path d="M1126.76,954.45L1131.36,959.05L1126.76,963.65L1122.16,959.05Z" fill="none" stroke="#000" stroke-width="0.9"/>
<path d="M1127.1,945.23L1131.7,949.83L1127.1,954.43L1122.5,949.83Z" fill="none" stroke="#000" stroke-width="0.9"/>
<path d="M1127.43,939.36L1132.03,943.96L1127.43,948.56L1122.83,943.96Z" fill="none" stroke="#000" stroke-width="0.9"/>
<path d="M1130.12,936L1134.72,940.6L1130.12,945.2L1125.52,940.6Z" fill="none" stroke="#000" stroke-width="0.9"/>
<path d="M1141.35,951.93L1145.95,956.53L1141.35,961.13L1136.75,956.53Z" fill="none" stroke="#000" stroke-width="0.9"/>
<path d="M1141.35,957.8L1145.95,962.4L1141.35,967L1136.75,962.4Z" fill="none" stroke="#000" stroke-width="0.9"/>
<path d="M1208.92,957.8L1213.52,962.4L1208.92,967L1204.32,962.4Z" fill="none" stroke="#000" stroke-width="0.9"/>
<path d="M1223.51,956.96L1228.11,961.56L1223.51,966.16L1218.91,961.56Z" fill="none" stroke="#000" stroke-width="0.9"/>
<path d="M1242.46,955.79L1247.06,960.39L1242.46,964.99L1237.86,960.39Z" fill="none" stroke="#000" stroke-width="0.9"/>
<path d="M1230.22,887.88L1234.82,892.48L1230.22,897.08L1225.62,892.48Z" fill="none" stroke="#000" stroke-width="0.9"/>
<path d="M1257.88,939.69L1262.48,944.29L1257.88,948.89L1253.28,944.29Z" fill="none" stroke="#000" stroke-width="0.9"/>
<path d="M1262.91,938.02L1267.51,942.62L1262.91,947.22L1258.31,942.62Z" fill="none" stroke="#000" stroke-width="0.9"/>
<path d="M1263.75,956.96L1268.35,961.56L1263.75,966.16L1259.15,961.56Z" fill="none" stroke="#000" stroke-width="0.9"/>
<path d="M1303.99,849.65L1308.59,854.25L1303.99,858.85L1299.39,854.25Z" fill="none" stroke="#000" stroke-width="0.9"/>
<path d="M1321.6,851.83L1326.2,856.43L1321.6,861.03L1317,856.43Z" fill="none" stroke="#000" stroke-width="0.9"/>
<path d="M1306.01,878.16L1310.61,882.76L1306.01,887.36L1301.41,882.76Z" fill="none" stroke="#000" stroke-width="0.9"/>
<path d="M1215.97,960.32L1220.57,964.92L1215.97,969.52L1211.37,964.92Z" fill="none" stroke="#000" stroke-width="0.9"/>
<path d="M1245.31,960.32L1249.91,964.92L1245.31,969.52L1240.71,964.92Z" fill="none" stroke="#000" stroke-width="0.9"/>
<circle cx="1114.52" cy="974.98" r="3.4" fill="none" stroke="#000" stroke-width="0.9"/>
<circle cx="1118.72" cy="975.48" r="3.4" fill="none" stroke="#000" stroke-width="0.9"/>
<circle cx="1125.42" cy="969.11" r="3.4" fill="none" stroke="#000" stroke-width="0.9"/>
<circle cx="1132.97" cy="968.27" r="3.4" fill="none" stroke="#000" stroke-width="0.9"/>
<circle cx="1133.81" cy="972.46" r="3.4" fill="none" stroke="#000" stroke-width="0.9"/>
<circle cx="1139.67" cy="972.46" r="3.4" fill="none" stroke="#000" stroke-width="0.9"/>
<circle cx="1131.29" cy="979.17" r="3.4" fill="none" stroke="#000" stroke-width="0.9"/>
<circle cx="1129.61" cy="985.04" r="3.4" fill="none" stroke="#000" stroke-width="0.9"/>
<circle cx="1132.13" cy="984.2" r="3.4" fill="none" stroke="#000" stroke-width="0.9"/>
<circle cx="1144.7" cy="982.19" r="3.4" fill="none" stroke="#000" stroke-width="0.9"/>
<circle cx="1151.41" cy="985.04" r="3.4" fill="none" stroke="#000" stroke-width="0.9"/>
<circle cx="1155.6" cy="987.55" r="3.4" fill="none" stroke="#000" stroke-width="0.9"/>
<circle cx="1162.31" cy="987.55" r="3.4" fill="none" stroke="#000" stroke-width="0.9"/>
<circle cx="1159.8" cy="967.77" r="3.4" fill="none" stroke="#000" stroke-width="0.9"/>
<circle cx="1162.31" cy="973.8" r="3.4" fill="none" stroke="#000" stroke-width="0.9"/>
<circle cx="1136.32" cy="993.42" r="3.4" fill="none" stroke="#000" stroke-width="0.9"/>
<circle cx="1141.35" cy="998.45" r="3.4" fill="none" stroke="#000" stroke-width="0.9"/>
<circle cx="1147.22" cy="1000.97" r="3.4" fill="none" stroke="#000" stroke-width="0.9"/>
<circle cx="1150.57" cy="1003.48" r="3.4" fill="none" stroke="#000" stroke-width="0.9"/>
<circle cx="1155.6" cy="1005.16" r="3.4" fill="none" stroke="#000" stroke-width="0.9"/>
<circle cx="1163.99" cy="995.1" r="3.4" fill="none" stroke="#000" stroke-width="0.9"/>
<circle cx="1172.37" cy="1004.32" r="3.4" fill="none" stroke="#000" stroke-width="0.9"/>
<circle cx="1232.73" cy="968.77" r="3.4" fill="none" stroke="#000" stroke-width="0.9"/>
<circle cx="1236.92" cy="969.95" r="3.4" fill="none" stroke="#000" stroke-width="0.9"/>
<circle cx="1241.12" cy="974.14" r="3.4" fill="none" stroke="#000" stroke-width="0.9"/>
<circle cx="1237.76" cy="988.39" r="3.4" fill="none" stroke="#000" stroke-width="0.9"/>
<circle cx="1250.34" cy="984.2" r="3.4" fill="none" stroke="#000" stroke-width="0.9"/>
<circle cx="1252.02" cy="973.3" r="3.4" fill="none" stroke="#000" stroke-width="0.9"/>
<circle cx="1254.53" cy="974.14" r="3.4" fill="none" stroke="#000" stroke-width="0.9"/>
<circle cx="1249.5" cy="979.17" r="3.4" fill="none" stroke="#000" stroke-width="0.9"/>
<circle cx="1207.58" cy="974.14" r="3.4" fill="none" stroke="#000" stroke-width="0.9"/>
<circle cx="1209.26" cy="969.11" r="3.4" fill="none" stroke="#000" stroke-width="0.9"/>
<circle cx="1219.32" cy="971.62" r="3.4" fill="none" stroke="#000" stroke-width="0.9"/>
<circle cx="1212.61" cy="982.52" r="3.4" fill="none" stroke="#000" stroke-width="0.9"/>
<circle cx="1222.67" cy="982.52" r="3.4" fill="none" stroke="#000" stroke-width="0.9"/>
<circle cx="1215.97" cy="985.88" r="3.4" fill="none" stroke="#000" stroke-width="0.9"/>
<circle cx="1231.06" cy="987.55" r="3.4" fill="none" stroke="#000" stroke-width="0.9"/>
<circle cx="1199.2" cy="993.42" r="3.4" fill="none" stroke="#000" stroke-width="0.9"/>
<circle cx="1207.58" cy="987.55" r="3.4" fill="none" stroke="#000" stroke-width="0.9"/>
<circle cx="1220.16" cy="991.74" r="3.4" fill="none" stroke="#000" stroke-width="0.9"/>
<circle cx="1227.7" cy="996.77" r="3.4" fill="none" stroke="#000" stroke-width="0.9"/>
<circle cx="1125.42" cy="972.46" r="3.4" fill="none" stroke="#000" stroke-width="0.9"/>
<circle cx="1123.75" cy="970.78" r="3.4" fill="none" stroke="#000" stroke-width="0.9"/>
<circle cx="1130.45" cy="975.81" r="3.4" fill="none" stroke="#000" stroke-width="0.9"/>
<circle cx="1133.81" cy="975.81" r="3.4" fill="none" stroke="#000" stroke-width="0.9"/>
<circle cx="1239.44" cy="975.81" r="3.4" fill="none" stroke="#000" stroke-width="0.9"/>
<circle cx="1242.79" cy="979.17" r="3.4" fill="none" stroke="#000" stroke-width="0.9"/>
<circle cx="1236.09" cy="979.17" r="3.4" fill="none" stroke="#000" stroke-width="0.9"/>
<circle cx="1247.82" cy="974.14" r="3.4" fill="none" stroke="#000" stroke-width="0.9"/>
<circle cx="1210.94" cy="967.43" r="3.4" fill="none" stroke="#000" stroke-width="0.9"/>
<circle cx="1214.29" cy="965.75" r="3.4" fill="none" stroke="#000" stroke-width="0.9"/>
<circle cx="1217.64" cy="967.43" r="3.4" fill="none" stroke="#000" stroke-width="0.9"/>
<circle cx="1229.38" cy="999.29" r="3.4" fill="none" stroke="#000" stroke-width="0.9"/>
<circle cx="1232.73" cy="994.26" r="3.4" fill="none" stroke="#000" stroke-width="0.9"/>
<circle cx="1222.67" cy="1000.97" r="3.4" fill="none" stroke="#000" stroke-width="0.9"/>
<circle cx="1202.55" cy="999.29" r="3.4" fill="none" stroke="#000" stroke-width="0.9"/>
<circle cx="1205.91" cy="997.61" r="3.4" fill="none" stroke="#000" stroke-width="0.9"/>
<circle cx="1215.97" cy="994.26" r="3.4" fill="none" stroke="#000" stroke-width="0.9"/>
<circle cx="1212.61" cy="997.61" r="3.4" fill="none" stroke="#000" stroke-width="0.9"/>
<circle cx="1166.54" cy="1007.44" r="3.4" fill="none" stroke="#000" stroke-width="0.9"/>
<circle cx="1174.41" cy="1012.3" r="3.4" fill="none" stroke="#000" stroke-width="0.9"/>
<circle cx="1138.33" cy="990.36" r="3.4" fill="none" stroke="#000" stroke-width="0.9"/>
<circle cx="1183.51" cy="1015.67" r="3.4" fill="none" stroke="#000" stroke-width="0.9"/>
<circle cx="1212.35" cy="1001.65" r="3.4" fill="none" stroke="#000" stroke-width="0.9"/>
<circle cx="1172.08" cy="1010.78" r="3.4" fill="none" stroke="#000" stroke-width="0.9"/>
<circle cx="1203.27" cy="1005.68" r="3.4" fill="none" stroke="#000" stroke-width="0.9"/>
<circle cx="1182.31" cy="1014.61" r="3.4" fill="none" stroke="#000" stroke-width="0.9"/>
<circle cx="1138.88" cy="996.27" r="3.4" fill="none" stroke="#000" stroke-width="0.9"/>
<circle cx="1177.54" cy="1009.37" r="3.4" fill="none" stroke="#000" stroke-width="0.9"/>
<circle cx="1184.92" cy="1011.82" r="3.4" fill="none" stroke="#000" stroke-width="0.9"/>
<circle cx="1220.71" cy="992.9" r="3.4" fill="none" stroke="#000" stroke-width="0.9"/>
<circle cx="1230.29" cy="991.04" r="3.4" fill="none" stroke="#000" stroke-width="0.9"/>
<circle cx="1182.69" cy="1015.23" r="3.4" fill="none" stroke="#000" stroke-width="0.9"/>
<circle cx="1194.99" cy="1011.09" r="3.4" fill="none" stroke="#000" stroke-width="0.9"/>
<circle cx="1182.3" cy="1013.52" r="3.4" fill="none" stroke="#000" stroke-width="0.9"/>
<circle cx="1183.63" cy="1014.02" r="3.4" fill="none" stroke="#000" stroke-width="0.9"/>
<circle cx="1147.88" cy="1001.71" r="3.4" fill="none" stroke="#000" stroke-width="0.9"/>
<circle cx="1186.9" cy="1013.39" r="3.4" fill="none" stroke="#000" stroke-width="0.9"/>
<circle cx="1192.19" cy="1010.55" r="3.4" fill="none" stroke="#000" stroke-width="0.9"/>
<circle cx="1180.57" cy="1014.27" r="3.4" fill="none" stroke="#000" stroke-width="0.9"/>
<circle cx="1179.04" cy="1010.58" r="3.4" fill="none" stroke="#000" stroke-width="0.9"/>
<circle cx="1238.88" cy="990.72" r="3.4" fill="none" stroke="#000" stroke-width="0.9"/>
<circle cx="1181.86" cy="1015.54" r="3.4" fill="none" stroke="#000" stroke-width="0.9"/>
<circle cx="1181.85" cy="1015.75" r="3.4" fill="none" stroke="#000" stroke-width="0.9"/>
<circle cx="1227.72" cy="994.31" r="3.4" fill="none" stroke="#000" stroke-width="0.9"/>
<circle cx="1193.07" cy="1009.31" r="3.4" fill="none" stroke="#000" stroke-width="0.9"/>
<circle cx="1174.66" cy="1011.55" r="3.4" fill="none" stroke="#000" stroke-width="0.9"/>
<circle cx="1177.12" cy="1012.89" r="3.4" fill="none" stroke="#000" stroke-width="0.9"/>
<circle cx="1206.07" cy="1006.41" r="3.4" fill="none" stroke="#000" stroke-width="0.9"/>
<circle cx="1185.59" cy="1014.68" r="3.4" fill="none" stroke="#000" stroke-width="0.9"/>
<circle cx="1169.25" cy="1008.83" r="3.4" fill="none" stroke="#000" stroke-width="0.9"/>
<circle cx="1224.06" cy="998.94" r="3.4" fill="none" stroke="#000" stroke-width="0.9"/>
<circle cx="1150.46" cy="1002.8" r="3.4" fill="none" stroke="#000" stroke-width="0.9"/>
<circle cx="1196.2" cy="1010.63" r="3.4" fill="none" stroke="#000" stroke-width="0.9"/>
<circle cx="1129.28" cy="994.96" r="3.4" fill="none" stroke="#000" stroke-width="0.9"/>
<circle cx="1224.69" cy="995.81" r="3.4" fill="none" stroke="#000" stroke-width="0.9"/>
<circle cx="1180.73" cy="1015.16" r="3.4" fill="none" stroke="#000" stroke-width="0.9"/>
<circle cx="1209.94" cy="999.67" r="3.4" fill="none" stroke="#000" stroke-width="0.9"/>
<circle cx="1216.6" cy="1000.17" r="3.4" fill="none" stroke="#000" stroke-width="0.9"/>
<circle cx="1162.65" cy="1002.87" r="3.4" fill="none" stroke="#000" stroke-width="0.9"/>
<circle cx="1130.03" cy="992.93" r="3.4" fill="none" stroke="#000" stroke-width="0.9"/>
<circle cx="1188.4" cy="1012.62" r="3.4" fill="none" stroke="#000" stroke-width="0.9"/>
<circle cx="1211.21" cy="1002.63" r="3.4" fill="none" stroke="#000" stroke-width="0.9"/>
<circle cx="1182.1" cy="1013.65" r="3.4" fill="none" stroke="#000" stroke-width="0.9"/>
<circle cx="1178.93" cy="1014.28" r="3.4" fill="none" stroke="#000" stroke-width="0.9"/>
<circle cx="1182.51" cy="1015.49" r="3.4" fill="none" stroke="#000" stroke-width="0.9"/>
<circle cx="1207.14" cy="1002.63" r="3.4" fill="none" stroke="#000" stroke-width="0.9"/>
<circle cx="1196.31" cy="1010.43" r="3.4" fill="none" stroke="#000" stroke-width="0.9"/>
<circle cx="1211.69" cy="1001.65" r="3.4" fill="none" stroke="#000" stroke-width="0.9"/>
<circle cx="1182.46" cy="1013.49" r="3.4" fill="none" stroke="#000" stroke-width="0.9"/>
<circle cx="1177.84" cy="1014.22" r="3.4" fill="none" stroke="#000" stroke-width="0.9"/>
<circle cx="1231.46" cy="996.51" r="3.4" fill="none" stroke="#000" stroke-width="0.9"/>
<circle cx="1170.64" cy="1010.73" r="3.4" fill="none" stroke="#000" stroke-width="0.9"/>
<circle cx="1185.12" cy="1014.15" r="3.4" fill="none" stroke="#000" stroke-width="0.9"/>
<circle cx="1185.3" cy="1011.96" r="3.4" fill="none" stroke="#000" stroke-width="0.9"/>
<circle cx="1188.7" cy="1012.97" r="3.4" fill="none" stroke="#000" stroke-width="0.9"/>
<circle cx="1145.95" cy="998.75" r="3.4" fill="none" stroke="#000" stroke-width="0.9"/>
<circle cx="1126.5" cy="990.18" r="3.4" fill="none" stroke="#000" stroke-width="0.9"/>
<circle cx="1170.83" cy="1011.43" r="3.4" fill="none" stroke="#000" stroke-width="0.9"/>
<circle cx="1233.86" cy="992.44" r="3.4" fill="none" stroke="#000" stroke-width="0.9"/>
<circle cx="1124" cy="988.16" r="3.4" fill="none" stroke="#000" stroke-width="0.9"/>
<circle cx="1182.28" cy="1014.39" r="3.4" fill="none" stroke="#000" stroke-width="0.9"/>
<circle cx="1227.37" cy="996.49" r="3.4" fill="none" stroke="#000" stroke-width="0.9"/>
<circle cx="1238.99" cy="988.97" r="3.4" fill="none" stroke="#000" stroke-width="0.9"/>
<circle cx="1128.28" cy="992.51" r="3.4" fill="none" stroke="#000" stroke-width="0.9"/>
<circle cx="1182.58" cy="1015.2" r="3.4" fill="none" stroke="#000" stroke-width="0.9"/>
<circle cx="1174.95" cy="1011.2" r="3.4" fill="none" stroke="#000" stroke-width="0.9"/>
<circle cx="1182.5" cy="1015.8" r="3.4" fill="none" stroke="#000" stroke-width="0.9"/>
<circle cx="1183.57" cy="1014.03" r="3.4" fill="none" stroke="#000" stroke-width="0.9"/>
<circle cx="1185.36" cy="1012.74" r="3.4" fill="none" stroke="#000" stroke-width="0.9"/>
<circle cx="1194.04" cy="1007.79" r="3.4" fill="none" stroke="#000" stroke-width="0.9"/>
<circle cx="1167.65" cy="1005.82" r="3.4" fill="none" stroke="#000" stroke-width="0.9"/>
<circle cx="1173.47" cy="1008.69" r="3.4" fill="none" stroke="#000" stroke-width="0.9"/>
<circle cx="1182.57" cy="1013.39" r="3.4" fill="none" stroke="#000" stroke-width="0.9"/>
<circle cx="1182.63" cy="1014.36" r="3.4" fill="none" stroke="#000" stroke-width="0.9"/>
<circle cx="1182.18" cy="1014.79" r="3.4" fill="none" stroke="#000" stroke-width="0.9"/>
<circle cx="1228.82" cy="995.86" r="3.4" fill="none" stroke="#000" stroke-width="0.9"/>
<circle cx="1177.31" cy="1011.23" r="3.4" fill="none" stroke="#000" stroke-width="0.9"/>
<circle cx="1149.85" cy="1001.67" r="3.4" fill="none" stroke="#000" stroke-width="0.9"/>
<circle cx="1177.19" cy="1010.45" r="3.4" fill="none" stroke="#000" stroke-width="0.9"/>
<circle cx="1206.38" cy="1006.51" r="3.4" fill="none" stroke="#000" stroke-width="0.9"/>
<circle cx="1182.55" cy="1015.88" r="3.4" fill="none" stroke="#000" stroke-width="0.9"/>
<circle cx="1234.39" cy="989.32" r="3.4" fill="none" stroke="#000" stroke-width="0.9"/>
<circle cx="1178.05" cy="1012.17" r="3.4" fill="none" stroke="#000" stroke-width="0.9"/>
<circle cx="1184.75" cy="1014.27" r="3.4" fill="none" stroke="#000" stroke-width="0.9"/>
<circle cx="1214.41" cy="1000.38" r="3.4" fill="none" stroke="#000" stroke-width="0.9"/>
<circle cx="1189.32" cy="1009.97" r="3.4" fill="none" stroke="#000" stroke-width="0.9"/>
<circle cx="1173.59" cy="1012.38" r="3.4" fill="none" stroke="#000" stroke-width="0.9"/>
<circle cx="1146.64" cy="1000.17" r="3.4" fill="none" stroke="#000" stroke-width="0.9"/>
<circle cx="1182.16" cy="1013.8" r="3.4" fill="none" stroke="#000" stroke-width="0.9"/>
<circle cx="1123.3" cy="991.03" r="3.4" fill="none" stroke="#000" stroke-width="0.9"/>
<circle cx="1237.95" cy="993.91" r="3.4" fill="none" stroke="#000" stroke-width="0.9"/>
<circle cx="1166.12" cy="1008.39" r="3.4" fill="none" stroke="#000" stroke-width="0.9"/>
<circle cx="1194.79" cy="1010.96" r="3.4" fill="none" stroke="#000" stroke-width="0.9"/>
<circle cx="1209.33" cy="1001.67" r="3.4" fill="none" stroke="#000" stroke-width="0.9"/>
<circle cx="1223.9" cy="998.47" r="3.4" fill="none" stroke="#000" stroke-width="0.9"/>
<circle cx="1188.04" cy="1012.98" r="3.4" fill="none" stroke="#000" stroke-width="0.9"/>
<circle cx="1191.21" cy="1012.53" r="3.4" fill="none" stroke="#000" stroke-width="0.9"/>
<circle cx="1178.24" cy="1013.06" r="3.4" fill="none" stroke="#000" stroke-width="0.9"/>
<circle cx="1133.83" cy="992.69" r="3.4" fill="none" stroke="#000" stroke-width="0.9"/>
<circle cx="1121.89" cy="989.51" r="3.4" fill="none" stroke="#000" stroke-width="0.9"/>
<circle cx="1186.02" cy="1013.67" r="3.4" fill="none" stroke="#000" stroke-width="0.9"/>
<circle cx="1183.25" cy="1013.39" r="3.4" fill="none" stroke="#000" stroke-width="0.9"/>
<circle cx="1140.41" cy="993.7" r="3.4" fill="none" stroke="#000" stroke-width="0.9"/>
<circle cx="1176.51" cy="1009.69" r="3.4" fill="none" stroke="#000" stroke-width="0.9"/>
<circle cx="1179.89" cy="1012.57" r="3.4" fill="none" stroke="#000" stroke-width="0.9"/>
<circle cx="1191.18" cy="1012.13" r="3.4" fill="none" stroke="#000" stroke-width="0.9"/>
<circle cx="1194.9" cy="1010.9" r="3.4" fill="none" stroke="#000" stroke-width="0.9"/>
<circle cx="1183.3" cy="1012.7" r="3.4" fill="none" stroke="#000" stroke-width="0.9"/>
<circle cx="1205.38" cy="1006.38" r="3.4" fill="none" stroke="#000" stroke-width="0.9"/>
<circle cx="1179.5" cy="1013.09" r="3.4" fill="none" stroke="#000" stroke-width="0.9"/>
<circle cx="1159.25" cy="1005.55" r="3.4" fill="none" stroke="#000" stroke-width="0.9"/>
<circle cx="1175.14" cy="1011.94" r="3.4" fill="none" stroke="#000" stroke-width="0.9"/>
<circle cx="1184.8" cy="1014.7" r="3.4" fill="none" stroke="#000" stroke-width="0.9"/>
<circle cx="1200.6" cy="1007.03" r="3.4" fill="none" stroke="#000" stroke-width="0.9"/>
<circle cx="1181.71" cy="1014" r="3.4" fill="none" stroke="#000" stroke-width="0.9"/>
<circle cx="1183.1" cy="1014.5" r="3.4" fill="none" stroke="#000" stroke-width="0.9"/>
<circle cx="1151.66" cy="1001.15" r="3.4" fill="none" stroke="#000" stroke-width="0.9"/>
<circle cx="1126.36" cy="991.31" r="3.4" fill="none" stroke="#000" stroke-width="0.9"/>
<circle cx="1161.61" cy="1005.72" r="3.4" fill="none" stroke="#000" stroke-width="0.9"/>
<circle cx="1238.9" cy="989.03" r="3.4" fill="none" stroke="#000" stroke-width="0.9"/>
<circle cx="1179.69" cy="1014.81" r="3.4" fill="none" stroke="#000" stroke-width="0.9"/>
<circle cx="1131.99" cy="992.48" r="3.4" fill="none" stroke="#000" stroke-width="0.9"/>
<circle cx="1140.29" cy="991.11" r="3.4" fill="none" stroke="#000" stroke-width="0.9"/>
<circle cx="1180.55" cy="1013.18" r="3.4" fill="none" stroke="#000" stroke-width="0.9"/>
<circle cx="1162.65" cy="1003.82" r="3.4" fill="none" stroke="#000" stroke-width="0.9"/>
<circle cx="1157.54" cy="1000.2" r="3.4" fill="none" stroke="#000" stroke-width="0.9"/>
<circle cx="1165.74" cy="1008" r="3.4" fill="none" stroke="#000" stroke-width="0.9"/>
<circle cx="1231.5" cy="993.26" r="3.4" fill="none" stroke="#000" stroke-width="0.9"/>
<path d="M785.16,1153.77L789.76,1158.37L785.16,1162.97L780.56,1158.37Z" fill="none" stroke="#000" stroke-width="0.9"/>
<circle cx="822.06" cy="1237.25" r="3.4" fill="none" stroke="#000" stroke-width="0.9"/>
<circle cx="830.1" cy="1245.63" r="3.4" fill="none" stroke="#000" stroke-width="0.9"/>
<circle cx="836.01" cy="1247.11" r="3.4" fill="none" stroke="#000" stroke-width="0.9"/>
<circle cx="843.11" cy="1246.13" r="3.4" fill="none" stroke="#000" stroke-width="0.9"/>
<circle cx="847.84" cy="1248.1" r="3.4" fill="none" stroke="#000" stroke-width="0.9"/>
<circle cx="852.57" cy="1246.62" r="3.4" fill="none" stroke="#000" stroke-width="0.9"/>
<circle cx="911.98" cy="1247.45" r="3.4" fill="none" stroke="#000" stroke-width="0.9"/>
<circle cx="875.13" cy="1246.28" r="3.4" fill="none" stroke="#000" stroke-width="0.9"/>
<circle cx="933.72" cy="1247.86" r="3.4" fill="none" stroke="#000" stroke-width="0.9"/>
<circle cx="894.81" cy="1248.07" r="3.4" fill="none" stroke="#000" stroke-width="0.9"/>
<circle cx="910.2" cy="1247.9" r="3.4" fill="none" stroke="#000" stroke-width="0.9"/>
<circle cx="883.83" cy="1247.71" r="3.4" fill="none" stroke="#000" stroke-width="0.9"/>
<circle cx="945.14" cy="1247.88" r="3.4" fill="none" stroke="#000" stroke-width="0.9"/>
<circle cx="903.18" cy="1247.69" r="3.4" fill="none" stroke="#000" stroke-width="0.9"/>
<circle cx="901.59" cy="1247.7" r="3.4" fill="none" stroke="#000" stroke-width="0.9"/>
<circle cx="928.54" cy="1247.71" r="3.4" fill="none" stroke="#000" stroke-width="0.9"/>
<circle cx="918.83" cy="1248.09" r="3.4" fill="none" stroke="#000" stroke-width="0.9"/>
<circle cx="876.92" cy="1247.89" r="3.4" fill="none" stroke="#000" stroke-width="0.9"/>
<circle cx="917.66" cy="1247.66" r="3.4" fill="none" stroke="#000" stroke-width="0.9"/>
<circle cx="920.74" cy="1247.65" r="3.4" fill="none" stroke="#000" stroke-width="0.9"/>
<circle cx="927.89" cy="1247.35" r="3.4" fill="none" stroke="#000" stroke-width="0.9"/>
<circle cx="924.16" cy="1247.84" r="3.4" fill="none" stroke="#000" stroke-width="0.9"/>
<circle cx="886.67" cy="1247.99" r="3.4" fill="none" stroke="#000" stroke-width="0.9"/>
<circle cx="880.84" cy="1246.82" r="3.4" fill="none" stroke="#000" stroke-width="0.9"/>
<circle cx="872.96" cy="1247.56" r="3.4" fill="none" stroke="#000" stroke-width="0.9"/>
<circle cx="907.3" cy="1247.53" r="3.4" fill="none" stroke="#000" stroke-width="0.9"/>
<circle cx="865.24" cy="1247.9" r="3.4" fill="none" stroke="#000" stroke-width="0.9"/>
<circle cx="920.62" cy="1247.87" r="3.4" fill="none" stroke="#000" stroke-width="0.9"/>
<circle cx="866.87" cy="1247.38" r="3.4" fill="none" stroke="#000" stroke-width="0.9"/>
<circle cx="878.14" cy="1248.08" r="3.4" fill="none" stroke="#000" stroke-width="0.9"/>
<circle cx="935.08" cy="1247.95" r="3.4" fill="none" stroke="#000" stroke-width="0.9"/>
<circle cx="957.36" cy="1246.75" r="3.4" fill="none" stroke="#000" stroke-width="0.9"/>
<circle cx="955.11" cy="1247.72" r="3.4" fill="none" stroke="#000" stroke-width="0.9"/>
<circle cx="930.74" cy="1247.88" r="3.4" fill="none" stroke="#000" stroke-width="0.9"/>
<circle cx="898.36" cy="1248.08" r="3.4" fill="none" stroke="#000" stroke-width="0.9"/>
<circle cx="887.33" cy="1247.67" r="3.4" fill="none" stroke="#000" stroke-width="0.9"/>
<circle cx="878.63" cy="1246.44" r="3.4" fill="none" stroke="#000" stroke-width="0.9"/>
<circle cx="889.5" cy="1248.08" r="3.4" fill="none" stroke="#000" stroke-width="0.9"/>
<circle cx="895.19" cy="1247.64" r="3.4" fill="none" stroke="#000" stroke-width="0.9"/>
<circle cx="953.29" cy="1247.99" r="3.4" fill="none" stroke="#000" stroke-width="0.9"/>
<circle cx="928.41" cy="1247.47" r="3.4" fill="none" stroke="#000" stroke-width="0.9"/>
<circle cx="915.82" cy="1246.97" r="3.4" fill="none" stroke="#000" stroke-width="0.9"/>
<circle cx="892.94" cy="1247.44" r="3.4" fill="none" stroke="#000" stroke-width="0.9"/>
<circle cx="948.42" cy="1247.43" r="3.4" fill="none" stroke="#000" stroke-width="0.9"/>
<circle cx="958.36" cy="1247.59" r="3.4" fill="none" stroke="#000" stroke-width="0.9"/>
<circle cx="886.65" cy="1247.56" r="3.4" fill="none" stroke="#000" stroke-width="0.9"/>
<circle cx="907.35" cy="1247.3" r="3.4" fill="none" stroke="#000" stroke-width="0.9"/>
<circle cx="880.54" cy="1247.13" r="3.4" fill="none" stroke="#000" stroke-width="0.9"/>
<circle cx="872.32" cy="1247.86" r="3.4" fill="none" stroke="#000" stroke-width="0.9"/>
<circle cx="934.28" cy="1247.59" r="3.4" fill="none" stroke="#000" stroke-width="0.9"/>
<circle cx="928.34" cy="1248.08" r="3.4" fill="none" stroke="#000" stroke-width="0.9"/>
<circle cx="877.6" cy="1248.06" r="3.4" fill="none" stroke="#000" stroke-width="0.9"/>
<circle cx="897.74" cy="1246.53" r="3.4" fill="none" stroke="#000" stroke-width="0.9"/>
<circle cx="885.84" cy="1247.97" r="3.4" fill="none" stroke="#000" stroke-width="0.9"/>
<circle cx="870.6" cy="1247.41" r="3.4" fill="none" stroke="#000" stroke-width="0.9"/>
<circle cx="898.98" cy="1248.09" r="3.4" fill="none" stroke="#000" stroke-width="0.9"/>
<circle cx="920.84" cy="1247.68" r="3.4" fill="none" stroke="#000" stroke-width="0.9"/>
<circle cx="900.57" cy="1247.83" r="3.4" fill="none" stroke="#000" stroke-width="0.9"/>
<circle cx="953.3" cy="1248.08" r="3.4" fill="none" stroke="#000" stroke-width="0.9"/>
<circle cx="925.97" cy="1247.68" r="3.4" fill="none" stroke="#000" stroke-width="0.9"/>
<circle cx="920.91" cy="1247.63" r="3.4" fill="none" stroke="#000" stroke-width="0.9"/>
<circle cx="926.59" cy="1247.77" r="3.4" fill="none" stroke="#000" stroke-width="0.9"/>
<circle cx="898.31" cy="1247.61" r="3.4" fill="none" stroke="#000" stroke-width="0.9"/>
<circle cx="917.69" cy="1247.47" r="3.4" fill="none" stroke="#000" stroke-width="0.9"/>
<circle cx="950.32" cy="1247.22" r="3.4" fill="none" stroke="#000" stroke-width="0.9"/>
<circle cx="886.92" cy="1247.85" r="3.4" fill="none" stroke="#000" stroke-width="0.9"/>
<circle cx="938.98" cy="1247.17" r="3.4" fill="none" stroke="#000" stroke-width="0.9"/>
<circle cx="878.54" cy="1248.03" r="3.4" fill="none" stroke="#000" stroke-width="0.9"/>
<circle cx="923.14" cy="1247.04" r="3.4" fill="none" stroke="#000" stroke-width="0.9"/>
<circle cx="880.68" cy="1248.05" r="3.4" fill="none" stroke="#000" stroke-width="0.9"/>
<circle cx="893.3" cy="1246.62" r="3.4" fill="none" stroke="#000" stroke-width="0.9"/>
<circle cx="916.49" cy="1247.63" r="3.4" fill="none" stroke="#000" stroke-width="0.9"/>
<circle cx="944.97" cy="1248.07" r="3.4" fill="none" stroke="#000" stroke-width="0.9"/>
<circle cx="899.08" cy="1247.27" r="3.4" fill="none" stroke="#000" stroke-width="0.9"/>
<circle cx="872.76" cy="1248.08" r="3.4" fill="none" stroke="#000" stroke-width="0.9"/>
<circle cx="936.3" cy="1247.89" r="3.4" fill="none" stroke="#000" stroke-width="0.9"/>
<circle cx="925.1" cy="1247.96" r="3.4" fill="none" stroke="#000" stroke-width="0.9"/>
<circle cx="906.72" cy="1247.54" r="3.4" fill="none" stroke="#000" stroke-width="0.9"/>
<circle cx="903.77" cy="1248" r="3.4" fill="none" stroke="#000" stroke-width="0.9"/>
<circle cx="883.49" cy="1247.04" r="3.4" fill="none" stroke="#000" stroke-width="0.9"/>
<circle cx="870.13" cy="1248.06" r="3.4" fill="none" stroke="#000" stroke-width="0.9"/>
<circle cx="931.68" cy="1247.56" r="3.4" fill="none" stroke="#000" stroke-width="0.9"/>
<circle cx="890.77" cy="1247.62" r="3.4" fill="none" stroke="#000" stroke-width="0.9"/>
<circle cx="950.69" cy="1247.65" r="3.4" fill="none" stroke="#000" stroke-width="0.9"/>
<circle cx="915" cy="1247.06" r="3.4" fill="none" stroke="#000" stroke-width="0.9"/>
<circle cx="944.54" cy="1246.33" r="3.4" fill="none" stroke="#000" stroke-width="0.9"/>
<circle cx="925.91" cy="1247" r="3.4" fill="none" stroke="#000" stroke-width="0.9"/>
<circle cx="894.05" cy="1247.64" r="3.4" fill="none" stroke="#000" stroke-width="0.9"/>
<circle cx="924.51" cy="1246.66" r="3.4" fill="none" stroke="#000" stroke-width="0.9"/>
<circle cx="863.5" cy="1247.34" r="3.4" fill="none" stroke="#000" stroke-width="0.9"/>
<circle cx="952.62" cy="1247.87" r="3.4" fill="none" stroke="#000" stroke-width="0.9"/>
<circle cx="865.34" cy="1247.76" r="3.4" fill="none" stroke="#000" stroke-width="0.9"/>
<circle cx="911.1" cy="1247.71" r="3.4" fill="none" stroke="#000" stroke-width="0.9"/>
<circle cx="921.48" cy="1246.96" r="3.4" fill="none" stroke="#000" stroke-width="0.9"/>
<circle cx="942.52" cy="1247.44" r="3.4" fill="none" stroke="#000" stroke-width="0.9"/>
<circle cx="947.09" cy="1246.69" r="3.4" fill="none" stroke="#000" stroke-width="0.9"/>
<circle cx="931.65" cy="1247.71" r="3.4" fill="none" stroke="#000" stroke-width="0.9"/>
<circle cx="864.45" cy="1247.79" r="3.4" fill="none" stroke="#000" stroke-width="0.9"/>
<circle cx="922.89" cy="1247.18" r="3.4" fill="none" stroke="#000" stroke-width="0.9"/>
<circle cx="888.15" cy="1247.07" r="3.4" fill="none" stroke="#000" stroke-width="0.9"/>
<circle cx="871.92" cy="1248.08" r="3.4" fill="none" stroke="#000" stroke-width="0.9"/>
<circle cx="905.53" cy="1247.6" r="3.4" fill="none" stroke="#000" stroke-width="0.9"/>
<circle cx="888.87" cy="1247.86" r="3.4" fill="none" stroke="#000" stroke-width="0.9"/>
<circle cx="895.36" cy="1246.95" r="3.4" fill="none" stroke="#000" stroke-width="0.9"/>
<circle cx="902.48" cy="1247.49" r="3.4" fill="none" stroke="#000" stroke-width="0.9"/>
<circle cx="904.47" cy="1247.27" r="3.4" fill="none" stroke="#000" stroke-width="0.9"/>
<circle cx="938.45" cy="1247.44" r="3.4" fill="none" stroke="#000" stroke-width="0.9"/>
<circle cx="884.73" cy="1247.15" r="3.4" fill="none" stroke="#000" stroke-width="0.9"/>
<circle cx="875.14" cy="1247.91" r="3.4" fill="none" stroke="#000" stroke-width="0.9"/>
<circle cx="883.21" cy="1247.69" r="3.4" fill="none" stroke="#000" stroke-width="0.9"/>
<circle cx="933.87" cy="1247.24" r="3.4" fill="none" stroke="#000" stroke-width="0.9"/>
<circle cx="940.62" cy="1248.08" r="3.4" fill="none" stroke="#000" stroke-width="0.9"/>
<circle cx="912.37" cy="1247.3" r="3.4" fill="none" stroke="#000" stroke-width="0.9"/>
<circle cx="953.96" cy="1246.96" r="3.4" fill="none" stroke="#000" stroke-width="0.9"/>
<circle cx="884.53" cy="1247.83" r="3.4" fill="none" stroke="#000" stroke-width="0.9"/>
<circle cx="925.81" cy="1247.27" r="3.4" fill="none" stroke="#000" stroke-width="0.9"/>
<circle cx="939.81" cy="1247.68" r="3.4" fill="none" stroke="#000" stroke-width="0.9"/>
<circle cx="892.67" cy="1246.87" r="3.4" fill="none" stroke="#000" stroke-width="0.9"/>
<circle cx="902.68" cy="1247.86" r="3.4" fill="none" stroke="#000" stroke-width="0.9"/>
<circle cx="870.79" cy="1247.9" r="3.4" fill="none" stroke="#000" stroke-width="0.9"/>
<circle cx="889.54" cy="1247.39" r="3.4" fill="none" stroke="#000" stroke-width="0.9"/>
<circle cx="948.56" cy="1247.59" r="3.4" fill="none" stroke="#000" stroke-width="0.9"/>
<circle cx="909.13" cy="1246.88" r="3.4" fill="none" stroke="#000" stroke-width="0.9"/>
<circle cx="911.92" cy="1247.86" r="3.4" fill="none" stroke="#000" stroke-width="0.9"/>
<circle cx="895.95" cy="1247.3" r="3.4" fill="none" stroke="#000" stroke-width="0.9"/>
<circle cx="918.25" cy="1246.92" r="3.4" fill="none" stroke="#000" stroke-width="0.9"/>
<circle cx="906.99" cy="1247.96" r="3.4" fill="none" stroke="#000" stroke-width="0.9"/>
<circle cx="909.24" cy="1247.14" r="3.4" fill="none" stroke="#000" stroke-width="0.9"/>
<circle cx="884.88" cy="1247.88" r="3.4" fill="none" stroke="#000" stroke-width="0.9"/>
<circle cx="924.99" cy="1247.52" r="3.4" fill="none" stroke="#000" stroke-width="0.9"/>
<circle cx="878.32" cy="1248.09" r="3.4" fill="none" stroke="#000" stroke-width="0.9"/>
<circle cx="878.85" cy="1247.44" r="3.4" fill="none" stroke="#000" stroke-width="0.9"/>
<circle cx="881.87" cy="1246.92" r="3.4" fill="none" stroke="#000" stroke-width="0.9"/>
<circle cx="955.62" cy="1247.91" r="3.4" fill="none" stroke="#000" stroke-width="0.9"/>
<circle cx="901.66" cy="1246.79" r="3.4" fill="none" stroke="#000" stroke-width="0.9"/>
<circle cx="897.92" cy="1247.97" r="3.4" fill="none" stroke="#000" stroke-width="0.9"/>
<circle cx="925.94" cy="1247.71" r="3.4" fill="none" stroke="#000" stroke-width="0.9"/>
<circle cx="864.39" cy="1247.79" r="3.4" fill="none" stroke="#000" stroke-width="0.9"/>
<circle cx="940.09" cy="1247.8" r="3.4" fill="none" stroke="#000" stroke-width="0.9"/>
<circle cx="899.8" cy="1247.28" r="3.4" fill="none" stroke="#000" stroke-width="0.9"/>
<circle cx="922.73" cy="1247.1" r="3.4" fill="none" stroke="#000" stroke-width="0.9"/>
<circle cx="897.6" cy="1247.42" r="3.4" fill="none" stroke="#000" stroke-width="0.9"/>
<circle cx="936.25" cy="1247.63" r="3.4" fill="none" stroke="#000" stroke-width="0.9"/>
<circle cx="927.4" cy="1247.85" r="3.4" fill="none" stroke="#000" stroke-width="0.9"/>
<circle cx="915.48" cy="1247.43" r="3.4" fill="none" stroke="#000" stroke-width="0.9"/>
<circle cx="899.18" cy="1247.21" r="3.4" fill="none" stroke="#000" stroke-width="0.9"/>
<circle cx="925.04" cy="1247.47" r="3.4" fill="none" stroke="#000" stroke-width="0.9"/>
<circle cx="916.34" cy="1247.66" r="3.4" fill="none" stroke="#000" stroke-width="0.9"/>
<circle cx="885.68" cy="1247.38" r="3.4" fill="none" stroke="#000" stroke-width="0.9"/>
<circle cx="896.23" cy="1247.72" r="3.4" fill="none" stroke="#000" stroke-width="0.9"/>
<circle cx="930.72" cy="1247.66" r="3.4" fill="none" stroke="#000" stroke-width="0.9"/>
<circle cx="894.86" cy="1247.12" r="3.4" fill="none" stroke="#000" stroke-width="0.9"/>
<circle cx="956.72" cy="1247.2" r="3.4" fill="none" stroke="#000" stroke-width="0.9"/>
<circle cx="939.25" cy="1247.88" r="3.4" fill="none" stroke="#000" stroke-width="0.9"/>
<circle cx="903.5" cy="1247.32" r="3.4" fill="none" stroke="#000" stroke-width="0.9"/>
<circle cx="933.32" cy="1247.53" r="3.4" fill="none" stroke="#000" stroke-width="0.9"/>
<circle cx="926.06" cy="1247.67" r="3.4" fill="none" stroke="#000" stroke-width="0.9"/>
<circle cx="954.33" cy="1247.31" r="3.4" fill="none" stroke="#000" stroke-width="0.9"/>
<circle cx="930.27" cy="1247.12" r="3.4" fill="none" stroke="#000" stroke-width="0.9"/>
<circle cx="957.6" cy="1247.32" r="3.4" fill="none" stroke="#000" stroke-width="0.9"/>
<circle cx="867.15" cy="1247.99" r="3.4" fill="none" stroke="#000" stroke-width="0.9"/>
<circle cx="905.02" cy="1247.36" r="3.4" fill="none" stroke="#000" stroke-width="0.9"/>
<circle cx="931.55" cy="1247.75" r="3.4" fill="none" stroke="#000" stroke-width="0.9"/>
<circle cx="935.55" cy="1247.63" r="3.4" fill="none" stroke="#000" stroke-width="0.9"/>
<circle cx="904.02" cy="1247.84" r="3.4" fill="none" stroke="#000" stroke-width="0.9"/>
<circle cx="884.25" cy="1246.8" r="3.4" fill="none" stroke="#000" stroke-width="0.9"/>
<circle cx="944.8" cy="1246.86" r="3.4" fill="none" stroke="#000" stroke-width="0.9"/>
<circle cx="949.53" cy="1245.58" r="3.4" fill="none" stroke="#000" stroke-width="0.9"/>
<circle cx="954.26" cy="1245.52" r="3.4" fill="none" stroke="#000" stroke-width="0.9"/>
<circle cx="957.81" cy="1245.86" r="3.4" fill="none" stroke="#000" stroke-width="0.9"/>
<circle cx="958.99" cy="1246.19" r="3.4" fill="none" stroke="#000" stroke-width="0.9"/>
<circle cx="1102.8" cy="1235.77" r="3.4" fill="none" stroke="#000" stroke-width="0.9"/>
<circle cx="1113.91" cy="1226.41" r="3.4" fill="none" stroke="#000" stroke-width="0.9"/>
<circle cx="1115.1" cy="1227.39" r="3.4" fill="none" stroke="#000" stroke-width="0.9"/>
<circle cx="1118.64" cy="1237.25" r="3.4" fill="none" stroke="#000" stroke-width="0.9"/>
<circle cx="1128.11" cy="1237.25" r="3.4" fill="none" stroke="#000" stroke-width="0.9"/>
<circle cx="1163.58" cy="1234.79" r="3.4" fill="none" stroke="#000" stroke-width="0.9"/>
<circle cx="1210.88" cy="1236.76" r="3.4" fill="none" stroke="#000" stroke-width="0.9"/>
<circle cx="1220.34" cy="1234.79" r="3.4" fill="none" stroke="#000" stroke-width="0.9"/>
<circle cx="1233.35" cy="1236.76" r="3.4" fill="none" stroke="#000" stroke-width="0.9"/>
<circle cx="1243.99" cy="1237.25" r="3.4" fill="none" stroke="#000" stroke-width="0.9"/>
<circle cx="1258.18" cy="1237.25" r="3.4" fill="none" stroke="#000" stroke-width="0.9"/>
<circle cx="1234.53" cy="1245.63" r="3.4" fill="none" stroke="#000" stroke-width="0.9"/>
<circle cx="1135.2" cy="1242.18" r="3.4" fill="none" stroke="#000" stroke-width="0.9"/>
<circle cx="1137.57" cy="1244.16" r="3.4" fill="none" stroke="#000" stroke-width="0.9"/>
<circle cx="1132.84" cy="1243.17" r="3.4" fill="none" stroke="#000" stroke-width="0.9"/>
<circle cx="1141.11" cy="1243.17" r="3.4" fill="none" stroke="#000" stroke-width="0.9"/>
<circle cx="1225.07" cy="1243.17" r="3.4" fill="none" stroke="#000" stroke-width="0.9"/>
<circle cx="1236.89" cy="1244.16" r="3.4" fill="none" stroke="#000" stroke-width="0.9"/>
<circle cx="1235.71" cy="1242.18" r="3.4" fill="none" stroke="#000" stroke-width="0.9"/>
<circle cx="1182.31" cy="1247.71" r="3.4" fill="none" stroke="#000" stroke-width="0.9"/>
<circle cx="1163.04" cy="1244.37" r="3.4" fill="none" stroke="#000" stroke-width="0.9"/>
<circle cx="1189.39" cy="1246.91" r="3.4" fill="none" stroke="#000" stroke-width="0.9"/>
<circle cx="1173.65" cy="1245.9" r="3.4" fill="none" stroke="#000" stroke-width="0.9"/>
<circle cx="1157.62" cy="1246.06" r="3.4" fill="none" stroke="#000" stroke-width="0.9"/>
<circle cx="1207.37" cy="1246.39" r="3.4" fill="none" stroke="#000" stroke-width="0.9"/>
<circle cx="1163.19" cy="1246.43" r="3.4" fill="none" stroke="#000" stroke-width="0.9"/>
<circle cx="1165.16" cy="1246.39" r="3.4" fill="none" stroke="#000" stroke-width="0.9"/>
<circle cx="1153.86" cy="1245.74" r="3.4" fill="none" stroke="#000" stroke-width="0.9"/>
<circle cx="1130.72" cy="1244.58" r="3.4" fill="none" stroke="#000" stroke-width="0.9"/>
<circle cx="1197.04" cy="1247.05" r="3.4" fill="none" stroke="#000" stroke-width="0.9"/>
<circle cx="1158.31" cy="1245.86" r="3.4" fill="none" stroke="#000" stroke-width="0.9"/>
<circle cx="1174.7" cy="1246.35" r="3.4" fill="none" stroke="#000" stroke-width="0.9"/>
<circle cx="1191.28" cy="1246.94" r="3.4" fill="none" stroke="#000" stroke-width="0.9"/>
<circle cx="1163.9" cy="1245.19" r="3.4" fill="none" stroke="#000" stroke-width="0.9"/>
<circle cx="1135.73" cy="1244.34" r="3.4" fill="none" stroke="#000" stroke-width="0.9"/>
<circle cx="1206.83" cy="1245.15" r="3.4" fill="none" stroke="#000" stroke-width="0.9"/>
<circle cx="1143.42" cy="1244.69" r="3.4" fill="none" stroke="#000" stroke-width="0.9"/>
<circle cx="1207.15" cy="1246.44" r="3.4" fill="none" stroke="#000" stroke-width="0.9"/>
<circle cx="1131.53" cy="1244.79" r="3.4" fill="none" stroke="#000" stroke-width="0.9"/>
<circle cx="1218.26" cy="1245.45" r="3.4" fill="none" stroke="#000" stroke-width="0.9"/>
<circle cx="1139.83" cy="1244.81" r="3.4" fill="none" stroke="#000" stroke-width="0.9"/>
<circle cx="1143.63" cy="1245.49" r="3.4" fill="none" stroke="#000" stroke-width="0.9"/>
<circle cx="1162.42" cy="1245.15" r="3.4" fill="none" stroke="#000" stroke-width="0.9"/>
<circle cx="1144.55" cy="1244.29" r="3.4" fill="none" stroke="#000" stroke-width="0.9"/>
<circle cx="1145.96" cy="1244.82" r="3.4" fill="none" stroke="#000" stroke-width="0.9"/>
<circle cx="1212.66" cy="1244.88" r="3.4" fill="none" stroke="#000" stroke-width="0.9"/>
<circle cx="1192.13" cy="1246.42" r="3.4" fill="none" stroke="#000" stroke-width="0.9"/>
<circle cx="1212.92" cy="1245.75" r="3.4" fill="none" stroke="#000" stroke-width="0.9"/>
<circle cx="1148.67" cy="1244.15" r="3.4" fill="none" stroke="#000" stroke-width="0.9"/>
<circle cx="1194.37" cy="1245.77" r="3.4" fill="none" stroke="#000" stroke-width="0.9"/>
<circle cx="1170.92" cy="1247.06" r="3.4" fill="none" stroke="#000" stroke-width="0.9"/>
<circle cx="1211.88" cy="1245.54" r="3.4" fill="none" stroke="#000" stroke-width="0.9"/>
<circle cx="1152.07" cy="1245.93" r="3.4" fill="none" stroke="#000" stroke-width="0.9"/>
<circle cx="1143.32" cy="1245.31" r="3.4" fill="none" stroke="#000" stroke-width="0.9"/>
<circle cx="1173.55" cy="1247.53" r="3.4" fill="none" stroke="#000" stroke-width="0.9"/>
<circle cx="1143.79" cy="1244.52" r="3.4" fill="none" stroke="#000" stroke-width="0.9"/>
<circle cx="1180.23" cy="1247.9" r="3.4" fill="none" stroke="#000" stroke-width="0.9"/>
<circle cx="1210.06" cy="1244.49" r="3.4" fill="none" stroke="#000" stroke-width="0.9"/>
<circle cx="1173.63" cy="1247.47" r="3.4" fill="none" stroke="#000" stroke-width="0.9"/>
<circle cx="1182.36" cy="1247.13" r="3.4" fill="none" stroke="#000" stroke-width="0.9"/>
<circle cx="1165.05" cy="1245.38" r="3.4" fill="none" stroke="#000" stroke-width="0.9"/>
<circle cx="1169.1" cy="1246.88" r="3.4" fill="none" stroke="#000" stroke-width="0.9"/>
<circle cx="1189.23" cy="1247.58" r="3.4" fill="none" stroke="#000" stroke-width="0.9"/>
<circle cx="1189.14" cy="1246.35" r="3.4" fill="none" stroke="#000" stroke-width="0.9"/>
<circle cx="1193.43" cy="1247.18" r="3.4" fill="none" stroke="#000" stroke-width="0.9"/>
<circle cx="1216.39" cy="1244.63" r="3.4" fill="none" stroke="#000" stroke-width="0.9"/>
<circle cx="1177.57" cy="1245.35" r="3.4" fill="none" stroke="#000" stroke-width="0.9"/>
<circle cx="1175.17" cy="1247.43" r="3.4" fill="none" stroke="#000" stroke-width="0.9"/>
<circle cx="1196.71" cy="1247.06" r="3.4" fill="none" stroke="#000" stroke-width="0.9"/>
<circle cx="1188.14" cy="1246.71" r="3.4" fill="none" stroke="#000" stroke-width="0.9"/>
<circle cx="1164.24" cy="1245.29" r="3.4" fill="none" stroke="#000" stroke-width="0.9"/>
<circle cx="1174.24" cy="1245.91" r="3.4" fill="none" stroke="#000" stroke-width="0.9"/>
<circle cx="1149.91" cy="1245.79" r="3.4" fill="none" stroke="#000" stroke-width="0.9"/>
<circle cx="1170.61" cy="1246.25" r="3.4" fill="none" stroke="#000" stroke-width="0.9"/>
<circle cx="1206.72" cy="1246" r="3.4" fill="none" stroke="#000" stroke-width="0.9"/>
<circle cx="1157.48" cy="1246.07" r="3.4" fill="none" stroke="#000" stroke-width="0.9"/>
<circle cx="1176.93" cy="1246.87" r="3.4" fill="none" stroke="#000" stroke-width="0.9"/>
<circle cx="1155.53" cy="1243.74" r="3.4" fill="none" stroke="#000" stroke-width="0.9"/>
<circle cx="1190.84" cy="1247.47" r="3.4" fill="none" stroke="#000" stroke-width="0.9"/>
<circle cx="1203.52" cy="1246.37" r="3.4" fill="none" stroke="#000" stroke-width="0.9"/>
<circle cx="1158.07" cy="1245.82" r="3.4" fill="none" stroke="#000" stroke-width="0.9"/>
<circle cx="1184.56" cy="1246.83" r="3.4" fill="none" stroke="#000" stroke-width="0.9"/>
<circle cx="1134.16" cy="1243.78" r="3.4" fill="none" stroke="#000" stroke-width="0.9"/>
<circle cx="1197.13" cy="1246.25" r="3.4" fill="none" stroke="#000" stroke-width="0.9"/>
<circle cx="1135.05" cy="1244.32" r="3.4" fill="none" stroke="#000" stroke-width="0.9"/>
<circle cx="1158.18" cy="1245.94" r="3.4" fill="none" stroke="#000" stroke-width="0.9"/>
<circle cx="1215.46" cy="1246.01" r="3.4" fill="none" stroke="#000" stroke-width="0.9"/>
<circle cx="1186.61" cy="1246.89" r="3.4" fill="none" stroke="#000" stroke-width="0.9"/>
<circle cx="1214.39" cy="1244.65" r="3.4" fill="none" stroke="#000" stroke-width="0.9"/>
<circle cx="1186.89" cy="1246.8" r="3.4" fill="none" stroke="#000" stroke-width="0.9"/>
<circle cx="1194.7" cy="1246.41" r="3.4" fill="none" stroke="#000" stroke-width="0.9"/>
<circle cx="1185.47" cy="1247.63" r="3.4" fill="none" stroke="#000" stroke-width="0.9"/>
<circle cx="1191.99" cy="1246.89" r="3.4" fill="none" stroke="#000" stroke-width="0.9"/>
<circle cx="1172.7" cy="1247.45" r="3.4" fill="none" stroke="#000" stroke-width="0.9"/>
<circle cx="1147.19" cy="1245.44" r="3.4" fill="none" stroke="#000" stroke-width="0.9"/>
<circle cx="1133.88" cy="1244.72" r="3.4" fill="none" stroke="#000" stroke-width="0.9"/>
<circle cx="1190.95" cy="1245.41" r="3.4" fill="none" stroke="#000" stroke-width="0.9"/>
<circle cx="1164.49" cy="1246.21" r="3.4" fill="none" stroke="#000" stroke-width="0.9"/>
<circle cx="1182.32" cy="1246.53" r="3.4" fill="none" stroke="#000" stroke-width="0.9"/>
<circle cx="1154.27" cy="1246" r="3.4" fill="none" stroke="#000" stroke-width="0.9"/>
<circle cx="1159.84" cy="1245.71" r="3.4" fill="none" stroke="#000" stroke-width="0.9"/>
<circle cx="1170.19" cy="1245.89" r="3.4" fill="none" stroke="#000" stroke-width="0.9"/>
<circle cx="1135.51" cy="1243.37" r="3.4" fill="none" stroke="#000" stroke-width="0.9"/>
<circle cx="1182.81" cy="1247.6" r="3.4" fill="none" stroke="#000" stroke-width="0.9"/>
<circle cx="1205.21" cy="1246.56" r="3.4" fill="none" stroke="#000" stroke-width="0.9"/>
<circle cx="1183.53" cy="1247.1" r="3.4" fill="none" stroke="#000" stroke-width="0.9"/>
<circle cx="1131.77" cy="1244.4" r="3.4" fill="none" stroke="#000" stroke-width="0.9"/>
<circle cx="1166.18" cy="1245.13" r="3.4" fill="none" stroke="#000" stroke-width="0.9"/>
<circle cx="1220.93" cy="1244.43" r="3.4" fill="none" stroke="#000" stroke-width="0.9"/>
<circle cx="1174.32" cy="1247.2" r="3.4" fill="none" stroke="#000" stroke-width="0.9"/>
<circle cx="1189.92" cy="1247.4" r="3.4" fill="none" stroke="#000" stroke-width="0.9"/>
<circle cx="1150.05" cy="1245.97" r="3.4" fill="none" stroke="#000" stroke-width="0.9"/>
<circle cx="1130.91" cy="1244.73" r="3.4" fill="none" stroke="#000" stroke-width="0.9"/>
<circle cx="1193.54" cy="1245.56" r="3.4" fill="none" stroke="#000" stroke-width="0.9"/>
<circle cx="1138.6" cy="1243.58" r="3.4" fill="none" stroke="#000" stroke-width="0.9"/>
<circle cx="1210.67" cy="1246.21" r="3.4" fill="none" stroke="#000" stroke-width="0.9"/>
<circle cx="1196.82" cy="1247.07" r="3.4" fill="none" stroke="#000" stroke-width="0.9"/>
<circle cx="1152.82" cy="1246.18" r="3.4" fill="none" stroke="#000" stroke-width="0.9"/>
<circle cx="1135.09" cy="1244.5" r="3.4" fill="none" stroke="#000" stroke-width="0.9"/>
<circle cx="1201.86" cy="1246.45" r="3.4" fill="none" stroke="#000" stroke-width="0.9"/>
<circle cx="1197.78" cy="1245.26" r="3.4" fill="none" stroke="#000" stroke-width="0.9"/>
<circle cx="1138.24" cy="1244.26" r="3.4" fill="none" stroke="#000" stroke-width="0.9"/>
<circle cx="1172.95" cy="1246.38" r="3.4" fill="none" stroke="#000" stroke-width="0.9"/>
<circle cx="1216.46" cy="1245.91" r="3.4" fill="none" stroke="#000" stroke-width="0.9"/>
<circle cx="1196.62" cy="1244.67" r="3.4" fill="none" stroke="#000" stroke-width="0.9"/>
<circle cx="1131.52" cy="1243.49" r="3.4" fill="none" stroke="#000" stroke-width="0.9"/>
<circle cx="1205.86" cy="1246.51" r="3.4" fill="none" stroke="#000" stroke-width="0.9"/>
<circle cx="1137.82" cy="1244.71" r="3.4" fill="none" stroke="#000" stroke-width="0.9"/>
<circle cx="1145.78" cy="1244.33" r="3.4" fill="none" stroke="#000" stroke-width="0.9"/>
<circle cx="1209.88" cy="1246.04" r="3.4" fill="none" stroke="#000" stroke-width="0.9"/>
<circle cx="1164.37" cy="1246.94" r="3.4" fill="none" stroke="#000" stroke-width="0.9"/>
<circle cx="1183.5" cy="1246.66" r="3.4" fill="none" stroke="#000" stroke-width="0.9"/>
<circle cx="1143.84" cy="1245.13" r="3.4" fill="none" stroke="#000" stroke-width="0.9"/>
<circle cx="1204.01" cy="1245.83" r="3.4" fill="none" stroke="#000" stroke-width="0.9"/>
<circle cx="1188.55" cy="1246.65" r="3.4" fill="none" stroke="#000" stroke-width="0.9"/>
<circle cx="1169.02" cy="1245.95" r="3.4" fill="none" stroke="#000" stroke-width="0.9"/>
<circle cx="1217.62" cy="1244.76" r="3.4" fill="none" stroke="#000" stroke-width="0.9"/>
<circle cx="1202.84" cy="1246.08" r="3.4" fill="none" stroke="#000" stroke-width="0.9"/>
<circle cx="1136.06" cy="1244.86" r="3.4" fill="none" stroke="#000" stroke-width="0.9"/>
<circle cx="1220.3" cy="1245.2" r="3.4" fill="none" stroke="#000" stroke-width="0.9"/>
<circle cx="1161.1" cy="1244.99" r="3.4" fill="none" stroke="#000" stroke-width="0.9"/>
<circle cx="1186.35" cy="1246.02" r="3.4" fill="none" stroke="#000" stroke-width="0.9"/>
<circle cx="1185.92" cy="1247.62" r="3.4" fill="none" stroke="#000" stroke-width="0.9"/>
<circle cx="1158.93" cy="1244.77" r="3.4" fill="none" stroke="#000" stroke-width="0.9"/>
<circle cx="1165.21" cy="1246.12" r="3.4" fill="none" stroke="#000" stroke-width="0.9"/>
<circle cx="1193.63" cy="1245.72" r="3.4" fill="none" stroke="#000" stroke-width="0.9"/>
<circle cx="1204.95" cy="1245.44" r="3.4" fill="none" stroke="#000" stroke-width="0.9"/>
<circle cx="1156.6" cy="1245.71" r="3.4" fill="none" stroke="#000" stroke-width="0.9"/>
<circle cx="1169.44" cy="1247.28" r="3.4" fill="none" stroke="#000" stroke-width="0.9"/>
<circle cx="1184.58" cy="1247.14" r="3.4" fill="none" stroke="#000" stroke-width="0.9"/>
<circle cx="1134.37" cy="1243.2" r="3.4" fill="none" stroke="#000" stroke-width="0.9"/>
<circle cx="1207.32" cy="1245.8" r="3.4" fill="none" stroke="#000" stroke-width="0.9"/>
<circle cx="1183.22" cy="1246.22" r="3.4" fill="none" stroke="#000" stroke-width="0.9"/>
<circle cx="1155.73" cy="1245.36" r="3.4" fill="none" stroke="#000" stroke-width="0.9"/>
<circle cx="1193.62" cy="1245.97" r="3.4" fill="none" stroke="#000" stroke-width="0.9"/>
<circle cx="1214.75" cy="1245.85" r="3.4" fill="none" stroke="#000" stroke-width="0.9"/>
<circle cx="1181.54" cy="1247.7" r="3.4" fill="none" stroke="#000" stroke-width="0.9"/>
<circle cx="1204.02" cy="1246.25" r="3.4" fill="none" stroke="#000" stroke-width="0.9"/>
<circle cx="1216.41" cy="1244.42" r="3.4" fill="none" stroke="#000" stroke-width="0.9"/>
<circle cx="1152.06" cy="1245.03" r="3.4" fill="none" stroke="#000" stroke-width="0.9"/>
<circle cx="1173.39" cy="1246.61" r="3.4" fill="none" stroke="#000" stroke-width="0.9"/>
<circle cx="1149.52" cy="1245.99" r="3.4" fill="none" stroke="#000" stroke-width="0.9"/>
<circle cx="1203.49" cy="1245.14" r="3.4" fill="none" stroke="#000" stroke-width="0.9"/>
<circle cx="1172.87" cy="1245.98" r="3.4" fill="none" stroke="#000" stroke-width="0.9"/>
<circle cx="1201.69" cy="1245.96" r="3.4" fill="none" stroke="#000" stroke-width="0.9"/>
<circle cx="1151.95" cy="1244.34" r="3.4" fill="none" stroke="#000" stroke-width="0.9"/>
<circle cx="1212.11" cy="1245.24" r="3.4" fill="none" stroke="#000" stroke-width="0.9"/>
<circle cx="1178.6" cy="1246.56" r="3.4" fill="none" stroke="#000" stroke-width="0.9"/>
<circle cx="1147.92" cy="1245.74" r="3.4" fill="none" stroke="#000" stroke-width="0.9"/>
<circle cx="1148.21" cy="1245.31" r="3.4" fill="none" stroke="#000" stroke-width="0.9"/>
<circle cx="1163.94" cy="1245.55" r="3.4" fill="none" stroke="#000" stroke-width="0.9"/>
<circle cx="1182.53" cy="1247.12" r="3.4" fill="none" stroke="#000" stroke-width="0.9"/>
<circle cx="1144.21" cy="1245.02" r="3.4" fill="none" stroke="#000" stroke-width="0.9"/>
<circle cx="1134.58" cy="1244.15" r="3.4" fill="none" stroke="#000" stroke-width="0.9"/>
<circle cx="1140.26" cy="1245.44" r="3.4" fill="none" stroke="#000" stroke-width="0.9"/>
<circle cx="1188.83" cy="1247.57" r="3.4" fill="none" stroke="#000" stroke-width="0.9"/>
<circle cx="1185.55" cy="1247.35" r="3.4" fill="none" stroke="#000" stroke-width="0.9"/>
<circle cx="1162.28" cy="1246.64" r="3.4" fill="none" stroke="#000" stroke-width="0.9"/>
<circle cx="1133.57" cy="1245.02" r="3.4" fill="none" stroke="#000" stroke-width="0.9"/>
<circle cx="1221.82" cy="1244.88" r="3.4" fill="none" stroke="#000" stroke-width="0.9"/>
<circle cx="1182.78" cy="1247.23" r="3.4" fill="none" stroke="#000" stroke-width="0.9"/>
<circle cx="1154.6" cy="1246.17" r="3.4" fill="none" stroke="#000" stroke-width="0.9"/>
<circle cx="1217.77" cy="1244.87" r="3.4" fill="none" stroke="#000" stroke-width="0.9"/>
<circle cx="1201.24" cy="1245.87" r="3.4" fill="none" stroke="#000" stroke-width="0.9"/>
<circle cx="1153.9" cy="1244.01" r="3.4" fill="none" stroke="#000" stroke-width="0.9"/>
<circle cx="1133.96" cy="1244.88" r="3.4" fill="none" stroke="#000" stroke-width="0.9"/>
<circle cx="1138.19" cy="1244.74" r="3.4" fill="none" stroke="#000" stroke-width="0.9"/>
<circle cx="1135.17" cy="1243.27" r="3.4" fill="none" stroke="#000" stroke-width="0.9"/>
<circle cx="1172.74" cy="1246.79" r="3.4" fill="none" stroke="#000" stroke-width="0.9"/>
<path d="M802.9,1415.84L807.5,1420.44L802.9,1425.04L798.3,1420.44Z" fill="none" stroke="#000" stroke-width="0.9"/>
<path d="M824.18,1420.77L828.78,1425.37L824.18,1429.97L819.58,1425.37Z" fill="none" stroke="#000" stroke-width="0.9"/>
<circle cx="827.5" cy="1477.13" r="3.4" fill="none" stroke="#000" stroke-width="0.9"/>
<circle cx="946.78" cy="1477.36" r="3.4" fill="none" stroke="#000" stroke-width="0.9"/>
<circle cx="912.92" cy="1478.84" r="3.4" fill="none" stroke="#000" stroke-width="0.9"/>
<circle cx="893.46" cy="1478.34" r="3.4" fill="none" stroke="#000" stroke-width="0.9"/>
<circle cx="879.87" cy="1477.84" r="3.4" fill="none" stroke="#000" stroke-width="0.9"/>
<circle cx="909.66" cy="1478.15" r="3.4" fill="none" stroke="#000" stroke-width="0.9"/>
<circle cx="919.87" cy="1477.52" r="3.4" fill="none" stroke="#000" stroke-width="0.9"/>
<circle cx="893.05" cy="1479.08" r="3.4" fill="none" stroke="#000" stroke-width="0.9"/>
<circle cx="948.58" cy="1477.36" r="3.4" fill="none" stroke="#000" stroke-width="0.9"/>
<circle cx="951.09" cy="1477.34" r="3.4" fill="none" stroke="#000" stroke-width="0.9"/>
<circle cx="879.74" cy="1478.7" r="3.4" fill="none" stroke="#000" stroke-width="0.9"/>
<circle cx="889.06" cy="1478.2" r="3.4" fill="none" stroke="#000" stroke-width="0.9"/>
<circle cx="936.11" cy="1477.25" r="3.4" fill="none" stroke="#000" stroke-width="0.9"/>
<circle cx="859.49" cy="1477.8" r="3.4" fill="none" stroke="#000" stroke-width="0.9"/>
<circle cx="917.64" cy="1477.85" r="3.4" fill="none" stroke="#000" stroke-width="0.9"/>
<circle cx="950.48" cy="1477.08" r="3.4" fill="none" stroke="#000" stroke-width="0.9"/>
<circle cx="928.13" cy="1478.21" r="3.4" fill="none" stroke="#000" stroke-width="0.9"/>
<circle cx="946.02" cy="1477.36" r="3.4" fill="none" stroke="#000" stroke-width="0.9"/>
<circle cx="912.28" cy="1478.54" r="3.4" fill="none" stroke="#000" stroke-width="0.9"/>
<circle cx="928.42" cy="1477.9" r="3.4" fill="none" stroke="#000" stroke-width="0.9"/>
<circle cx="879.85" cy="1478.54" r="3.4" fill="none" stroke="#000" stroke-width="0.9"/>
<circle cx="866.97" cy="1477.97" r="3.4" fill="none" stroke="#000" stroke-width="0.9"/>
<circle cx="878.05" cy="1478.75" r="3.4" fill="none" stroke="#000" stroke-width="0.9"/>
<circle cx="868.81" cy="1478.36" r="3.4" fill="none" stroke="#000" stroke-width="0.9"/>
<circle cx="924.48" cy="1478.39" r="3.4" fill="none" stroke="#000" stroke-width="0.9"/>
<circle cx="873.85" cy="1477.29" r="3.4" fill="none" stroke="#000" stroke-width="0.9"/>
<circle cx="876.32" cy="1478.41" r="3.4" fill="none" stroke="#000" stroke-width="0.9"/>
<circle cx="945.49" cy="1476.77" r="3.4" fill="none" stroke="#000" stroke-width="0.9"/>
<circle cx="868.48" cy="1477.47" r="3.4" fill="none" stroke="#000" stroke-width="0.9"/>
<circle cx="898.3" cy="1478.45" r="3.4" fill="none" stroke="#000" stroke-width="0.9"/>
<circle cx="936.6" cy="1477.19" r="3.4" fill="none" stroke="#000" stroke-width="0.9"/>
<circle cx="915.86" cy="1478.32" r="3.4" fill="none" stroke="#000" stroke-width="0.9"/>
<circle cx="934.74" cy="1477.89" r="3.4" fill="none" stroke="#000" stroke-width="0.9"/>
<circle cx="901.23" cy="1479.22" r="3.4" fill="none" stroke="#000" stroke-width="0.9"/>
<circle cx="876.42" cy="1478.48" r="3.4" fill="none" stroke="#000" stroke-width="0.9"/>
<circle cx="860.43" cy="1477.88" r="3.4" fill="none" stroke="#000" stroke-width="0.9"/>
<circle cx="868.96" cy="1477.68" r="3.4" fill="none" stroke="#000" stroke-width="0.9"/>
<circle cx="939.36" cy="1477.79" r="3.4" fill="none" stroke="#000" stroke-width="0.9"/>
<circle cx="870.03" cy="1477.85" r="3.4" fill="none" stroke="#000" stroke-width="0.9"/>
<circle cx="881.22" cy="1478.64" r="3.4" fill="none" stroke="#000" stroke-width="0.9"/>
<circle cx="871.2" cy="1478.05" r="3.4" fill="none" stroke="#000" stroke-width="0.9"/>
<circle cx="902.54" cy="1478.86" r="3.4" fill="none" stroke="#000" stroke-width="0.9"/>
<circle cx="866" cy="1477.12" r="3.4" fill="none" stroke="#000" stroke-width="0.9"/>
<circle cx="949.82" cy="1476.24" r="3.4" fill="none" stroke="#000" stroke-width="0.9"/>
<circle cx="919.73" cy="1478.23" r="3.4" fill="none" stroke="#000" stroke-width="0.9"/>
<circle cx="875.4" cy="1478.2" r="3.4" fill="none" stroke="#000" stroke-width="0.9"/>
<circle cx="879.93" cy="1478.8" r="3.4" fill="none" stroke="#000" stroke-width="0.9"/>
<circle cx="874.48" cy="1477.45" r="3.4" fill="none" stroke="#000" stroke-width="0.9"/>
<circle cx="951.71" cy="1475.97" r="3.4" fill="none" stroke="#000" stroke-width="0.9"/>
<circle cx="944.63" cy="1477.24" r="3.4" fill="none" stroke="#000" stroke-width="0.9"/>
<circle cx="941.83" cy="1477.47" r="3.4" fill="none" stroke="#000" stroke-width="0.9"/>
<circle cx="860.5" cy="1477.98" r="3.4" fill="none" stroke="#000" stroke-width="0.9"/>
<circle cx="949.82" cy="1476.93" r="3.4" fill="none" stroke="#000" stroke-width="0.9"/>
<circle cx="856.48" cy="1477.7" r="3.4" fill="none" stroke="#000" stroke-width="0.9"/>
<circle cx="868.52" cy="1477.89" r="3.4" fill="none" stroke="#000" stroke-width="0.9"/>
<circle cx="855.12" cy="1477.48" r="3.4" fill="none" stroke="#000" stroke-width="0.9"/>
<circle cx="872.95" cy="1477.95" r="3.4" fill="none" stroke="#000" stroke-width="0.9"/>
<circle cx="897.13" cy="1479.23" r="3.4" fill="none" stroke="#000" stroke-width="0.9"/>
<circle cx="910.33" cy="1478.85" r="3.4" fill="none" stroke="#000" stroke-width="0.9"/>
<circle cx="868.32" cy="1477.95" r="3.4" fill="none" stroke="#000" stroke-width="0.9"/>
<circle cx="923.93" cy="1477.58" r="3.4" fill="none" stroke="#000" stroke-width="0.9"/>
<circle cx="874" cy="1478.4" r="3.4" fill="none" stroke="#000" stroke-width="0.9"/>
<circle cx="913.94" cy="1478.79" r="3.4" fill="none" stroke="#000" stroke-width="0.9"/>
<circle cx="902.97" cy="1479.31" r="3.4" fill="none" stroke="#000" stroke-width="0.9"/>
<circle cx="914.31" cy="1478.5" r="3.4" fill="none" stroke="#000" stroke-width="0.9"/>
<circle cx="923.56" cy="1478.22" r="3.4" fill="none" stroke="#000" stroke-width="0.9"/>
<circle cx="874.55" cy="1477.92" r="3.4" fill="none" stroke="#000" stroke-width="0.9"/>
<circle cx="861.3" cy="1478.03" r="3.4" fill="none" stroke="#000" stroke-width="0.9"/>
<circle cx="924.91" cy="1477.86" r="3.4" fill="none" stroke="#000" stroke-width="0.9"/>
<circle cx="860.3" cy="1477.85" r="3.4" fill="none" stroke="#000" stroke-width="0.9"/>
<circle cx="936.57" cy="1477.48" r="3.4" fill="none" stroke="#000" stroke-width="0.9"/>
<circle cx="938.76" cy="1477.78" r="3.4" fill="none" stroke="#000" stroke-width="0.9"/>
<circle cx="943.19" cy="1477.69" r="3.4" fill="none" stroke="#000" stroke-width="0.9"/>
<circle cx="901.14" cy="1479.13" r="3.4" fill="none" stroke="#000" stroke-width="0.9"/>
<circle cx="872.97" cy="1478.24" r="3.4" fill="none" stroke="#000" stroke-width="0.9"/>
<circle cx="935.57" cy="1477.78" r="3.4" fill="none" stroke="#000" stroke-width="0.9"/>
<circle cx="890.92" cy="1479.06" r="3.4" fill="none" stroke="#000" stroke-width="0.9"/>
<circle cx="912.61" cy="1478.25" r="3.4" fill="none" stroke="#000" stroke-width="0.9"/>
<circle cx="898.15" cy="1479.55" r="3.4" fill="none" stroke="#000" stroke-width="0.9"/>
<circle cx="904.93" cy="1478.61" r="3.4" fill="none" stroke="#000" stroke-width="0.9"/>
<circle cx="934.11" cy="1477.43" r="3.4" fill="none" stroke="#000" stroke-width="0.9"/>
<circle cx="938.85" cy="1477.47" r="3.4" fill="none" stroke="#000" stroke-width="0.9"/>
<circle cx="891.91" cy="1478.53" r="3.4" fill="none" stroke="#000" stroke-width="0.9"/>
<circle cx="927.78" cy="1477.22" r="3.4" fill="none" stroke="#000" stroke-width="0.9"/>
<circle cx="947.44" cy="1477.07" r="3.4" fill="none" stroke="#000" stroke-width="0.9"/>
<circle cx="902.91" cy="1478.65" r="3.4" fill="none" stroke="#000" stroke-width="0.9"/>
<circle cx="907.03" cy="1479.14" r="3.4" fill="none" stroke="#000" stroke-width="0.9"/>
<circle cx="856.94" cy="1477.5" r="3.4" fill="none" stroke="#000" stroke-width="0.9"/>
<circle cx="872.62" cy="1478.48" r="3.4" fill="none" stroke="#000" stroke-width="0.9"/>
<circle cx="864.89" cy="1478.24" r="3.4" fill="none" stroke="#000" stroke-width="0.9"/>
<circle cx="857.85" cy="1476.86" r="3.4" fill="none" stroke="#000" stroke-width="0.9"/>
<circle cx="864.28" cy="1478.09" r="3.4" fill="none" stroke="#000" stroke-width="0.9"/>
<circle cx="856.65" cy="1477.53" r="3.4" fill="none" stroke="#000" stroke-width="0.9"/>
<circle cx="913.05" cy="1478.31" r="3.4" fill="none" stroke="#000" stroke-width="0.9"/>
<circle cx="923.06" cy="1478.2" r="3.4" fill="none" stroke="#000" stroke-width="0.9"/>
<circle cx="864.9" cy="1477.6" r="3.4" fill="none" stroke="#000" stroke-width="0.9"/>
<circle cx="859.31" cy="1477.32" r="3.4" fill="none" stroke="#000" stroke-width="0.9"/>
<circle cx="866.86" cy="1477.63" r="3.4" fill="none" stroke="#000" stroke-width="0.9"/>
<circle cx="882.04" cy="1478.93" r="3.4" fill="none" stroke="#000" stroke-width="0.9"/>
<circle cx="866.76" cy="1478.05" r="3.4" fill="none" stroke="#000" stroke-width="0.9"/>
<circle cx="912.32" cy="1478.8" r="3.4" fill="none" stroke="#000" stroke-width="0.9"/>
<circle cx="938.43" cy="1477.43" r="3.4" fill="none" stroke="#000" stroke-width="0.9"/>
<circle cx="927.32" cy="1477.74" r="3.4" fill="none" stroke="#000" stroke-width="0.9"/>
<circle cx="870.86" cy="1477.85" r="3.4" fill="none" stroke="#000" stroke-width="0.9"/>
<circle cx="892.62" cy="1478.16" r="3.4" fill="none" stroke="#000" stroke-width="0.9"/>
<circle cx="895.7" cy="1479.14" r="3.4" fill="none" stroke="#000" stroke-width="0.9"/>
<circle cx="893.29" cy="1478.81" r="3.4" fill="none" stroke="#000" stroke-width="0.9"/>
<circle cx="946.2" cy="1477.48" r="3.4" fill="none" stroke="#000" stroke-width="0.9"/>
<circle cx="878.24" cy="1478.27" r="3.4" fill="none" stroke="#000" stroke-width="0.9"/>
<circle cx="887.42" cy="1477.65" r="3.4" fill="none" stroke="#000" stroke-width="0.9"/>
<circle cx="932.93" cy="1477.47" r="3.4" fill="none" stroke="#000" stroke-width="0.9"/>
<circle cx="943.44" cy="1477.23" r="3.4" fill="none" stroke="#000" stroke-width="0.9"/>
<circle cx="860.12" cy="1476.99" r="3.4" fill="none" stroke="#000" stroke-width="0.9"/>
<circle cx="905.1" cy="1477.95" r="3.4" fill="none" stroke="#000" stroke-width="0.9"/>
<circle cx="879.1" cy="1478.47" r="3.4" fill="none" stroke="#000" stroke-width="0.9"/>
<circle cx="895.86" cy="1479.15" r="3.4" fill="none" stroke="#000" stroke-width="0.9"/>
<circle cx="906.4" cy="1478.81" r="3.4" fill="none" stroke="#000" stroke-width="0.9"/>
<circle cx="861.65" cy="1477.47" r="3.4" fill="none" stroke="#000" stroke-width="0.9"/>
<circle cx="856.95" cy="1477.62" r="3.4" fill="none" stroke="#000" stroke-width="0.9"/>
<circle cx="868.45" cy="1477.38" r="3.4" fill="none" stroke="#000" stroke-width="0.9"/>
<circle cx="945.78" cy="1477.39" r="3.4" fill="none" stroke="#000" stroke-width="0.9"/>
<circle cx="916.33" cy="1478.37" r="3.4" fill="none" stroke="#000" stroke-width="0.9"/>
<circle cx="940.71" cy="1476.65" r="3.4" fill="none" stroke="#000" stroke-width="0.9"/>
<circle cx="858.26" cy="1477.67" r="3.4" fill="none" stroke="#000" stroke-width="0.9"/>
<circle cx="920.71" cy="1478.27" r="3.4" fill="none" stroke="#000" stroke-width="0.9"/>
<circle cx="881.44" cy="1477.63" r="3.4" fill="none" stroke="#000" stroke-width="0.9"/>
<circle cx="915.17" cy="1478.51" r="3.4" fill="none" stroke="#000" stroke-width="0.9"/>
<circle cx="879.23" cy="1478.21" r="3.4" fill="none" stroke="#000" stroke-width="0.9"/>
<circle cx="947.13" cy="1477.45" r="3.4" fill="none" stroke="#000" stroke-width="0.9"/>
<circle cx="882.81" cy="1478.7" r="3.4" fill="none" stroke="#000" stroke-width="0.9"/>
<circle cx="866.6" cy="1477.51" r="3.4" fill="none" stroke="#000" stroke-width="0.9"/>
<circle cx="912.56" cy="1478.29" r="3.4" fill="none" stroke="#000" stroke-width="0.9"/>
<circle cx="880.96" cy="1478.72" r="3.4" fill="none" stroke="#000" stroke-width="0.9"/>
<circle cx="900.16" cy="1479.16" r="3.4" fill="none" stroke="#000" stroke-width="0.9"/>
<circle cx="866.95" cy="1478.26" r="3.4" fill="none" stroke="#000" stroke-width="0.9"/>
<circle cx="867.67" cy="1478.19" r="3.4" fill="none" stroke="#000" stroke-width="0.9"/>
<circle cx="882.89" cy="1478.41" r="3.4" fill="none" stroke="#000" stroke-width="0.9"/>
<circle cx="878.53" cy="1478.18" r="3.4" fill="none" stroke="#000" stroke-width="0.9"/>
<circle cx="936.36" cy="1477.59" r="3.4" fill="none" stroke="#000" stroke-width="0.9"/>
<circle cx="914.07" cy="1478.13" r="3.4" fill="none" stroke="#000" stroke-width="0.9"/>
<circle cx="874.44" cy="1478.27" r="3.4" fill="none" stroke="#000" stroke-width="0.9"/>
<circle cx="923.81" cy="1477.78" r="3.4" fill="none" stroke="#000" stroke-width="0.9"/>
<circle cx="914.35" cy="1478.72" r="3.4" fill="none" stroke="#000" stroke-width="0.9"/>
<circle cx="900.4" cy="1479.32" r="3.4" fill="none" stroke="#000" stroke-width="0.9"/>
<circle cx="876.42" cy="1478.31" r="3.4" fill="none" stroke="#000" stroke-width="0.9"/>
<circle cx="904.62" cy="1478.72" r="3.4" fill="none" stroke="#000" stroke-width="0.9"/>
<circle cx="856.08" cy="1477.35" r="3.4" fill="none" stroke="#000" stroke-width="0.9"/>
<circle cx="889.12" cy="1478.97" r="3.4" fill="none" stroke="#000" stroke-width="0.9"/>
<circle cx="908.91" cy="1478.79" r="3.4" fill="none" stroke="#000" stroke-width="0.9"/>
<circle cx="902.58" cy="1479.01" r="3.4" fill="none" stroke="#000" stroke-width="0.9"/>
<circle cx="883.58" cy="1477.31" r="3.4" fill="none" stroke="#000" stroke-width="0.9"/>
<circle cx="929.8" cy="1478.13" r="3.4" fill="none" stroke="#000" stroke-width="0.9"/>
<circle cx="939.41" cy="1477.67" r="3.4" fill="none" stroke="#000" stroke-width="0.9"/>
<circle cx="897.59" cy="1479.05" r="3.4" fill="none" stroke="#000" stroke-width="0.9"/>
<circle cx="897.58" cy="1479.37" r="3.4" fill="none" stroke="#000" stroke-width="0.9"/>
<circle cx="926.24" cy="1478.07" r="3.4" fill="none" stroke="#000" stroke-width="0.9"/>
<circle cx="947.95" cy="1477.23" r="3.4" fill="none" stroke="#000" stroke-width="0.9"/>
<circle cx="926.55" cy="1478.09" r="3.4" fill="none" stroke="#000" stroke-width="0.9"/>
<circle cx="889.11" cy="1478.81" r="3.4" fill="none" stroke="#000" stroke-width="0.9"/>
<circle cx="920.41" cy="1477.79" r="3.4" fill="none" stroke="#000" stroke-width="0.9"/>
<circle cx="934.56" cy="1477.29" r="3.4" fill="none" stroke="#000" stroke-width="0.9"/>
<circle cx="905.14" cy="1479.21" r="3.4" fill="none" stroke="#000" stroke-width="0.9"/>
<circle cx="928.59" cy="1477.33" r="3.4" fill="none" stroke="#000" stroke-width="0.9"/>
<circle cx="901.01" cy="1479.25" r="3.4" fill="none" stroke="#000" stroke-width="0.9"/>
<circle cx="943.62" cy="1476.77" r="3.4" fill="none" stroke="#000" stroke-width="0.9"/>
<circle cx="867.27" cy="1478.3" r="3.4" fill="none" stroke="#000" stroke-width="0.9"/>
<circle cx="929.17" cy="1478.24" r="3.4" fill="none" stroke="#000" stroke-width="0.9"/>
<circle cx="911.74" cy="1477.49" r="3.4" fill="none" stroke="#000" stroke-width="0.9"/>
<circle cx="910.39" cy="1479.04" r="3.4" fill="none" stroke="#000" stroke-width="0.9"/>
<circle cx="895.45" cy="1479.26" r="3.4" fill="none" stroke="#000" stroke-width="0.9"/>
<circle cx="913.82" cy="1477.75" r="3.4" fill="none" stroke="#000" stroke-width="0.9"/>
<circle cx="853.75" cy="1476.64" r="3.4" fill="none" stroke="#000" stroke-width="0.9"/>
<circle cx="857.29" cy="1476.64" r="3.4" fill="none" stroke="#000" stroke-width="0.9"/>
<circle cx="953.08" cy="1476.64" r="3.4" fill="none" stroke="#000" stroke-width="0.9"/>
<circle cx="949.53" cy="1476.64" r="3.4" fill="none" stroke="#000" stroke-width="0.9"/>
<circle cx="947.16" cy="1476.64" r="3.4" fill="none" stroke="#000" stroke-width="0.9"/>
<text transform="translate(1407.5,816.3)" font-size="66" fill="#000">f</text>
<text transform="translate(1624,781.2)" font-size="29.6" fill="#000" text-anchor="middle">Hum</text>
<line x1="1506" y1="793.1" x2="1740.5" y2="793.1" stroke="#000" stroke-width="4.2" stroke-linecap="round"/>
<rect x="1440.4" y="805.2" width="344.9" height="42.4" fill="#b3b3b3"/>
<text transform="translate(1612.85,835.64)" font-size="25.1" fill="#fff" text-anchor="middle">Terfenadine</text>
<rect x="1440.4" y="847.6" width="344.9" height="409.6" fill="#fff"/>
<line x1="1440.4" y1="1198.9" x2="1785.3" y2="1198.9" stroke="#f5f5f5" stroke-width="1"/>
<line x1="1440.4" y1="1118.3" x2="1785.3" y2="1118.3" stroke="#f5f5f5" stroke-width="1"/>
<line x1="1440.4" y1="1037.7" x2="1785.3" y2="1037.7" stroke="#f5f5f5" stroke-width="1"/>
<line x1="1440.4" y1="957.1" x2="1785.3" y2="957.1" stroke="#f5f5f5" stroke-width="1"/>
<line x1="1440.4" y1="876.5" x2="1785.3" y2="876.5" stroke="#f5f5f5" stroke-width="1"/>
<line x1="1468.1" y1="847.6" x2="1468.1" y2="1257.2" stroke="#f5f5f5" stroke-width="1"/>
<line x1="1557.9" y1="847.6" x2="1557.9" y2="1257.2" stroke="#f5f5f5" stroke-width="1"/>
<line x1="1647.7" y1="847.6" x2="1647.7" y2="1257.2" stroke="#f5f5f5" stroke-width="1"/>
<line x1="1737.5" y1="847.6" x2="1737.5" y2="1257.2" stroke="#f5f5f5" stroke-width="1"/>
<line x1="1440.4" y1="1239.2" x2="1785.3" y2="1239.2" stroke="#ebebeb" stroke-width="1.1"/>
<line x1="1440.4" y1="1158.6" x2="1785.3" y2="1158.6" stroke="#ebebeb" stroke-width="1.1"/>
<line x1="1440.4" y1="1078" x2="1785.3" y2="1078" stroke="#ebebeb" stroke-width="1.1"/>
<line x1="1440.4" y1="997.4" x2="1785.3" y2="997.4" stroke="#ebebeb" stroke-width="1.1"/>
<line x1="1440.4" y1="916.8" x2="1785.3" y2="916.8" stroke="#ebebeb" stroke-width="1.1"/>
<line x1="1513" y1="847.6" x2="1513" y2="1257.2" stroke="#ebebeb" stroke-width="1.1"/>
<line x1="1602.8" y1="847.6" x2="1602.8" y2="1257.2" stroke="#ebebeb" stroke-width="1.1"/>
<line x1="1692.6" y1="847.6" x2="1692.6" y2="1257.2" stroke="#ebebeb" stroke-width="1.1"/>
<line x1="1782.4" y1="847.6" x2="1782.4" y2="1257.2" stroke="#ebebeb" stroke-width="1.1"/>
<line x1="1440.4" y1="1078" x2="1785.3" y2="1078" stroke="#999999" stroke-width="1.2" stroke-dasharray="4.6,3.9"/>
<line x1="1602.8" y1="847.6" x2="1602.8" y2="1257.2" stroke="#999999" stroke-width="1.2" stroke-dasharray="4.6,3.9"/>
<rect x="1440.4" y="847.6" width="344.9" height="409.6" fill="none" stroke="#a9a9a9" stroke-width="1.9"/>
<line x1="1435.9" y1="1239.2" x2="1440.4" y2="1239.2" stroke="#b3b3b3" stroke-width="1.3"/>
<line x1="1435.9" y1="1158.6" x2="1440.4" y2="1158.6" stroke="#b3b3b3" stroke-width="1.3"/>
<line x1="1435.9" y1="1078" x2="1440.4" y2="1078" stroke="#b3b3b3" stroke-width="1.3"/>
<line x1="1435.9" y1="997.4" x2="1440.4" y2="997.4" stroke="#b3b3b3" stroke-width="1.3"/>
<line x1="1435.9" y1="916.8" x2="1440.4" y2="916.8" stroke="#b3b3b3" stroke-width="1.3"/>
<line x1="1513" y1="1257.2" x2="1513" y2="1261.7" stroke="#b3b3b3" stroke-width="1.3"/>
<line x1="1602.8" y1="1257.2" x2="1602.8" y2="1261.7" stroke="#b3b3b3" stroke-width="1.3"/>
<line x1="1692.6" y1="1257.2" x2="1692.6" y2="1261.7" stroke="#b3b3b3" stroke-width="1.3"/>
<line x1="1782.4" y1="1257.2" x2="1782.4" y2="1261.7" stroke="#b3b3b3" stroke-width="1.3"/>
<text transform="translate(1433.8,1247.8) scale(1,1.035)" font-size="24.8" fill="#333333" text-anchor="end">0.0</text>
<text transform="translate(1433.8,1167.2) scale(1,1.035)" font-size="24.8" fill="#333333" text-anchor="end">0.5</text>
<text transform="translate(1433.8,1086.6) scale(1,1.035)" font-size="24.8" fill="#333333" text-anchor="end">1.0</text>
<text transform="translate(1433.8,1006) scale(1,1.035)" font-size="24.8" fill="#333333" text-anchor="end">1.5</text>
<text transform="translate(1433.8,925.4) scale(1,1.035)" font-size="24.8" fill="#333333" text-anchor="end">2.0</text>
<text transform="translate(1513,1282.4) scale(1,1.035)" font-size="24.8" fill="#333333" text-anchor="middle">−2</text>
<text transform="translate(1602.8,1282.4) scale(1,1.035)" font-size="24.8" fill="#333333" text-anchor="middle">0</text>
<text transform="translate(1692.6,1282.4) scale(1,1.035)" font-size="24.8" fill="#333333" text-anchor="middle">2</text>
<text transform="translate(1782.4,1282.4) scale(1,1.035)" font-size="24.8" fill="#333333" text-anchor="middle">4</text>
<text transform="translate(1633.5,1316.2)" font-size="29.2" fill="#000" text-anchor="middle">log<tspan font-size="16.6" dy="9.4" dx="0.6">2</tspan><tspan dy="-9.4" dx="0.4">(fold change clr−transformed abundance)</tspan></text>
<text transform="translate(1388,1012) rotate(-90)" font-size="29.3" fill="#000" text-anchor="middle">−log<tspan font-size="16.7" dy="9.4" dx="0.6">10</tspan><tspan dy="-9.4" dx="0.4">(adj. </tspan><tspan font-style="italic">P</tspan>)</text>
<text transform="translate(1804.2,1019.2)" font-size="24.9" fill="#000" font-weight="bold">Significant</text>
<path d="M1812.6,1033.6L1820,1041L1812.6,1048.4L1805.2,1041Z" fill="none" stroke="#444" stroke-width="2.6"/>
<text transform="translate(1828.5,1050) scale(1,1.035)" font-size="24.6" fill="#000">TRUE</text>
<circle cx="1812.6" cy="1072.9" r="6.0" fill="none" stroke="#444" stroke-width="2.5"/>
<text transform="translate(1828.5,1080.9) scale(1,1.035)" font-size="24.6" fill="#000">FALSE</text>
<path d="M1538.1,862.65L1541.7,866.25L1538.1,869.85L1534.5,866.25Z" fill="none" stroke="#333" stroke-width="0.8"/>
<circle cx="1456.17" cy="1087.23" r="2.9" fill="none" stroke="#333" stroke-width="0.8"/>
<circle cx="1548.52" cy="1087.23" r="2.9" fill="none" stroke="#333" stroke-width="0.8"/>
<circle cx="1704.1" cy="1087.23" r="2.9" fill="none" stroke="#333" stroke-width="0.8"/>
<circle cx="1733.57" cy="1087.23" r="2.9" fill="none" stroke="#333" stroke-width="0.8"/>
<circle cx="1769.86" cy="1087.23" r="2.9" fill="none" stroke="#333" stroke-width="0.8"/>
<circle cx="1566.12" cy="1103.76" r="2.9" fill="none" stroke="#333" stroke-width="0.8"/>
<circle cx="1671.05" cy="1148.67" r="2.9" fill="none" stroke="#333" stroke-width="0.8"/>
<circle cx="1651.64" cy="1156.94" r="2.9" fill="none" stroke="#333" stroke-width="0.8"/>
<circle cx="1512.58" cy="1169.87" r="2.9" fill="none" stroke="#333" stroke-width="0.8"/>
<circle cx="1519.77" cy="1169.87" r="2.9" fill="none" stroke="#333" stroke-width="0.8"/>
<circle cx="1544.2" cy="1169.87" r="2.9" fill="none" stroke="#333" stroke-width="0.8"/>
<circle cx="1561.81" cy="1169.87" r="2.9" fill="none" stroke="#333" stroke-width="0.8"/>
<circle cx="1569.36" cy="1169.87" r="2.9" fill="none" stroke="#333" stroke-width="0.8"/>
<circle cx="1574.75" cy="1169.87" r="2.9" fill="none" stroke="#333" stroke-width="0.8"/>
<circle cx="1701.59" cy="1169.87" r="2.9" fill="none" stroke="#333" stroke-width="0.8"/>
<circle cx="1722.07" cy="1171.31" r="2.9" fill="none" stroke="#333" stroke-width="0.8"/>
<circle cx="1652" cy="1174.9" r="2.9" fill="none" stroke="#333" stroke-width="0.8"/>
<circle cx="1567.56" cy="1174.9" r="2.9" fill="none" stroke="#333" stroke-width="0.8"/>
<circle cx="1542.05" cy="1182.09" r="2.9" fill="none" stroke="#333" stroke-width="0.8"/>
<circle cx="1569" cy="1182.09" r="2.9" fill="none" stroke="#333" stroke-width="0.8"/>
<circle cx="1529.11" cy="1190.36" r="2.9" fill="none" stroke="#333" stroke-width="0.8"/>
<circle cx="1572.95" cy="1190.36" r="2.9" fill="none" stroke="#333" stroke-width="0.8"/>
<circle cx="1583.01" cy="1190.36" r="2.9" fill="none" stroke="#333" stroke-width="0.8"/>
<circle cx="1638.35" cy="1190.36" r="2.9" fill="none" stroke="#333" stroke-width="0.8"/>
<circle cx="1658.11" cy="1190.36" r="2.9" fill="none" stroke="#333" stroke-width="0.8"/>
<circle cx="1668.89" cy="1190.36" r="2.9" fill="none" stroke="#333" stroke-width="0.8"/>
<circle cx="1577.26" cy="1198.62" r="2.9" fill="none" stroke="#333" stroke-width="0.8"/>
<circle cx="1582.65" cy="1198.62" r="2.9" fill="none" stroke="#333" stroke-width="0.8"/>
<circle cx="1571.15" cy="1204.73" r="2.9" fill="none" stroke="#333" stroke-width="0.8"/>
<circle cx="1575.47" cy="1204.73" r="2.9" fill="none" stroke="#333" stroke-width="0.8"/>
<circle cx="1619.66" cy="1205.09" r="2.9" fill="none" stroke="#333" stroke-width="0.8"/>
<circle cx="1658.11" cy="1210.12" r="2.9" fill="none" stroke="#333" stroke-width="0.8"/>
<circle cx="1635.11" cy="1214.07" r="2.9" fill="none" stroke="#333" stroke-width="0.8"/>
<circle cx="1654.88" cy="1218.02" r="2.9" fill="none" stroke="#333" stroke-width="0.8"/>
<circle cx="1555.7" cy="1220.18" r="2.9" fill="none" stroke="#333" stroke-width="0.8"/>
<circle cx="1562.89" cy="1220.18" r="2.9" fill="none" stroke="#333" stroke-width="0.8"/>
<circle cx="1578.7" cy="1220.18" r="2.9" fill="none" stroke="#333" stroke-width="0.8"/>
<circle cx="1586.61" cy="1220.18" r="2.9" fill="none" stroke="#333" stroke-width="0.8"/>
<circle cx="1588.04" cy="1221.98" r="2.9" fill="none" stroke="#333" stroke-width="0.8"/>
<circle cx="1622.54" cy="1221.62" r="2.9" fill="none" stroke="#333" stroke-width="0.8"/>
<circle cx="1580.14" cy="1224.85" r="2.9" fill="none" stroke="#333" stroke-width="0.8"/>
<circle cx="1587.68" cy="1227.37" r="2.9" fill="none" stroke="#333" stroke-width="0.8"/>
<circle cx="1595.23" cy="1227.01" r="2.9" fill="none" stroke="#333" stroke-width="0.8"/>
<circle cx="1624.33" cy="1227.01" r="2.9" fill="none" stroke="#333" stroke-width="0.8"/>
<circle cx="1626.49" cy="1227.37" r="2.9" fill="none" stroke="#333" stroke-width="0.8"/>
<circle cx="1648.05" cy="1227.01" r="2.9" fill="none" stroke="#333" stroke-width="0.8"/>
<circle cx="1619.66" cy="1234.19" r="2.9" fill="none" stroke="#333" stroke-width="0.8"/>
<circle cx="1598.46" cy="1234.55" r="2.9" fill="none" stroke="#333" stroke-width="0.8"/>
<circle cx="1602.06" cy="1238.15" r="2.9" fill="none" stroke="#333" stroke-width="0.8"/>
<circle cx="1602.77" cy="1239.22" r="2.9" fill="none" stroke="#333" stroke-width="0.8"/>
<text transform="translate(57.3,1903.6)" font-size="66" fill="#000">g</text>
<text transform="translate(568.8,1881.1) scale(1,1.035)" font-size="29.6" fill="#000" text-anchor="middle">SPF</text>
<line x1="152.2" y1="1893.7" x2="983.8" y2="1893.7" stroke="#000" stroke-width="4.2" stroke-linecap="round"/>
<rect x="94.1" y="1905.2" width="145.9" height="41.3" fill="#b3b3b3"/>
<text transform="translate(167.05,1933.4) scale(1,1.035)" font-size="20.9" fill="#fff" text-anchor="middle">DMSO</text>
<rect x="94.1" y="1946.5" width="145.9" height="542.3" fill="#fff"/>
<line x1="94.1" y1="2464.1" x2="240" y2="2464.1" stroke="#f5f5f5" stroke-width="1"/>
<line x1="94.1" y1="2354.5" x2="240" y2="2354.5" stroke="#f5f5f5" stroke-width="1"/>
<line x1="94.1" y1="2244.9" x2="240" y2="2244.9" stroke="#f5f5f5" stroke-width="1"/>
<line x1="94.1" y1="2135.3" x2="240" y2="2135.3" stroke="#f5f5f5" stroke-width="1"/>
<line x1="94.1" y1="2025.7" x2="240" y2="2025.7" stroke="#f5f5f5" stroke-width="1"/>
<line x1="94.1" y1="2409.3" x2="240" y2="2409.3" stroke="#ebebeb" stroke-width="1.1"/>
<line x1="94.1" y1="2299.7" x2="240" y2="2299.7" stroke="#ebebeb" stroke-width="1.1"/>
<line x1="94.1" y1="2190.1" x2="240" y2="2190.1" stroke="#ebebeb" stroke-width="1.1"/>
<line x1="94.1" y1="2080.5" x2="240" y2="2080.5" stroke="#ebebeb" stroke-width="1.1"/>
<line x1="94.1" y1="1970.9" x2="240" y2="1970.9" stroke="#ebebeb" stroke-width="1.1"/>
<line x1="133.89" y1="1946.5" x2="133.89" y2="2488.8" stroke="#ebebeb" stroke-width="1.1"/>
<line x1="200.21" y1="1946.5" x2="200.21" y2="2488.8" stroke="#ebebeb" stroke-width="1.1"/>
<rect x="94.1" y="1946.5" width="145.9" height="542.3" fill="none" stroke="#a9a9a9" stroke-width="1.9"/>
<line x1="89.6" y1="2409.3" x2="94.1" y2="2409.3" stroke="#b3b3b3" stroke-width="1.3"/>
<line x1="89.6" y1="2299.7" x2="94.1" y2="2299.7" stroke="#b3b3b3" stroke-width="1.3"/>
<line x1="89.6" y1="2190.1" x2="94.1" y2="2190.1" stroke="#b3b3b3" stroke-width="1.3"/>
<line x1="89.6" y1="2080.5" x2="94.1" y2="2080.5" stroke="#b3b3b3" stroke-width="1.3"/>
<line x1="89.6" y1="1970.9" x2="94.1" y2="1970.9" stroke="#b3b3b3" stroke-width="1.3"/>
<line x1="133.89" y1="2488.8" x2="133.89" y2="2494.8" stroke="#b3b3b3" stroke-width="1.3"/>
<line x1="200.21" y1="2488.8" x2="200.21" y2="2494.8" stroke="#b3b3b3" stroke-width="1.3"/>
<text transform="translate(203.21,1978.2) scale(1,1.035)" font-size="25" fill="#2a2a2a" text-anchor="middle">NS</text>
<text transform="translate(135.39,2521.2) scale(1,1.035)" font-size="23.5" fill="#333333" text-anchor="middle">0</text>
<text transform="translate(201.71,2521.2) scale(1,1.035)" font-size="23.5" fill="#333333" text-anchor="middle">6</text>
<rect x="253" y="1905.2" width="145.9" height="41.3" fill="#b3b3b3"/>
<text transform="translate(325.95,1933.4)" font-size="20.9" fill="#fff" text-anchor="middle">Clotrimazole</text>
<rect x="253" y="1946.5" width="145.9" height="542.3" fill="#fff"/>
<line x1="253" y1="2464.1" x2="398.9" y2="2464.1" stroke="#f5f5f5" stroke-width="1"/>
<line x1="253" y1="2354.5" x2="398.9" y2="2354.5" stroke="#f5f5f5" stroke-width="1"/>
<line x1="253" y1="2244.9" x2="398.9" y2="2244.9" stroke="#f5f5f5" stroke-width="1"/>
<line x1="253" y1="2135.3" x2="398.9" y2="2135.3" stroke="#f5f5f5" stroke-width="1"/>
<line x1="253" y1="2025.7" x2="398.9" y2="2025.7" stroke="#f5f5f5" stroke-width="1"/>
<line x1="253" y1="2409.3" x2="398.9" y2="2409.3" stroke="#ebebeb" stroke-width="1.1"/>
<line x1="253" y1="2299.7" x2="398.9" y2="2299.7" stroke="#ebebeb" stroke-width="1.1"/>
<line x1="253" y1="2190.1" x2="398.9" y2="2190.1" stroke="#ebebeb" stroke-width="1.1"/>
<line x1="253" y1="2080.5" x2="398.9" y2="2080.5" stroke="#ebebeb" stroke-width="1.1"/>
<line x1="253" y1="1970.9" x2="398.9" y2="1970.9" stroke="#ebebeb" stroke-width="1.1"/>
<line x1="292.79" y1="1946.5" x2="292.79" y2="2488.8" stroke="#ebebeb" stroke-width="1.1"/>
<line x1="359.11" y1="1946.5" x2="359.11" y2="2488.8" stroke="#ebebeb" stroke-width="1.1"/>
<rect x="253" y="1946.5" width="145.9" height="542.3" fill="none" stroke="#a9a9a9" stroke-width="1.9"/>
<line x1="292.79" y1="2488.8" x2="292.79" y2="2494.8" stroke="#b3b3b3" stroke-width="1.3"/>
<line x1="359.11" y1="2488.8" x2="359.11" y2="2494.8" stroke="#b3b3b3" stroke-width="1.3"/>
<text transform="translate(362.11,1978.2) scale(1,1.035)" font-size="25" fill="#2a2a2a" text-anchor="middle">NS</text>
<text transform="translate(294.29,2521.2) scale(1,1.035)" font-size="23.5" fill="#333333" text-anchor="middle">0</text>
<text transform="translate(360.61,2521.2) scale(1,1.035)" font-size="23.5" fill="#333333" text-anchor="middle">6</text>
<rect x="412.1" y="1905.2" width="145.9" height="41.3" fill="#b3b3b3"/>
<text transform="translate(485.05,1933.4)" font-size="20.9" fill="#fff" text-anchor="middle">Clomiphene</text>
<rect x="412.1" y="1946.5" width="145.9" height="542.3" fill="#fff"/>
<line x1="412.1" y1="2464.1" x2="558" y2="2464.1" stroke="#f5f5f5" stroke-width="1"/>
<line x1="412.1" y1="2354.5" x2="558" y2="2354.5" stroke="#f5f5f5" stroke-width="1"/>
<line x1="412.1" y1="2244.9" x2="558" y2="2244.9" stroke="#f5f5f5" stroke-width="1"/>
<line x1="412.1" y1="2135.3" x2="558" y2="2135.3" stroke="#f5f5f5" stroke-width="1"/>
<line x1="412.1" y1="2025.7" x2="558" y2="2025.7" stroke="#f5f5f5" stroke-width="1"/>
<line x1="412.1" y1="2409.3" x2="558" y2="2409.3" stroke="#ebebeb" stroke-width="1.1"/>
<line x1="412.1" y1="2299.7" x2="558" y2="2299.7" stroke="#ebebeb" stroke-width="1.1"/>
<line x1="412.1" y1="2190.1" x2="558" y2="2190.1" stroke="#ebebeb" stroke-width="1.1"/>
<line x1="412.1" y1="2080.5" x2="558" y2="2080.5" stroke="#ebebeb" stroke-width="1.1"/>
<line x1="412.1" y1="1970.9" x2="558" y2="1970.9" stroke="#ebebeb" stroke-width="1.1"/>
<line x1="451.89" y1="1946.5" x2="451.89" y2="2488.8" stroke="#ebebeb" stroke-width="1.1"/>
<line x1="518.21" y1="1946.5" x2="518.21" y2="2488.8" stroke="#ebebeb" stroke-width="1.1"/>
<rect x="412.1" y="1946.5" width="145.9" height="542.3" fill="none" stroke="#a9a9a9" stroke-width="1.9"/>
<line x1="451.89" y1="2488.8" x2="451.89" y2="2494.8" stroke="#b3b3b3" stroke-width="1.3"/>
<line x1="518.21" y1="2488.8" x2="518.21" y2="2494.8" stroke="#b3b3b3" stroke-width="1.3"/>
<text transform="translate(521.21,1978.2) scale(1,1.035)" font-size="25" fill="#2a2a2a" text-anchor="middle">NS</text>
<text transform="translate(453.39,2521.2) scale(1,1.035)" font-size="23.5" fill="#333333" text-anchor="middle">0</text>
<text transform="translate(519.71,2521.2) scale(1,1.035)" font-size="23.5" fill="#333333" text-anchor="middle">6</text>
<rect x="571.1" y="1905.2" width="145.9" height="41.3" fill="#b3b3b3"/>
<text transform="translate(644.05,1933.4)" font-size="20.9" fill="#fff" text-anchor="middle">Zafirlukast</text>
<rect x="571.1" y="1946.5" width="145.9" height="542.3" fill="#fff"/>
<line x1="571.1" y1="2464.1" x2="717" y2="2464.1" stroke="#f5f5f5" stroke-width="1"/>
<line x1="571.1" y1="2354.5" x2="717" y2="2354.5" stroke="#f5f5f5" stroke-width="1"/>
<line x1="571.1" y1="2244.9" x2="717" y2="2244.9" stroke="#f5f5f5" stroke-width="1"/>
<line x1="571.1" y1="2135.3" x2="717" y2="2135.3" stroke="#f5f5f5" stroke-width="1"/>
<line x1="571.1" y1="2025.7" x2="717" y2="2025.7" stroke="#f5f5f5" stroke-width="1"/>
<line x1="571.1" y1="2409.3" x2="717" y2="2409.3" stroke="#ebebeb" stroke-width="1.1"/>
<line x1="571.1" y1="2299.7" x2="717" y2="2299.7" stroke="#ebebeb" stroke-width="1.1"/>
<line x1="571.1" y1="2190.1" x2="717" y2="2190.1" stroke="#ebebeb" stroke-width="1.1"/>
<line x1="571.1" y1="2080.5" x2="717" y2="2080.5" stroke="#ebebeb" stroke-width="1.1"/>
<line x1="571.1" y1="1970.9" x2="717" y2="1970.9" stroke="#ebebeb" stroke-width="1.1"/>
<line x1="610.89" y1="1946.5" x2="610.89" y2="2488.8" stroke="#ebebeb" stroke-width="1.1"/>
<line x1="677.21" y1="1946.5" x2="677.21" y2="2488.8" stroke="#ebebeb" stroke-width="1.1"/>
<rect x="571.1" y="1946.5" width="145.9" height="542.3" fill="none" stroke="#a9a9a9" stroke-width="1.9"/>
<line x1="610.89" y1="2488.8" x2="610.89" y2="2494.8" stroke="#b3b3b3" stroke-width="1.3"/>
<line x1="677.21" y1="2488.8" x2="677.21" y2="2494.8" stroke="#b3b3b3" stroke-width="1.3"/>
<text transform="translate(680.21,1978.2) scale(1,1.035)" font-size="25" fill="#2a2a2a" text-anchor="middle">NS</text>
<text transform="translate(612.39,2521.2) scale(1,1.035)" font-size="23.5" fill="#333333" text-anchor="middle">0</text>
<text transform="translate(678.71,2521.2) scale(1,1.035)" font-size="23.5" fill="#333333" text-anchor="middle">6</text>
<rect x="730.7" y="1905.2" width="145.9" height="41.3" fill="#b3b3b3"/>
<text transform="translate(803.65,1933.4)" font-size="20.9" fill="#fff" text-anchor="middle">Terfenadine</text>
<rect x="730.7" y="1946.5" width="145.9" height="542.3" fill="#fff"/>
<line x1="730.7" y1="2464.1" x2="876.6" y2="2464.1" stroke="#f5f5f5" stroke-width="1"/>
<line x1="730.7" y1="2354.5" x2="876.6" y2="2354.5" stroke="#f5f5f5" stroke-width="1"/>
<line x1="730.7" y1="2244.9" x2="876.6" y2="2244.9" stroke="#f5f5f5" stroke-width="1"/>
<line x1="730.7" y1="2135.3" x2="876.6" y2="2135.3" stroke="#f5f5f5" stroke-width="1"/>
<line x1="730.7" y1="2025.7" x2="876.6" y2="2025.7" stroke="#f5f5f5" stroke-width="1"/>
<line x1="730.7" y1="2409.3" x2="876.6" y2="2409.3" stroke="#ebebeb" stroke-width="1.1"/>
<line x1="730.7" y1="2299.7" x2="876.6" y2="2299.7" stroke="#ebebeb" stroke-width="1.1"/>
<line x1="730.7" y1="2190.1" x2="876.6" y2="2190.1" stroke="#ebebeb" stroke-width="1.1"/>
<line x1="730.7" y1="2080.5" x2="876.6" y2="2080.5" stroke="#ebebeb" stroke-width="1.1"/>
<line x1="730.7" y1="1970.9" x2="876.6" y2="1970.9" stroke="#ebebeb" stroke-width="1.1"/>
<line x1="770.49" y1="1946.5" x2="770.49" y2="2488.8" stroke="#ebebeb" stroke-width="1.1"/>
<line x1="836.81" y1="1946.5" x2="836.81" y2="2488.8" stroke="#ebebeb" stroke-width="1.1"/>
<rect x="730.7" y="1946.5" width="145.9" height="542.3" fill="none" stroke="#a9a9a9" stroke-width="1.9"/>
<line x1="770.49" y1="2488.8" x2="770.49" y2="2494.8" stroke="#b3b3b3" stroke-width="1.3"/>
<line x1="836.81" y1="2488.8" x2="836.81" y2="2494.8" stroke="#b3b3b3" stroke-width="1.3"/>
<text transform="translate(839.81,1978.2) scale(1,1.035)" font-size="25" fill="#2a2a2a" text-anchor="middle">NS</text>
<text transform="translate(771.99,2521.2) scale(1,1.035)" font-size="23.5" fill="#333333" text-anchor="middle">0</text>
<text transform="translate(838.31,2521.2) scale(1,1.035)" font-size="23.5" fill="#333333" text-anchor="middle">6</text>
<rect x="889.5" y="1905.2" width="145.9" height="41.3" fill="#b3b3b3"/>
<text transform="translate(962.45,1930.6)" font-size="20.9" fill="#fff" text-anchor="middle">Chlorpromazine</text>
<rect x="889.5" y="1946.5" width="145.9" height="542.3" fill="#fff"/>
<line x1="889.5" y1="2464.1" x2="1035.4" y2="2464.1" stroke="#f5f5f5" stroke-width="1"/>
<line x1="889.5" y1="2354.5" x2="1035.4" y2="2354.5" stroke="#f5f5f5" stroke-width="1"/>
<line x1="889.5" y1="2244.9" x2="1035.4" y2="2244.9" stroke="#f5f5f5" stroke-width="1"/>
<line x1="889.5" y1="2135.3" x2="1035.4" y2="2135.3" stroke="#f5f5f5" stroke-width="1"/>
<line x1="889.5" y1="2025.7" x2="1035.4" y2="2025.7" stroke="#f5f5f5" stroke-width="1"/>
<line x1="889.5" y1="2409.3" x2="1035.4" y2="2409.3" stroke="#ebebeb" stroke-width="1.1"/>
<line x1="889.5" y1="2299.7" x2="1035.4" y2="2299.7" stroke="#ebebeb" stroke-width="1.1"/>
<line x1="889.5" y1="2190.1" x2="1035.4" y2="2190.1" stroke="#ebebeb" stroke-width="1.1"/>
<line x1="889.5" y1="2080.5" x2="1035.4" y2="2080.5" stroke="#ebebeb" stroke-width="1.1"/>
<line x1="889.5" y1="1970.9" x2="1035.4" y2="1970.9" stroke="#ebebeb" stroke-width="1.1"/>
<line x1="929.29" y1="1946.5" x2="929.29" y2="2488.8" stroke="#ebebeb" stroke-width="1.1"/>
<line x1="995.61" y1="1946.5" x2="995.61" y2="2488.8" stroke="#ebebeb" stroke-width="1.1"/>
<rect x="889.5" y="1946.5" width="145.9" height="542.3" fill="none" stroke="#a9a9a9" stroke-width="1.9"/>
<line x1="929.29" y1="2488.8" x2="929.29" y2="2494.8" stroke="#b3b3b3" stroke-width="1.3"/>
<line x1="995.61" y1="2488.8" x2="995.61" y2="2494.8" stroke="#b3b3b3" stroke-width="1.3"/>
<text transform="translate(998.61,1978.2) scale(1,1.035)" font-size="25" fill="#2a2a2a" text-anchor="middle">NS</text>
<text transform="translate(930.79,2521.2) scale(1,1.035)" font-size="23.5" fill="#333333" text-anchor="middle">0</text>
<text transform="translate(997.11,2521.2) scale(1,1.035)" font-size="23.5" fill="#333333" text-anchor="middle">6</text>
<text transform="translate(81.4,2420.2) scale(1,1.035)" font-size="23.3" fill="#333333" text-anchor="end">10<tspan dy="-10.2" dx="0.9" font-size="20.4">2</tspan></text>
<text transform="translate(81.4,2310.6) scale(1,1.035)" font-size="23.3" fill="#333333" text-anchor="end">10<tspan dy="-10.2" dx="0.9" font-size="20.4">4</tspan></text>
<text transform="translate(81.4,2201) scale(1,1.035)" font-size="23.3" fill="#333333" text-anchor="end">10<tspan dy="-10.2" dx="0.9" font-size="20.4">6</tspan></text>
<text transform="translate(81.4,2091.4) scale(1,1.035)" font-size="23.3" fill="#333333" text-anchor="end">10<tspan dy="-10.2" dx="0.9" font-size="20.4">8</tspan></text>
<text transform="translate(85,1981.8) scale(1,1.035)" font-size="23.3" fill="#333333" text-anchor="end">10<tspan dy="-10.2" dx="3.0" font-size="20.4">10</tspan></text>
<text transform="translate(565.9,2550.9)" font-size="29.2" fill="#000" text-anchor="middle">Days after treatment</text>
<text transform="translate(35.6,2162.5) rotate(-90)" font-size="29" fill="#000" text-anchor="middle">CFU <tspan font-style="italic">E. coli</tspan> /g faeces</text>
<circle cx="135.1" cy="2179.8" r="5.8" fill="#595959" fill-opacity="0.45" stroke="#595959" stroke-opacity="0.28" stroke-width="0.8"/>
<circle cx="129.4" cy="2210.3" r="5.8" fill="#595959" fill-opacity="0.45" stroke="#595959" stroke-opacity="0.28" stroke-width="0.8"/>
<circle cx="135.5" cy="2209.2" r="5.8" fill="#595959" fill-opacity="0.45" stroke="#595959" stroke-opacity="0.28" stroke-width="0.8"/>
<circle cx="133" cy="2221.1" r="5.8" fill="#595959" fill-opacity="0.45" stroke="#595959" stroke-opacity="0.28" stroke-width="0.8"/>
<circle cx="131.9" cy="2235.5" r="5.8" fill="#595959" fill-opacity="0.45" stroke="#595959" stroke-opacity="0.28" stroke-width="0.8"/>
<circle cx="131.9" cy="2248" r="5.8" fill="#595959" fill-opacity="0.45" stroke="#595959" stroke-opacity="0.28" stroke-width="0.8"/>
<circle cx="134.4" cy="2257" r="5.8" fill="#595959" fill-opacity="0.45" stroke="#595959" stroke-opacity="0.28" stroke-width="0.8"/>
<circle cx="133" cy="2264.2" r="5.8" fill="#595959" fill-opacity="0.45" stroke="#595959" stroke-opacity="0.28" stroke-width="0.8"/>
<circle cx="136.2" cy="2263.1" r="5.8" fill="#595959" fill-opacity="0.45" stroke="#595959" stroke-opacity="0.28" stroke-width="0.8"/>
<circle cx="136.9" cy="2285" r="5.8" fill="#595959" fill-opacity="0.45" stroke="#595959" stroke-opacity="0.28" stroke-width="0.8"/>
<circle cx="199.1" cy="2178.7" r="5.8" fill="#595959" fill-opacity="0.45" stroke="#595959" stroke-opacity="0.28" stroke-width="0.8"/>
<circle cx="197.6" cy="2182.3" r="5.8" fill="#595959" fill-opacity="0.45" stroke="#595959" stroke-opacity="0.28" stroke-width="0.8"/>
<circle cx="196.9" cy="2189.5" r="5.8" fill="#595959" fill-opacity="0.45" stroke="#595959" stroke-opacity="0.28" stroke-width="0.8"/>
<circle cx="200.5" cy="2209.2" r="5.8" fill="#595959" fill-opacity="0.45" stroke="#595959" stroke-opacity="0.28" stroke-width="0.8"/>
<circle cx="196.9" cy="2212.8" r="5.8" fill="#595959" fill-opacity="0.45" stroke="#595959" stroke-opacity="0.28" stroke-width="0.8"/>
<circle cx="196.2" cy="2224.7" r="5.8" fill="#595959" fill-opacity="0.45" stroke="#595959" stroke-opacity="0.28" stroke-width="0.8"/>
<circle cx="203" cy="2240.8" r="5.8" fill="#595959" fill-opacity="0.45" stroke="#595959" stroke-opacity="0.28" stroke-width="0.8"/>
<circle cx="196.9" cy="2263.1" r="5.8" fill="#595959" fill-opacity="0.45" stroke="#595959" stroke-opacity="0.28" stroke-width="0.8"/>
<circle cx="199.8" cy="2312.7" r="5.8" fill="#595959" fill-opacity="0.45" stroke="#595959" stroke-opacity="0.28" stroke-width="0.8"/>
<circle cx="202.3" cy="2447.5" r="5.8" fill="#595959" fill-opacity="0.45" stroke="#595959" stroke-opacity="0.28" stroke-width="0.8"/>
<circle cx="295.7" cy="2189.5" r="5.8" fill="#595959" fill-opacity="0.45" stroke="#595959" stroke-opacity="0.28" stroke-width="0.8"/>
<circle cx="290.3" cy="2197.7" r="5.8" fill="#595959" fill-opacity="0.45" stroke="#595959" stroke-opacity="0.28" stroke-width="0.8"/>
<circle cx="296.1" cy="2195.9" r="5.8" fill="#595959" fill-opacity="0.45" stroke="#595959" stroke-opacity="0.28" stroke-width="0.8"/>
<circle cx="291.8" cy="2224.7" r="5.8" fill="#595959" fill-opacity="0.45" stroke="#595959" stroke-opacity="0.28" stroke-width="0.8"/>
<circle cx="293.9" cy="2233.7" r="5.8" fill="#595959" fill-opacity="0.45" stroke="#595959" stroke-opacity="0.28" stroke-width="0.8"/>
<circle cx="291.8" cy="2247" r="5.8" fill="#595959" fill-opacity="0.45" stroke="#595959" stroke-opacity="0.28" stroke-width="0.8"/>
<circle cx="293.9" cy="2263.1" r="5.8" fill="#595959" fill-opacity="0.45" stroke="#595959" stroke-opacity="0.28" stroke-width="0.8"/>
<circle cx="292.1" cy="2286.5" r="5.8" fill="#595959" fill-opacity="0.45" stroke="#595959" stroke-opacity="0.28" stroke-width="0.8"/>
<circle cx="356.1" cy="2172.6" r="5.8" fill="#595959" fill-opacity="0.45" stroke="#595959" stroke-opacity="0.28" stroke-width="0.8"/>
<circle cx="355.7" cy="2185.2" r="5.8" fill="#595959" fill-opacity="0.45" stroke="#595959" stroke-opacity="0.28" stroke-width="0.8"/>
<circle cx="358.6" cy="2193.4" r="5.8" fill="#595959" fill-opacity="0.45" stroke="#595959" stroke-opacity="0.28" stroke-width="0.8"/>
<circle cx="361.1" cy="2199.5" r="5.8" fill="#595959" fill-opacity="0.45" stroke="#595959" stroke-opacity="0.28" stroke-width="0.8"/>
<circle cx="355.7" cy="2208.5" r="5.8" fill="#595959" fill-opacity="0.45" stroke="#595959" stroke-opacity="0.28" stroke-width="0.8"/>
<circle cx="355" cy="2211.4" r="5.8" fill="#595959" fill-opacity="0.45" stroke="#595959" stroke-opacity="0.28" stroke-width="0.8"/>
<circle cx="359.3" cy="2248" r="5.8" fill="#595959" fill-opacity="0.45" stroke="#595959" stroke-opacity="0.28" stroke-width="0.8"/>
<circle cx="453.5" cy="2176.2" r="5.8" fill="#595959" fill-opacity="0.45" stroke="#595959" stroke-opacity="0.28" stroke-width="0.8"/>
<circle cx="451" cy="2206" r="5.8" fill="#595959" fill-opacity="0.45" stroke="#595959" stroke-opacity="0.28" stroke-width="0.8"/>
<circle cx="448.4" cy="2225.8" r="5.8" fill="#595959" fill-opacity="0.45" stroke="#595959" stroke-opacity="0.28" stroke-width="0.8"/>
<circle cx="454.5" cy="2225.8" r="5.8" fill="#595959" fill-opacity="0.45" stroke="#595959" stroke-opacity="0.28" stroke-width="0.8"/>
<circle cx="448.4" cy="2258.8" r="5.8" fill="#595959" fill-opacity="0.45" stroke="#595959" stroke-opacity="0.28" stroke-width="0.8"/>
<circle cx="450.2" cy="2275" r="5.8" fill="#595959" fill-opacity="0.45" stroke="#595959" stroke-opacity="0.28" stroke-width="0.8"/>
<circle cx="450.2" cy="2284" r="5.8" fill="#595959" fill-opacity="0.45" stroke="#595959" stroke-opacity="0.28" stroke-width="0.8"/>
<circle cx="519.8" cy="2182.3" r="5.8" fill="#595959" fill-opacity="0.45" stroke="#595959" stroke-opacity="0.28" stroke-width="0.8"/>
<circle cx="520.5" cy="2185.9" r="5.8" fill="#595959" fill-opacity="0.45" stroke="#595959" stroke-opacity="0.28" stroke-width="0.8"/>
<circle cx="517.2" cy="2201.3" r="5.8" fill="#595959" fill-opacity="0.45" stroke="#595959" stroke-opacity="0.28" stroke-width="0.8"/>
<circle cx="518" cy="2206.7" r="5.8" fill="#595959" fill-opacity="0.45" stroke="#595959" stroke-opacity="0.28" stroke-width="0.8"/>
<circle cx="516.2" cy="2218.6" r="5.8" fill="#595959" fill-opacity="0.45" stroke="#595959" stroke-opacity="0.28" stroke-width="0.8"/>
<circle cx="521.6" cy="2249.8" r="5.8" fill="#595959" fill-opacity="0.45" stroke="#595959" stroke-opacity="0.28" stroke-width="0.8"/>
<circle cx="520.5" cy="2254.1" r="5.8" fill="#595959" fill-opacity="0.45" stroke="#595959" stroke-opacity="0.28" stroke-width="0.8"/>
<circle cx="607.8" cy="2194.9" r="5.8" fill="#595959" fill-opacity="0.45" stroke="#595959" stroke-opacity="0.28" stroke-width="0.8"/>
<circle cx="612.5" cy="2196.7" r="5.8" fill="#595959" fill-opacity="0.45" stroke="#595959" stroke-opacity="0.28" stroke-width="0.8"/>
<circle cx="609.6" cy="2216.8" r="5.8" fill="#595959" fill-opacity="0.45" stroke="#595959" stroke-opacity="0.28" stroke-width="0.8"/>
<circle cx="610.3" cy="2222.4" r="5.8" fill="#595959" fill-opacity="0.45" stroke="#595959" stroke-opacity="0.28" stroke-width="0.8"/>
<circle cx="607.8" cy="2225.8" r="5.8" fill="#595959" fill-opacity="0.45" stroke="#595959" stroke-opacity="0.28" stroke-width="0.8"/>
<circle cx="615" cy="2231.1" r="5.8" fill="#595959" fill-opacity="0.45" stroke="#595959" stroke-opacity="0.28" stroke-width="0.8"/>
<circle cx="607.1" cy="2242.6" r="5.8" fill="#595959" fill-opacity="0.45" stroke="#595959" stroke-opacity="0.28" stroke-width="0.8"/>
<circle cx="612.5" cy="2250.5" r="5.8" fill="#595959" fill-opacity="0.45" stroke="#595959" stroke-opacity="0.28" stroke-width="0.8"/>
<circle cx="609.6" cy="2267.1" r="5.8" fill="#595959" fill-opacity="0.45" stroke="#595959" stroke-opacity="0.28" stroke-width="0.8"/>
<circle cx="674.3" cy="2179.8" r="5.8" fill="#595959" fill-opacity="0.45" stroke="#595959" stroke-opacity="0.28" stroke-width="0.8"/>
<circle cx="673.6" cy="2206" r="5.8" fill="#595959" fill-opacity="0.45" stroke="#595959" stroke-opacity="0.28" stroke-width="0.8"/>
<circle cx="675" cy="2213.9" r="5.8" fill="#595959" fill-opacity="0.45" stroke="#595959" stroke-opacity="0.28" stroke-width="0.8"/>
<circle cx="677.1" cy="2218.6" r="5.8" fill="#595959" fill-opacity="0.45" stroke="#595959" stroke-opacity="0.28" stroke-width="0.8"/>
<circle cx="676.1" cy="2230.1" r="5.8" fill="#595959" fill-opacity="0.45" stroke="#595959" stroke-opacity="0.28" stroke-width="0.8"/>
<circle cx="680.4" cy="2237.3" r="5.8" fill="#595959" fill-opacity="0.45" stroke="#595959" stroke-opacity="0.28" stroke-width="0.8"/>
<circle cx="679.7" cy="2256.3" r="5.8" fill="#595959" fill-opacity="0.45" stroke="#595959" stroke-opacity="0.28" stroke-width="0.8"/>
<circle cx="769.1" cy="2154.2" r="5.8" fill="#595959" fill-opacity="0.45" stroke="#595959" stroke-opacity="0.28" stroke-width="0.8"/>
<circle cx="768.8" cy="2182.3" r="5.8" fill="#595959" fill-opacity="0.45" stroke="#595959" stroke-opacity="0.28" stroke-width="0.8"/>
<circle cx="771.7" cy="2184.1" r="5.8" fill="#595959" fill-opacity="0.45" stroke="#595959" stroke-opacity="0.28" stroke-width="0.8"/>
<circle cx="774.2" cy="2188" r="5.8" fill="#595959" fill-opacity="0.45" stroke="#595959" stroke-opacity="0.28" stroke-width="0.8"/>
<circle cx="771.3" cy="2233.7" r="5.8" fill="#595959" fill-opacity="0.45" stroke="#595959" stroke-opacity="0.28" stroke-width="0.8"/>
<circle cx="772" cy="2237.3" r="5.8" fill="#595959" fill-opacity="0.45" stroke="#595959" stroke-opacity="0.28" stroke-width="0.8"/>
<circle cx="767.7" cy="2289.4" r="5.8" fill="#595959" fill-opacity="0.45" stroke="#595959" stroke-opacity="0.28" stroke-width="0.8"/>
<circle cx="836" cy="2165.4" r="5.8" fill="#595959" fill-opacity="0.45" stroke="#595959" stroke-opacity="0.28" stroke-width="0.8"/>
<circle cx="833.4" cy="2178" r="5.8" fill="#595959" fill-opacity="0.45" stroke="#595959" stroke-opacity="0.28" stroke-width="0.8"/>
<circle cx="837.8" cy="2179.8" r="5.8" fill="#595959" fill-opacity="0.45" stroke="#595959" stroke-opacity="0.28" stroke-width="0.8"/>
<circle cx="832.4" cy="2195.9" r="5.8" fill="#595959" fill-opacity="0.45" stroke="#595959" stroke-opacity="0.28" stroke-width="0.8"/>
<circle cx="839.6" cy="2198.8" r="5.8" fill="#595959" fill-opacity="0.45" stroke="#595959" stroke-opacity="0.28" stroke-width="0.8"/>
<circle cx="833.4" cy="2227.6" r="5.8" fill="#595959" fill-opacity="0.45" stroke="#595959" stroke-opacity="0.28" stroke-width="0.8"/>
<circle cx="834.2" cy="2231.1" r="5.8" fill="#595959" fill-opacity="0.45" stroke="#595959" stroke-opacity="0.28" stroke-width="0.8"/>
<circle cx="833.1" cy="2242.6" r="5.8" fill="#595959" fill-opacity="0.45" stroke="#595959" stroke-opacity="0.28" stroke-width="0.8"/>
<circle cx="931.9" cy="2191.6" r="5.8" fill="#595959" fill-opacity="0.45" stroke="#595959" stroke-opacity="0.28" stroke-width="0.8"/>
<circle cx="925.8" cy="2197.7" r="5.8" fill="#595959" fill-opacity="0.45" stroke="#595959" stroke-opacity="0.28" stroke-width="0.8"/>
<circle cx="931.2" cy="2225.8" r="5.8" fill="#595959" fill-opacity="0.45" stroke="#595959" stroke-opacity="0.28" stroke-width="0.8"/>
<circle cx="929.4" cy="2231.1" r="5.8" fill="#595959" fill-opacity="0.45" stroke="#595959" stroke-opacity="0.28" stroke-width="0.8"/>
<circle cx="925.8" cy="2236.8" r="5.8" fill="#595959" fill-opacity="0.45" stroke="#595959" stroke-opacity="0.28" stroke-width="0.8"/>
<circle cx="927.6" cy="2245.5" r="5.8" fill="#595959" fill-opacity="0.45" stroke="#595959" stroke-opacity="0.28" stroke-width="0.8"/>
<circle cx="927.6" cy="2284" r="5.8" fill="#595959" fill-opacity="0.45" stroke="#595959" stroke-opacity="0.28" stroke-width="0.8"/>
<circle cx="928.7" cy="2332.5" r="5.8" fill="#595959" fill-opacity="0.45" stroke="#595959" stroke-opacity="0.28" stroke-width="0.8"/>
<circle cx="996.9" cy="2180.5" r="5.8" fill="#595959" fill-opacity="0.45" stroke="#595959" stroke-opacity="0.28" stroke-width="0.8"/>
<circle cx="992.3" cy="2195.9" r="5.8" fill="#595959" fill-opacity="0.45" stroke="#595959" stroke-opacity="0.28" stroke-width="0.8"/>
<circle cx="999.5" cy="2200.6" r="5.8" fill="#595959" fill-opacity="0.45" stroke="#595959" stroke-opacity="0.28" stroke-width="0.8"/>
<circle cx="995.2" cy="2222.9" r="5.8" fill="#595959" fill-opacity="0.45" stroke="#595959" stroke-opacity="0.28" stroke-width="0.8"/>
<circle cx="992.3" cy="2227.6" r="5.8" fill="#595959" fill-opacity="0.45" stroke="#595959" stroke-opacity="0.28" stroke-width="0.8"/>
<circle cx="994.1" cy="2236.2" r="5.8" fill="#595959" fill-opacity="0.45" stroke="#595959" stroke-opacity="0.28" stroke-width="0.8"/>
<circle cx="996.6" cy="2327.1" r="5.8" fill="#595959" fill-opacity="0.45" stroke="#595959" stroke-opacity="0.28" stroke-width="0.8"/>
<line x1="124.2" y1="2237.3" x2="143.2" y2="2237.3" stroke="#bf2126" stroke-width="1.7"/>
<line x1="133.7" y1="2228.3" x2="133.7" y2="2246.2" stroke="#bf2126" stroke-width="1.7"/>
<line x1="190.6" y1="2246.2" x2="209.6" y2="2246.2" stroke="#bf2126" stroke-width="1.7"/>
<line x1="200.1" y1="2220.4" x2="200.1" y2="2271.4" stroke="#bf2126" stroke-width="1.7"/>
<line x1="283.3" y1="2230" x2="302.3" y2="2230" stroke="#bf2126" stroke-width="1.7"/>
<line x1="292.8" y1="2218.6" x2="292.8" y2="2241.9" stroke="#bf2126" stroke-width="1.7"/>
<line x1="349.8" y1="2202.4" x2="368.8" y2="2202.4" stroke="#bf2126" stroke-width="1.7"/>
<line x1="359.3" y1="2192.3" x2="359.3" y2="2212.1" stroke="#bf2126" stroke-width="1.7"/>
<line x1="442.4" y1="2236.2" x2="461.4" y2="2236.2" stroke="#bf2126" stroke-width="1.7"/>
<line x1="451.9" y1="2222.9" x2="451.9" y2="2249.8" stroke="#bf2126" stroke-width="1.7"/>
<line x1="508.9" y1="2213.9" x2="527.9" y2="2213.9" stroke="#bf2126" stroke-width="1.7"/>
<line x1="518.4" y1="2203.8" x2="518.4" y2="2224" stroke="#bf2126" stroke-width="1.7"/>
<line x1="601.4" y1="2227.8" x2="620.4" y2="2227.8" stroke="#bf2126" stroke-width="1.7"/>
<line x1="610.9" y1="2218.1" x2="610.9" y2="2237.5" stroke="#bf2126" stroke-width="1.7"/>
<line x1="667.7" y1="2220.6" x2="686.7" y2="2220.6" stroke="#bf2126" stroke-width="1.7"/>
<line x1="677.2" y1="2209.9" x2="677.2" y2="2230.3" stroke="#bf2126" stroke-width="1.7"/>
<line x1="761" y1="2209.6" x2="780" y2="2209.6" stroke="#bf2126" stroke-width="1.7"/>
<line x1="770.5" y1="2195.9" x2="770.5" y2="2222.9" stroke="#bf2126" stroke-width="1.7"/>
<line x1="827.3" y1="2202.4" x2="846.3" y2="2202.4" stroke="#bf2126" stroke-width="1.7"/>
<line x1="836.8" y1="2193" x2="836.8" y2="2212.4" stroke="#bf2126" stroke-width="1.7"/>
<line x1="919.8" y1="2243.4" x2="938.8" y2="2243.4" stroke="#bf2126" stroke-width="1.7"/>
<line x1="929.3" y1="2229" x2="929.3" y2="2256.3" stroke="#bf2126" stroke-width="1.7"/>
<line x1="986.1" y1="2226.5" x2="1005.1" y2="2226.5" stroke="#bf2126" stroke-width="1.7"/>
<line x1="995.6" y1="2214.5" x2="995.6" y2="2239.7" stroke="#bf2126" stroke-width="1.7"/>
<text transform="translate(1103.6,1914.6)" font-size="66" fill="#000">h</text>
<text transform="translate(1375.5,1881.1)" font-size="29.6" fill="#000" text-anchor="middle">Hum</text>
<line x1="1210" y1="1893.7" x2="1535.9" y2="1893.7" stroke="#000" stroke-width="4.2" stroke-linecap="round"/>
<rect x="1158.8" y="1906.2" width="209.1" height="40.3" fill="#b3b3b3"/>
<text transform="translate(1263.35,1934.4) scale(1,1.035)" font-size="20.9" fill="#fff" text-anchor="middle">DMSO</text>
<rect x="1158.8" y="1946.5" width="209.1" height="542.3" fill="#fff"/>
<line x1="1158.8" y1="2464.8" x2="1367.9" y2="2464.8" stroke="#f5f5f5" stroke-width="1"/>
<line x1="1158.8" y1="2355.2" x2="1367.9" y2="2355.2" stroke="#f5f5f5" stroke-width="1"/>
<line x1="1158.8" y1="2245.6" x2="1367.9" y2="2245.6" stroke="#f5f5f5" stroke-width="1"/>
<line x1="1158.8" y1="2136" x2="1367.9" y2="2136" stroke="#f5f5f5" stroke-width="1"/>
<line x1="1158.8" y1="2026.4" x2="1367.9" y2="2026.4" stroke="#f5f5f5" stroke-width="1"/>
<line x1="1158.8" y1="2410" x2="1367.9" y2="2410" stroke="#ebebeb" stroke-width="1.1"/>
<line x1="1158.8" y1="2300.4" x2="1367.9" y2="2300.4" stroke="#ebebeb" stroke-width="1.1"/>
<line x1="1158.8" y1="2190.8" x2="1367.9" y2="2190.8" stroke="#ebebeb" stroke-width="1.1"/>
<line x1="1158.8" y1="2081.2" x2="1367.9" y2="2081.2" stroke="#ebebeb" stroke-width="1.1"/>
<line x1="1158.8" y1="1971.6" x2="1367.9" y2="1971.6" stroke="#ebebeb" stroke-width="1.1"/>
<line x1="1215.83" y1="1946.5" x2="1215.83" y2="2488.8" stroke="#ebebeb" stroke-width="1.1"/>
<line x1="1310.87" y1="1946.5" x2="1310.87" y2="2488.8" stroke="#ebebeb" stroke-width="1.1"/>
<rect x="1158.8" y="1946.5" width="209.1" height="542.3" fill="none" stroke="#a9a9a9" stroke-width="1.9"/>
<line x1="1154.3" y1="2410" x2="1158.8" y2="2410" stroke="#b3b3b3" stroke-width="1.3"/>
<line x1="1154.3" y1="2300.4" x2="1158.8" y2="2300.4" stroke="#b3b3b3" stroke-width="1.3"/>
<line x1="1154.3" y1="2190.8" x2="1158.8" y2="2190.8" stroke="#b3b3b3" stroke-width="1.3"/>
<line x1="1154.3" y1="2081.2" x2="1158.8" y2="2081.2" stroke="#b3b3b3" stroke-width="1.3"/>
<line x1="1154.3" y1="1971.6" x2="1158.8" y2="1971.6" stroke="#b3b3b3" stroke-width="1.3"/>
<line x1="1215.83" y1="2488.8" x2="1215.83" y2="2494.8" stroke="#b3b3b3" stroke-width="1.3"/>
<line x1="1310.87" y1="2488.8" x2="1310.87" y2="2494.8" stroke="#b3b3b3" stroke-width="1.3"/>
<text transform="translate(1313.87,1978.2) scale(1,1.035)" font-size="25" fill="#2a2a2a" text-anchor="middle">NS</text>
<text transform="translate(1216.03,2516.6) scale(1,1.035)" font-size="23.5" fill="#333333" text-anchor="middle">0</text>
<text transform="translate(1311.07,2516.6) scale(1,1.035)" font-size="23.5" fill="#333333" text-anchor="middle">6</text>
<rect x="1380.9" y="1906.2" width="210" height="40.3" fill="#b3b3b3"/>
<text transform="translate(1485.9,1934.4)" font-size="20.9" fill="#fff" text-anchor="middle">Terfenadine</text>
<rect x="1380.9" y="1946.5" width="210" height="542.3" fill="#fff"/>
<line x1="1380.9" y1="2464.8" x2="1590.9" y2="2464.8" stroke="#f5f5f5" stroke-width="1"/>
<line x1="1380.9" y1="2355.2" x2="1590.9" y2="2355.2" stroke="#f5f5f5" stroke-width="1"/>
<line x1="1380.9" y1="2245.6" x2="1590.9" y2="2245.6" stroke="#f5f5f5" stroke-width="1"/>
<line x1="1380.9" y1="2136" x2="1590.9" y2="2136" stroke="#f5f5f5" stroke-width="1"/>
<line x1="1380.9" y1="2026.4" x2="1590.9" y2="2026.4" stroke="#f5f5f5" stroke-width="1"/>
<line x1="1380.9" y1="2410" x2="1590.9" y2="2410" stroke="#ebebeb" stroke-width="1.1"/>
<line x1="1380.9" y1="2300.4" x2="1590.9" y2="2300.4" stroke="#ebebeb" stroke-width="1.1"/>
<line x1="1380.9" y1="2190.8" x2="1590.9" y2="2190.8" stroke="#ebebeb" stroke-width="1.1"/>
<line x1="1380.9" y1="2081.2" x2="1590.9" y2="2081.2" stroke="#ebebeb" stroke-width="1.1"/>
<line x1="1380.9" y1="1971.6" x2="1590.9" y2="1971.6" stroke="#ebebeb" stroke-width="1.1"/>
<line x1="1438.17" y1="1946.5" x2="1438.17" y2="2488.8" stroke="#ebebeb" stroke-width="1.1"/>
<line x1="1533.63" y1="1946.5" x2="1533.63" y2="2488.8" stroke="#ebebeb" stroke-width="1.1"/>
<rect x="1380.9" y="1946.5" width="210" height="542.3" fill="none" stroke="#a9a9a9" stroke-width="1.9"/>
<line x1="1438.17" y1="2488.8" x2="1438.17" y2="2494.8" stroke="#b3b3b3" stroke-width="1.3"/>
<line x1="1533.63" y1="2488.8" x2="1533.63" y2="2494.8" stroke="#b3b3b3" stroke-width="1.3"/>
<text transform="translate(1536.63,1978.2) scale(1,1.035)" font-size="25" fill="#2a2a2a" text-anchor="middle">NS</text>
<text transform="translate(1438.37,2516.6) scale(1,1.035)" font-size="23.5" fill="#333333" text-anchor="middle">0</text>
<text transform="translate(1533.83,2516.6) scale(1,1.035)" font-size="23.5" fill="#333333" text-anchor="middle">6</text>
<text transform="translate(1146.1,2420.9) scale(1,1.035)" font-size="23.3" fill="#333333" text-anchor="end">10<tspan dy="-10.2" dx="0.9" font-size="20.4">2</tspan></text>
<text transform="translate(1146.1,2311.3) scale(1,1.035)" font-size="23.3" fill="#333333" text-anchor="end">10<tspan dy="-10.2" dx="0.9" font-size="20.4">4</tspan></text>
<text transform="translate(1146.1,2201.7) scale(1,1.035)" font-size="23.3" fill="#333333" text-anchor="end">10<tspan dy="-10.2" dx="0.9" font-size="20.4">6</tspan></text>
<text transform="translate(1146.1,2092.1) scale(1,1.035)" font-size="23.3" fill="#333333" text-anchor="end">10<tspan dy="-10.2" dx="0.9" font-size="20.4">8</tspan></text>
<text transform="translate(1149.7,1982.5) scale(1,1.035)" font-size="23.3" fill="#333333" text-anchor="end">10<tspan dy="-10.2" dx="3.0" font-size="20.4">10</tspan></text>
<text transform="translate(1376.7,2550.9)" font-size="29.3" fill="#000" text-anchor="middle">Days after treatment</text>
<text transform="translate(1096.3,2162.5) rotate(-90)" font-size="29" fill="#000" text-anchor="middle">CFU <tspan font-style="italic">E. coli</tspan> /g faeces</text>
<circle cx="1226.4" cy="2023" r="5.8" fill="#595959" fill-opacity="0.45" stroke="#595959" stroke-opacity="0.28" stroke-width="0.8"/>
<circle cx="1221.7" cy="2036.3" r="5.8" fill="#595959" fill-opacity="0.45" stroke="#595959" stroke-opacity="0.28" stroke-width="0.8"/>
<circle cx="1210.9" cy="2049.2" r="5.8" fill="#595959" fill-opacity="0.45" stroke="#595959" stroke-opacity="0.28" stroke-width="0.8"/>
<circle cx="1215.2" cy="2064.3" r="5.8" fill="#595959" fill-opacity="0.45" stroke="#595959" stroke-opacity="0.28" stroke-width="0.8"/>
<circle cx="1206.6" cy="2068.6" r="5.8" fill="#595959" fill-opacity="0.45" stroke="#595959" stroke-opacity="0.28" stroke-width="0.8"/>
<circle cx="1224.2" cy="2067.2" r="5.8" fill="#595959" fill-opacity="0.45" stroke="#595959" stroke-opacity="0.28" stroke-width="0.8"/>
<circle cx="1210.2" cy="2075.8" r="5.8" fill="#595959" fill-opacity="0.45" stroke="#595959" stroke-opacity="0.28" stroke-width="0.8"/>
<circle cx="1226" cy="2083" r="5.8" fill="#595959" fill-opacity="0.45" stroke="#595959" stroke-opacity="0.28" stroke-width="0.8"/>
<circle cx="1207.3" cy="2093.1" r="5.8" fill="#595959" fill-opacity="0.45" stroke="#595959" stroke-opacity="0.28" stroke-width="0.8"/>
<circle cx="1210.2" cy="2093.8" r="5.8" fill="#595959" fill-opacity="0.45" stroke="#595959" stroke-opacity="0.28" stroke-width="0.8"/>
<circle cx="1222.8" cy="2099.6" r="5.8" fill="#595959" fill-opacity="0.45" stroke="#595959" stroke-opacity="0.28" stroke-width="0.8"/>
<circle cx="1218.8" cy="2120" r="5.8" fill="#595959" fill-opacity="0.45" stroke="#595959" stroke-opacity="0.28" stroke-width="0.8"/>
<circle cx="1307.2" cy="2020.5" r="5.8" fill="#595959" fill-opacity="0.45" stroke="#595959" stroke-opacity="0.28" stroke-width="0.8"/>
<circle cx="1315.1" cy="2016.9" r="5.8" fill="#595959" fill-opacity="0.45" stroke="#595959" stroke-opacity="0.28" stroke-width="0.8"/>
<circle cx="1304.3" cy="2030.2" r="5.8" fill="#595959" fill-opacity="0.45" stroke="#595959" stroke-opacity="0.28" stroke-width="0.8"/>
<circle cx="1316.6" cy="2033.4" r="5.8" fill="#595959" fill-opacity="0.45" stroke="#595959" stroke-opacity="0.28" stroke-width="0.8"/>
<circle cx="1317.6" cy="2047.1" r="5.8" fill="#595959" fill-opacity="0.45" stroke="#595959" stroke-opacity="0.28" stroke-width="0.8"/>
<circle cx="1316.9" cy="2054.3" r="5.8" fill="#595959" fill-opacity="0.45" stroke="#595959" stroke-opacity="0.28" stroke-width="0.8"/>
<circle cx="1317.6" cy="2071.5" r="5.8" fill="#595959" fill-opacity="0.45" stroke="#595959" stroke-opacity="0.28" stroke-width="0.8"/>
<circle cx="1311.5" cy="2081.6" r="5.8" fill="#595959" fill-opacity="0.45" stroke="#595959" stroke-opacity="0.28" stroke-width="0.8"/>
<circle cx="1315.8" cy="2082.3" r="5.8" fill="#595959" fill-opacity="0.45" stroke="#595959" stroke-opacity="0.28" stroke-width="0.8"/>
<circle cx="1322" cy="2087.3" r="5.8" fill="#595959" fill-opacity="0.45" stroke="#595959" stroke-opacity="0.28" stroke-width="0.8"/>
<circle cx="1321.6" cy="2117.2" r="5.8" fill="#595959" fill-opacity="0.45" stroke="#595959" stroke-opacity="0.28" stroke-width="0.8"/>
<circle cx="1320.2" cy="2138" r="5.8" fill="#595959" fill-opacity="0.45" stroke="#595959" stroke-opacity="0.28" stroke-width="0.8"/>
<circle cx="1433.7" cy="2029.1" r="5.8" fill="#595959" fill-opacity="0.45" stroke="#595959" stroke-opacity="0.28" stroke-width="0.8"/>
<circle cx="1449.1" cy="2032.7" r="5.8" fill="#595959" fill-opacity="0.45" stroke="#595959" stroke-opacity="0.28" stroke-width="0.8"/>
<circle cx="1443.8" cy="2038.1" r="5.8" fill="#595959" fill-opacity="0.45" stroke="#595959" stroke-opacity="0.28" stroke-width="0.8"/>
<circle cx="1448.8" cy="2043.5" r="5.8" fill="#595959" fill-opacity="0.45" stroke="#595959" stroke-opacity="0.28" stroke-width="0.8"/>
<circle cx="1442.7" cy="2060" r="5.8" fill="#595959" fill-opacity="0.45" stroke="#595959" stroke-opacity="0.28" stroke-width="0.8"/>
<circle cx="1429.4" cy="2073.7" r="5.8" fill="#595959" fill-opacity="0.45" stroke="#595959" stroke-opacity="0.28" stroke-width="0.8"/>
<circle cx="1448.1" cy="2069" r="5.8" fill="#595959" fill-opacity="0.45" stroke="#595959" stroke-opacity="0.28" stroke-width="0.8"/>
<circle cx="1432.3" cy="2079.4" r="5.8" fill="#595959" fill-opacity="0.45" stroke="#595959" stroke-opacity="0.28" stroke-width="0.8"/>
<circle cx="1434.4" cy="2089.5" r="5.8" fill="#595959" fill-opacity="0.45" stroke="#595959" stroke-opacity="0.28" stroke-width="0.8"/>
<circle cx="1439.1" cy="2090.2" r="5.8" fill="#595959" fill-opacity="0.45" stroke="#595959" stroke-opacity="0.28" stroke-width="0.8"/>
<circle cx="1443.8" cy="2096" r="5.8" fill="#595959" fill-opacity="0.45" stroke="#595959" stroke-opacity="0.28" stroke-width="0.8"/>
<circle cx="1529.6" cy="2023" r="5.8" fill="#595959" fill-opacity="0.45" stroke="#595959" stroke-opacity="0.28" stroke-width="0.8"/>
<circle cx="1537.9" cy="2028.4" r="5.8" fill="#595959" fill-opacity="0.45" stroke="#595959" stroke-opacity="0.28" stroke-width="0.8"/>
<circle cx="1540.8" cy="2042.8" r="5.8" fill="#595959" fill-opacity="0.45" stroke="#595959" stroke-opacity="0.28" stroke-width="0.8"/>
<circle cx="1538.6" cy="2048.2" r="5.8" fill="#595959" fill-opacity="0.45" stroke="#595959" stroke-opacity="0.28" stroke-width="0.8"/>
<circle cx="1536.1" cy="2050.7" r="5.8" fill="#595959" fill-opacity="0.45" stroke="#595959" stroke-opacity="0.28" stroke-width="0.8"/>
<circle cx="1526.4" cy="2059.7" r="5.8" fill="#595959" fill-opacity="0.45" stroke="#595959" stroke-opacity="0.28" stroke-width="0.8"/>
<circle cx="1539.7" cy="2063.3" r="5.8" fill="#595959" fill-opacity="0.45" stroke="#595959" stroke-opacity="0.28" stroke-width="0.8"/>
<circle cx="1542.2" cy="2084.1" r="5.8" fill="#595959" fill-opacity="0.45" stroke="#595959" stroke-opacity="0.28" stroke-width="0.8"/>
<circle cx="1543.3" cy="2088.8" r="5.8" fill="#595959" fill-opacity="0.45" stroke="#595959" stroke-opacity="0.28" stroke-width="0.8"/>
<circle cx="1526.4" cy="2103.1" r="5.8" fill="#595959" fill-opacity="0.45" stroke="#595959" stroke-opacity="0.28" stroke-width="0.8"/>
<circle cx="1534.3" cy="2112.9" r="5.8" fill="#595959" fill-opacity="0.45" stroke="#595959" stroke-opacity="0.28" stroke-width="0.8"/>
<line x1="1206.4" y1="2072.6" x2="1225.4" y2="2072.6" stroke="#bf2126" stroke-width="1.7"/>
<line x1="1215.9" y1="2063.6" x2="1215.9" y2="2081.6" stroke="#bf2126" stroke-width="1.7"/>
<line x1="1301.6" y1="2066.9" x2="1320.6" y2="2066.9" stroke="#bf2126" stroke-width="1.7"/>
<line x1="1311.1" y1="2057.2" x2="1311.1" y2="2076.9" stroke="#bf2126" stroke-width="1.7"/>
<line x1="1428.5" y1="2065.8" x2="1447.5" y2="2065.8" stroke="#bf2126" stroke-width="1.7"/>
<line x1="1438" y1="2056.4" x2="1438" y2="2075.8" stroke="#bf2126" stroke-width="1.7"/>
<line x1="1523.7" y1="2065.8" x2="1542.7" y2="2065.8" stroke="#bf2126" stroke-width="1.7"/>
<line x1="1533.2" y1="2056.4" x2="1533.2" y2="2075.8" stroke="#bf2126" stroke-width="1.7"/></svg></body></html>
